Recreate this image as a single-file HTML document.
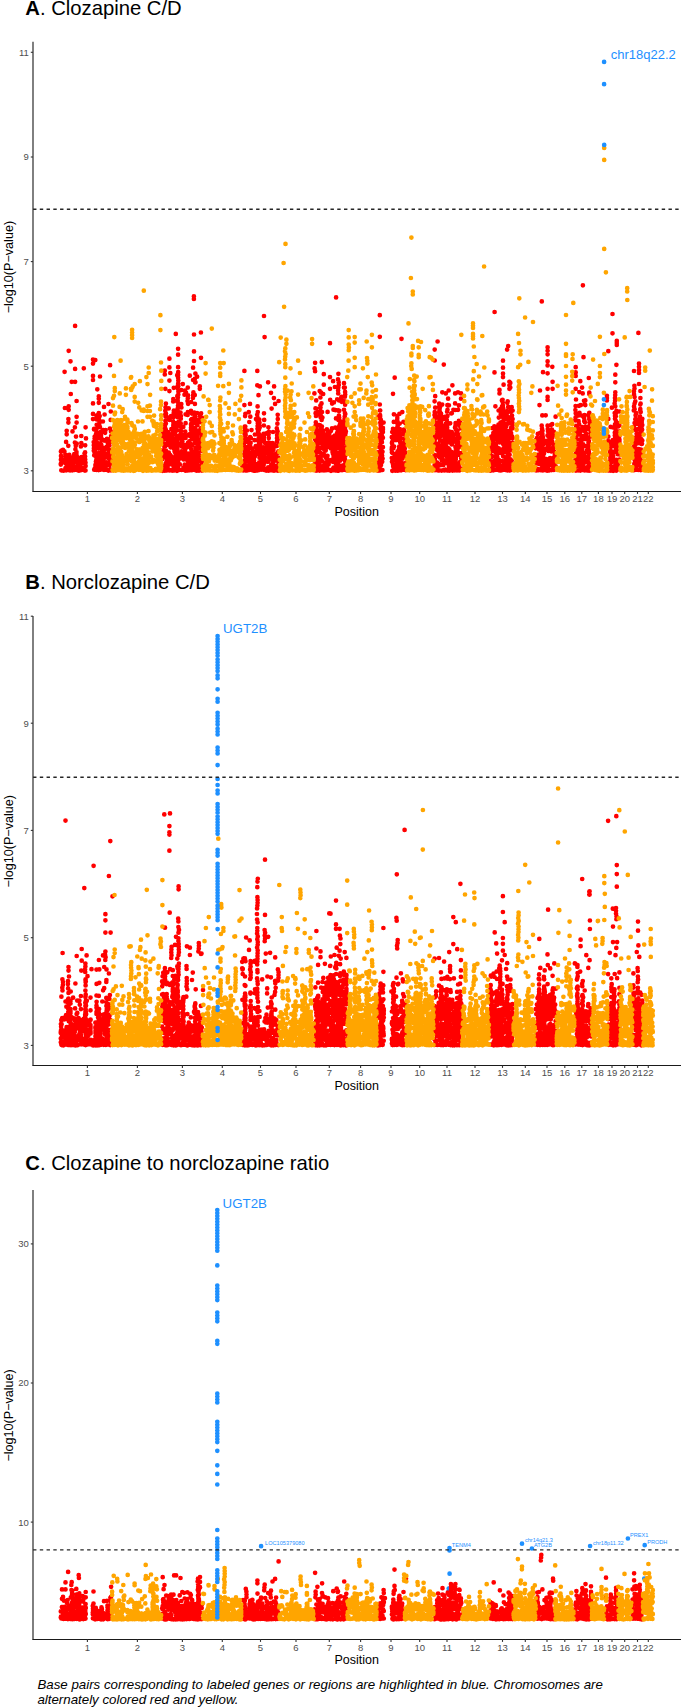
<!DOCTYPE html>
<html><head><meta charset="utf-8"><style>html,body{margin:0;padding:0;background:#fff;overflow:hidden}svg{display:block}text{font-family:"Liberation Sans", sans-serif}</style></head>
<body><svg width="685" height="1707" viewBox="0 0 685 1707">
<rect width="685" height="1707" fill="#fff"/>
<text x="25.3" y="14.6" font-size="20.25" fill="#000"><tspan font-weight="bold">A</tspan>. Clozapine C/D</text>
<path transform="scale(.1)" d="M630 4499h0m-14 8h0m-6 6h0m-1 3h0m1 43h0m3 32h0m-4 6h0m4 30h0m-5 11h0m0 8h0m5 57h0m22 4h0m11-989h0m3 362h0m18 228h0m0 35h0m-6 76h0m-17 95h0m10 31h0m0 20h0m17 7h0m8 5h0m-32 17h0m15 6h0m-21 17h0m37 6h0m-26 6h0m11 42h0m-8 9h0m1 6h0m23 12h0m-22 4h0m5 1h0m25-1195h0m18 105h0m12 205h0m-9 122h0m-21 123h0m0 35h0m-3 93h0m0 35h0m-1 232h0m10 91h0m24 33h0m-11 6h0m5 24h0m-26 2h0m-5 28h0m31 4h0m4 2h0m-26 12h0m-8 5h0m30 2h0m3 24h0m-22 3h0m9 10h0m50-1445h0m0 430h0m0 129h0m-2 455h0m-24 41h0m24 111h0m9 32h0m-4 36h0m-11 47h0m-1 7h0m-6 18h0m0 3h0m12 24h0m2 4h0m-7 28h0m-6 5h0m-11 1h0m7 13h0m-4 2h0m5 12h0m20 16h0m3 17h0m-6 2h0m-6 6h0m-22 5h0m43-693h0m0 158h0m0 58h0m-6 140h0m7 70h0m-1 4h0m-1 80h0m-1 13h0m3 24h0m-6 18h0m27 6h0m-22 8h0m31 9h0m-28 2h0m7 13h0m7 7h0m-7 8h0m1 31h0m11 6h0m2 8h0m-12 17h0m-11 8h0m22 9h0m49-1024h0m-25 677h0m0 70h0m-4 35h0m5 107h0m-5 19h0m5 1h0m-6 7h0m25 9h0m-18 1h0m-5 7h0m-9 2h0m27 6h0m-19 7h0m8 1h0m-2 41h0m18 26h0m-22 2h0m45-428h0m4 111h0m-8 69h0m-1 71h0m-6 11h0m2 28h0m4 1h0m1 30h0m3 33h0m-3 2h0m-6 1h0m10 29h0m-10 42h0m2 0h0m7 3h0m-5 2h0m80-1110h0m23 5h0m-23 35h0m0 123h0m0 41h0m0 234h0m0 105h0m0 52h0m11 97h0m15 3h0m-16 2h0m10 0h0m-9 1h0m17 5h0m-11 67h0m-1 19h0m5 13h0m-13 22h0m-1 0h0m17 4h0m-16 28h0m7 7h0m-6 24h0m15 10h0m-16 14h0m11 8h0m-4 5h0m-3 33h0m17 63h0m-1 23h0m0 4h0m-4 8h0m-6 33h0m-6 13h0m31-804h0m15 70h0m0 24h0m0 41h0m0 103h0m-23 25h0m23 0h0m8 4h0m1 1h0m-31 5h0m25 29h0m-23 0h0m26 34h0m-27 19h0m26 5h0m-2 8h0m4 0h0m4 9h0m-17 4h0m13 51h0m-34 13h0m18 17h0m-16 20h0m29 7h0m-17 3h0m-10 35h0m32 14h0m-29 12h0m20 0h0m-10 14h0m6 23h0m-11 50h0m16 2h0m7 6h0m0 1h0m3 11h0m-39 2h0m15 16h0m-12 2h0m26 22h0m-26 5h0m17 5h0m-13 20h0m13 1h0m-12 2h0m18 5h0m1 3h0m5 5h0m6 8h0m-3 11h0m-25 12h0m20 10h0m3 8h0m-29 9h0m22 2h0m14-936h0m29 450h0m-4 87h0m10 0h0m-30 20h0m5 10h0m-7 7h0m7 18h0m1 19h0m4 14h0m20 12h0m0 1h0m-17 0h0m-5 46h0m1 11h0m-5 3h0m-6 13h0m32 2h0m2 17h0m2 10h0m-17 1h0m13 10h0m1 0h0m-35 11h0m15 5h0m22 1h0m-15 6h0m15 2h0m-21 0h0m19 1h0m-1 15h0m4 29h0m-32 3h0m28 0h0m-34 10h0m5 3h0m29 8h0m0 7h0m-10 10h0m13 2h0m-3 6h0m-22 7h0m-12 6h0m35 10h0m-32 9h0m3 10h0m1 19h0m32-627h0m6 76h0m10 155h0m-5 28h0m19 60h0m8 4h0m-29 14h0m24 1h0m5 24h0m1 19h0m-12 19h0m5 66h0m-22 2h0m29 4h0m-19 17h0m13 18h0m-8 48h0m-17 4h0m-4 21h0m28 4h0m-9 3h0m-1 41h0m8 1h0m-30 1h0m61-1047h0m-16 388h0m23 75h0m-1 84h0m-8 86h0m11 29h0m1 46h0m0 30h0m-2 16h0m-16 15h0m7 2h0m-6 32h0m-9 4h0m-4 34h0m12 6h0m18 6h0m-4 13h0m-25 10h0m29 8h0m-7 8h0m-4 27h0m11 20h0m-12 4h0m2 2h0m-1 36h0m-2 8h0m2 2h0m-5 12h0m11 42h0m4 6h0m-26 3h0m553-386h0m-10 11h0m-1 24h0m-5 2h0m1 72h0m-1 7h0m6 6h0m-1 62h0m12 29h0m-2 21h0m-4 2h0m-4 11h0m2 8h0m-9 17h0m2 68h0m16 6h0m-13 42h0m22-1001h0m0 37h0m5 144h0m6 147h0m-4 38h0m-2 35h0m6 28h0m1 1h0m-8 10h0m3 18h0m-1 43h0m5 27h0m-14 14h0m6 2h0m1 29h0m-11 12h0m15 6h0m3 1h0m-1 18h0m3 35h0m11 19h0m-31 18h0m17 2h0m20 20h0m1 28h0m-29 1h0m-8 1h0m4 0h0m20 2h0m-14 1h0m27 2h0m-19 7h0m-8 9h0m-10 1h0m17 42h0m-11 35h0m-1 3h0m0 5h0m6 12h0m-11 13h0m36 6h0m-11 30h0m12 14h0m-17 4h0m-6 11h0m20 24h0m-19 1h0m19 16h0m-6 24h0m-22 4h0m46-1120h0m0 87h0m9 56h0m-9 76h0m0 105h0m-7 173h0m23 78h0m-19 12h0m-3 16h0m8 9h0m18 92h0m-30 32h0m33 20h0m-26 20h0m-7 20h0m6 11h0m8 8h0m-16 13h0m17 0h0m12 2h0m-10 9h0m11 8h0m-28 2h0m25 4h0m-1 22h0m-2 11h0m-18 52h0m14 25h0m-16 4h0m-6 1h0m24 2h0m5 4h0m-11 9h0m-2 23h0m16 10h0m-1 1h0m5 33h0m-10 4h0m-14 58h0m4 2h0m18 3h0m-18 1h0m62-1366h0m-20 539h0m-5 112h0m4 15h0m-5 9h0m7 91h0m-1 3h0m-1 23h0m2 12h0m-1 8h0m-7 23h0m1 41h0m2 27h0m-1 17h0m1 2h0m1 28h0m0 4h0m3 2h0m-4 7h0m1 10h0m-4 11h0m19 18h0m-28 21h0m33 26h0m-16 0h0m16 5h0m-4 24h0m-12 0h0m-16 0h0m30 8h0m-8 9h0m-13 2h0m16 2h0m-24 5h0m-2 5h0m23 18h0m-6 18h0m-1 2h0m8 30h0m5 10h0m4 3h0m-4 38h0m-15 18h0m1 3h0m-1 9h0m3 4h0m13 6h0m3 0h0m-20 19h0m10 0h0m-10 17h0m-3 10h0m5 18h0m2 7h0m5 25h0m-8 1h0m-9 2h0m54-1218h0m0 59h0m0 125h0m1 50h0m-1 28h0m-9 2h0m9 26h0m2 28h0m-1 28h0m1 28h0m-7 1h0m4 27h0m4 28h0m-1 28h0m-10 16h0m6 12h0m-2 28h0m-4 14h0m10 14h0m-3 28h0m-3 28h0m2 28h0m-1 28h0m7 28h0m-11 2h0m11 47h0m-18 12h0m0 3h0m12 9h0m-14 24h0m8 36h0m11 56h0m-9 5h0m-2 1h0m15 5h0m-12 3h0m-9 6h0m1 2h0m1 29h0m22 23h0m-12 12h0m-2 14h0m-8 12h0m5 18h0m-4 1h0m3 18h0m13 21h0m-6 17h0m-6 11h0m-9 2h0m0 18h0m8 7h0m9 20h0m-17 10h0m16 8h0m17 22h0m-33 20h0m0 1h0m16 10h0m-1 6h0m-6 7h0m18 11h0m-22 9h0m58-867h0m-15 59h0m0 141h0m1 34h0m-9 50h0m4 36h0m-4 12h0m0 2h0m3 12h0m-1 47h0m-7 18h0m5 14h0m28 3h0m-25 37h0m2 5h0m-1 24h0m-2 15h0m22 0h0m-20 2h0m-4 36h0m17 15h0m2 12h0m2 24h0m-21 3h0m9 13h0m-1 4h0m9 8h0m-6 47h0m21 8h0m-19 21h0m-14 23h0m9 10h0m-5 5h0m1 1h0m23 5h0m5 8h0m-2 79h0m1 22h0m-22 4h0m64-824h0m-29 29h0m11 20h0m-15 22h0m33 35h0m-3 28h0m3 112h0m-22 21h0m20 7h0m-20 82h0m-4 83h0m19 42h0m-22 5h0m-4 11h0m8 4h0m2 2h0m-1 71h0m7 2h0m9 21h0m-20 20h0m1 6h0m-6 22h0m-1 5h0m33 11h0m-2 8h0m-34 7h0m28 33h0m-1 10h0m0 3h0m-21 47h0m25 14h0m-18 4h0m11 9h0m4 5h0m-11 27h0m-1 3h0m41-950h0m-18 197h0m32 66h0m-31 18h0m29 71h0m8 24h0m1 3h0m-1 54h0m-7 8h0m-1 44h0m4 1h0m2 6h0m-4 9h0m5 15h0m-7 5h0m2 13h0m-2 10h0m9 8h0m-6 25h0m0 4h0m-21 6h0m26 5h0m-17 11h0m18 3h0m-7 3h0m5 23h0m-24 24h0m-12 12h0m29 17h0m-18 23h0m21 31h0m2 31h0m-24 8h0m27 0h0m-7 22h0m-17 7h0m-5 27h0m10 6h0m13 9h0m7 13h0m-31 3h0m-4 2h0m33 0h0m-15 10h0m-21 0h0m37 9h0m-28 11h0m6 7h0m18 11h0m-2 3h0m-1 11h0m-2 4h0m-7 11h0m15 1h0m-37 3h0m59-1741h0m0 26h0m1 355h0m0 169h0m0 96h0m-9 67h0m23 59h0m-6 53h0m-17 11h0m24 23h0m-4 0h0m-17 101h0m14 27h0m-17 1h0m-2 28h0m20 59h0m-6 88h0m11 20h0m0 19h0m-6 1h0m-26 23h0m30 7h0m5 8h0m-4 8h0m0 2h0m2 10h0m-1 2h0m-25 3h0m-1 46h0m10 0h0m13 9h0m0 1h0m-15 19h0m14 12h0m-1 5h0m7 4h0m-25 8h0m19 2h0m8 2h0m-6 1h0m2 8h0m2 0h0m-5 6h0m0 8h0m-18 2h0m13 13h0m0 14h0m2 2h0m-14 2h0m19 0h0m-3 38h0m-28 22h0m34 27h0m-30 35h0m22 2h0m-17 0h0m6 21h0m5 9h0m-4 9h0m19 11h0m-9 1h0m-13 6h0m14 6h0m-13 9h0m0 2h0m8 1h0m-3 13h0m-1 12h0m8 4h0m4 2h0m-13 3h0m16 39h0m-29 20h0m28 2h0m-30 9h0m22 2h0m11 0h0m14-932h0m27 97h0m0 24h0m-27 242h0m7 72h0m8 15h0m-12 35h0m-1 54h0m19 16h0m-22 26h0m4 7h0m10 39h0m-15 12h0m2 15h0m-8 2h0m-1 3h0m21 2h0m14 8h0m-12 4h0m13 10h0m-22 4h0m-3 26h0m-3 14h0m-2 35h0m13 1h0m3 3h0m-14 11h0m8 19h0m0 1h0m-13 6h0m25 11h0m-24 1h0m29 2h0m-15 30h0m-9 9h0m1 29h0m14 19h0m-2 5h0m-8 11h0m14 19h0m-22 1h0m41-1382h0m1 253h0m1 555h0m-10 29h0m8 13h0m10 0h0m-9 47h0m-2 62h0m9 35h0m-6 12h0m7 33h0m-10 32h0m0 4h0m-2 12h0m3 35h0m-2 0h0m5 7h0m1 20h0m0 27h0m6 2h0m0 5h0m-11 53h0m0 17h0m3 1h0m6 5h0m2 30h0m-11 1h0m5 37h0m2 5h0m-5 3h0m-8 30h0m10 7h0m7 9h0m409-385h0m-6 60h0m12 1h0m-8 17h0m13 14h0m-5 7h0m-3 65h0m1 64h0m-7 102h0m-3 4h0m9 16h0m-1 22h0m-3 4h0m6 7h0m11-995h0m0 342h0m10 87h0m-3 23h0m2 104h0m-5 0h0m0 9h0m1 8h0m2 15h0m18 8h0m-23 30h0m5 5h0m4 1h0m1 1h0m-6 2h0m4 4h0m2 5h0m-6 6h0m3 31h0m11 4h0m-11 2h0m13 15h0m7 7h0m-14 0h0m-16 42h0m5 8h0m3 3h0m15 2h0m-20 9h0m10 1h0m1 23h0m-10 10h0m7 22h0m1 10h0m-6 5h0m5 12h0m-3 1h0m15 1h0m5 0h0m0 9h0m0 24h0m-24 5h0m17 6h0m-8 5h0m-13 23h0m7 13h0m6 3h0m-3 12h0m-9 4h0m-2 11h0m28 8h0m-22 2h0m1 10h0m22 2h0m-17 1h0m46-666h0m-12 82h0m15 46h0m-10 53h0m22 81h0m-14 69h0m8 11h0m-19 7h0m16 41h0m-13 23h0m11 16h0m-14 17h0m-6 35h0m5 12h0m13 2h0m-12 13h0m9 21h0m3 14h0m11 1h0m-6 8h0m-26 25h0m33 14h0m1 11h0m-25 6h0m-7 11h0m2 3h0m12 10h0m18 26h0m0 0h0m-22 3h0m56-355h0m-3 57h0m12 59h0m-3 7h0m-30 18h0m23 34h0m-23 3h0m26 8h0m1 19h0m-27 3h0m13 5h0m2 2h0m11 1h0m-12 23h0m1 21h0m-8 41h0m13 13h0m8 3h0m-16 3h0m10 2h0m-18 23h0m22 6h0m-20 1h0m-1 7h0m7 2h0m15 1h0m21-998h0m0 144h0m26 11h0m-14 88h0m-9 112h0m2 56h0m-6 28h0m3 28h0m-15 14h0m33 6h0m-4 8h0m-16 0h0m22 24h0m-17 4h0m17 26h0m-19 2h0m21 15h0m-22 13h0m3 1h0m11 9h0m-9 18h0m10 25h0m0 2h0m-12 1h0m12 8h0m8 5h0m-1 8h0m-2 2h0m1 11h0m-2 0h0m-6 3h0m3 1h0m-1 11h0m-16 7h0m15 2h0m-1 7h0m9 0h0m0 6h0m-8 12h0m-5 29h0m-11 11h0m16 0h0m6 10h0m0 9h0m-26 6h0m28 4h0m-26 17h0m17 2h0m7 0h0m-14 15h0m1 7h0m13 41h0m-3 46h0m2 3h0m-31 13h0m29 8h0m-14 25h0m18 25h0m-22 6h0m65-449h0m-3 83h0m3 36h0m-36 16h0m36 6h0m0 5h0m-5 11h0m-31 34h0m33 28h0m-19 1h0m3 2h0m-9 25h0m24 9h0m-3 17h0m3 17h0m-17 1h0m12 4h0m-21 4h0m18 4h0m6 24h0m5 8h0m-7 14h0m-15 4h0m4 12h0m-7 1h0m-7 33h0m29 0h0m-34 13h0m17 30h0m22-1537h0m6 211h0m-6 762h0m2 66h0m20 134h0m-21 23h0m7 72h0m27 28h0m3 22h0m-12 8h0m5 4h0m0 16h0m6 1h0m-36 9h0m27 18h0m-24 7h0m23 41h0m1 2h0m-12 23h0m-13 15h0m1 5h0m-4 9h0m7 52h0m-7 10h0m25 2h0m-12 1h0m9 5h0m19-883h0m29 105h0m6 158h0m-32 187h0m6 46h0m-7 5h0m3 22h0m2 35h0m-4 46h0m22 3h0m6 10h0m2 0h0m-19 31h0m-12 11h0m8 10h0m6 4h0m-5 16h0m19 11h0m-5 2h0m0 4h0m-10 11h0m-10 1h0m9 5h0m-4 18h0m18 22h0m-26 31h0m-3 1h0m33 30h0m-31 26h0m33 0h0m2 4h0m-11 24h0m-22 5h0m57-843h0m-2 117h0m12 58h0m-21 281h0m-5 110h0m15 18h0m-6 8h0m13 6h0m4 2h0m-28 2h0m6 5h0m5 28h0m-14 25h0m0 11h0m35 5h0m-35 16h0m37 0h0m-8 6h0m5 9h0m-10 0h0m0 2h0m12 3h0m-14 5h0m15 12h0m2 11h0m-31 4h0m6 10h0m-7 23h0m-3 3h0m10 7h0m-4 5h0m7 24h0m-1 6h0m13 3h0m1 11h0m-29 2h0m7 3h0m11 0h0m5 0h0m-4 2h0m46-697h0m-9 138h0m1 43h0m-4 46h0m-6 46h0m4 24h0m4 7h0m-4 1h0m3 1h0m-4 33h0m1 23h0m2 6h0m-4 4h0m7 13h0m-5 17h0m-3 5h0m15 28h0m-15 14h0m15 55h0m-2 4h0m-1 5h0m-5 7h0m8 47h0m-11 24h0m10 15h0m-10 41h0m-2 3h0m-9 24h0m10 20h0m7 3h0m372-1079h0m-5 56h0m5 28h0m-7 222h0m11 150h0m1 48h0m2 91h0m-2 33h0m0 21h0m3 6h0m-5 3h0m2 0h0m-2 6h0m0 5h0m2 1h0m1 41h0m-10 5h0m3 47h0m9 21h0m-10 37h0m7 1h0m-1 23h0m-8 5h0m11 5h0m-4 3h0m5 17h0m-1 1h0m-1 19h0m-10 14h0m9 16h0m-9 85h0m0 24h0m9 9h0m3 19h0m-4 9h0m-3 2h0m2 2h0m43-792h0m-35 93h0m1 83h0m22 34h0m12 16h0m-37 23h0m0 71h0m34 19h0m-33 32h0m2 15h0m31 15h0m-3 1h0m-6 37h0m-8 10h0m2 4h0m7 4h0m-17 0h0m-4 10h0m21 4h0m7 19h0m-6 10h0m-3 5h0m3 15h0m-17 19h0m7 15h0m-13 1h0m29 29h0m-28 5h0m-2 14h0m34 6h0m-34 5h0m29 41h0m-17 2h0m6 5h0m0 3h0m13 21h0m-28 8h0m3 9h0m15 16h0m11 2h0m-35 18h0m30 4h0m-21 29h0m27 17h0m-22 3h0m22 3h0m-35 0h0m57-1084h0m20 120h0m0 105h0m-28 80h0m22 13h0m-28 35h0m11 59h0m-11 22h0m1 20h0m3 38h0m12 7h0m-8 3h0m-8 34h0m6 2h0m-5 11h0m19 5h0m-8 23h0m-15 54h0m2 10h0m12 0h0m4 2h0m-6 11h0m-9 19h0m16 7h0m11 5h0m-5 15h0m10 15h0m-32 11h0m5 3h0m26 12h0m-22 22h0m-4 11h0m16 2h0m5 19h0m-27 2h0m10 2h0m11 2h0m-6 11h0m-9 45h0m-4 1h0m34 11h0m-20 46h0m6 18h0m-16 40h0m11 16h0m-10 3h0m-7 2h0m33 40h0m-17 7h0m-5 15h0m-9 1h0m25 6h0m-12 17h0m58-583h0m-7 175h0m-11 63h0m8 38h0m-10 15h0m6 10h0m-12 9h0m15 7h0m-1 2h0m-9 9h0m-15 4h0m17 3h0m22 15h0m-16 9h0m-6 26h0m-4 3h0m-10 44h0m32 7h0m-19 14h0m5 7h0m11 1h0m-4 3h0m8 21h0m2 14h0m-19 6h0m7 0h0m13 11h0m-18 1h0m-13 8h0m23 27h0m-22 23h0m18 3h0m1 2h0m-6 3h0m-11 0h0m-11 3h0m60-1273h0m0 339h0m0 117h0m2 111h0m7 311h0m-21 8h0m-8 5h0m15 9h0m-9 24h0m2 7h0m19 10h0m-24 9h0m9 21h0m13 26h0m-19 13h0m23 42h0m1 117h0m-24 8h0m22 2h0m-22 33h0m-2 55h0m5 0h0m21 9h0m21-896h0m18 58h0m-10 154h0m-18 12h0m14 61h0m20 5h0m-1 175h0m-34 7h0m27 72h0m0 3h0m-14 10h0m20 4h0m-3 0h0m-12 18h0m-18 7h0m21 17h0m11 2h0m-30 33h0m30 1h0m-6 9h0m2 31h0m3 27h0m-26 1h0m9 2h0m-5 17h0m7 32h0m8 27h0m-10 7h0m4 7h0m13 2h0m-3 1h0m-11 4h0m-4 1h0m3 57h0m-9 16h0m15 0h0m-10 10h0m22 3h0m7-1731h0m23 764h0m-4 56h0m7 28h0m1 28h0m-5 28h0m-2 28h0m1 28h0m-10 59h0m19 11h0m-9 100h0m11 4h0m-3 3h0m-1 44h0m3 20h0m-32 9h0m31 6h0m-6 11h0m12 49h0m-7 19h0m3 6h0m-4 11h0m7 1h0m-19 10h0m20 19h0m-27 16h0m12 24h0m4 14h0m-7 5h0m-4 3h0m-13 39h0m28 5h0m-11 9h0m20 18h0m-9 13h0m-13 4h0m-8 6h0m19 9h0m2 2h0m-27 3h0m11 46h0m-12 24h0m12 6h0m-6 8h0m23 15h0m6 4h0m-33 3h0m24 15h0m-6 0h0m-16 1h0m-5 33h0m23 2h0m1 14h0m-14 2h0m-2 39h0m29 3h0m-12 5h0m-10 1h0m41-738h0m-5 7h0m6 29h0m-1 13h0m-6 198h0m2 13h0m-9 2h0m9 18h0m-1 12h0m4 9h0m5 0h0m8 11h0m-9 9h0m2 4h0m10 4h0m-28 1h0m-4 5h0m39 7h0m-10 7h0m-8 1h0m-16 13h0m26 25h0m-13 7h0m19 14h0m-29 14h0m11 7h0m-2 2h0m-11 2h0m2 1h0m9 21h0m3 13h0m7 13h0m-27 9h0m20 8h0m7 8h0m-4 21h0m-4 10h0m-5 6h0m-10 6h0m14 16h0m-10 2h0m8 6h0m0 6h0m-4 27h0m-2 14h0m23 2h0m-29 0h0m-4 15h0m25 50h0m-11 6h0m-2 8h0m18 11h0m-26 6h0m15 3h0m1 11h0m20-870h0m0 44h0m8 0h0m3 43h0m1 27h0m-3 21h0m-2 47h0m1 2h0m3 31h0m-11 51h0m9 33h0m2 6h0m2 3h0m-6 26h0m-1 21h0m4 19h0m1 3h0m-5 19h0m1 11h0m8 21h0m-7 2h0m3 32h0m-3 5h0m11 17h0m-8 1h0m4 17h0m-5 11h0m3 18h0m-2 56h0m13 7h0m-23 6h0m22 42h0m-11 4h0m0 1h0m2 19h0m-8 4h0m18 4h0m0 3h0m-13 21h0m-2 8h0m3 3h0m-5 9h0m-1 9h0m6 1h0m-2 35h0m1 17h0m11 13h0m2 14h0m-24 13h0m24 22h0m-4 4h0m-14 13h0m-4 5h0m22 6h0m334-1550h0m0 216h0m0 677h0m-13 117h0m9 18h0m-5 171h0m6 7h0m-18 29h0m16 5h0m-8 2h0m5 75h0m-11 54h0m19 52h0m-15 30h0m11 26h0m-5 15h0m10 5h0m-5 22h0m-19 8h0m16 4h0m-2 1h0m0 3h0m9 6h0m-1 7h0m-8 3h0m-3 0h0m-6 1h0m22-601h0m-2 1h0m1 46h0m0 13h0m7 32h0m28 29h0m-33 1h0m5 3h0m-2 19h0m3 18h0m20 12h0m-1 6h0m-24 3h0m10 5h0m15 4h0m-14 2h0m-1 14h0m15 8h0m-9 37h0m9 20h0m-22 4h0m1 6h0m8 18h0m-12 4h0m15 12h0m-19 25h0m29 25h0m-1 3h0m-17 6h0m-1 3h0m-1 14h0m-3 13h0m19 7h0m-25 25h0m21 13h0m-18 6h0m0 11h0m7 3h0m16 10h0m-25 7h0m1 5h0m20 20h0m-17 26h0m5 7h0m-2 1h0m-1 41h0m17 7h0m-22 3h0m116-331h0m1 101h0m-1 16h0m0 9h0m1 24h0m-1 58h0m29-803h0m-17 161h0m9 205h0m-1 76h0m-8 70h0m10 28h0m-18 3h0m14 32h0m3 2h0m20 8h0m-15 15h0m-2 10h0m-1 1h0m-9 2h0m8 1h0m-13 15h0m-1 5h0m-6 14h0m0 7h0m6 25h0m15 8h0m-7 18h0m-10 47h0m34 9h0m-11 16h0m3 42h0m-22 7h0m-8 13h0m17 27h0m-7 1h0m2 20h0m13 33h0m12 9h0m-34 1h0m71-569h0m-21 19h0m0 23h0m-1 19h0m3 14h0m-1 22h0m23 0h0m-18 20h0m-2 1h0m-2 19h0m-5 4h0m5 6h0m0 0h0m23 5h0m-23 5h0m24 4h0m-21 10h0m13 9h0m7 12h0m-24 0h0m-11 4h0m36 17h0m-31 44h0m11 2h0m-19 3h0m32 66h0m-1 20h0m7 19h0m-22 8h0m-4 11h0m-7 16h0m15 4h0m-16 5h0m6 5h0m6 3h0m1 8h0m16 17h0m-16 7h0m6 2h0m13 6h0m-20 20h0m-9 21h0m28 5h0m-32 21h0m4 11h0m27 2h0m-28 4h0m6 9h0m9 4h0m-14 8h0m22 0h0m-14 2h0m1 2h0m39-1319h0m8 733h0m12 97h0m4 77h0m-1 35h0m-31 0h0m13 12h0m-19 29h0m-1 28h0m2 26h0m28 28h0m5 15h0m-2 14h0m-15 38h0m-4 4h0m17 19h0m-16 3h0m-14 17h0m30 5h0m-16 12h0m8 7h0m-6 42h0m-12 7h0m25 10h0m-30 32h0m12 2h0m-1 9h0m13 3h0m9 4h0m-22 7h0m43-472h0m-3 96h0m4 12h0m1 40h0m-14 8h0m10 0h0m3 2h0m1 35h0m-8 2h0m-7 1h0m13 26h0m-6 32h0m-3 9h0m-1 3h0m0 21h0m8 9h0m-1 5h0m-7 1h0m1 36h0m11 63h0m-16 12h0m4 8h0m4 3h0m2 1h0m6 8h0m0 31h0m-1 6h0m292-1205h0m0 109h0m5 357h0m-6 51h0m6 64h0m-5 44h0m6 9h0m-1 4h0m-3 12h0m-4 5h0m14 12h0m-1 14h0m-10 6h0m-3 19h0m10 59h0m0 42h0m-4 51h0m-5 9h0m0 42h0m1 42h0m-2 5h0m2 5h0m2 11h0m1 17h0m-5 66h0m2 9h0m-2 16h0m3 11h0m4 23h0m4 8h0m-10 34h0m1 14h0m12 28h0m-10 5h0m1 3h0m26-1287h0m16 622h0m6 17h0m-3 2h0m-2 9h0m2 28h0m-1 16h0m1 12h0m3 23h0m-34 26h0m35 4h0m-2 23h0m-3 9h0m2 8h0m-1 12h0m-28 7h0m30 15h0m-18 32h0m-8 9h0m18 28h0m-15 21h0m23 3h0m2 29h0m-1 4h0m-31 2h0m-3 59h0m16 1h0m1 10h0m18 10h0m0 3h0m-36 5h0m1 4h0m30 1h0m-29 4h0m16 12h0m-7 19h0m19 7h0m0 26h0m-8 4h0m11 8h0m-6 16h0m8 10h0m-26 50h0m17 17h0m4 13h0m-25 8h0m5 14h0m-8 9h0m-5 9h0m12 5h0m22 3h0m-13 2h0m57-1059h0m-15 277h0m-1 123h0m-22 27h0m0 49h0m10 14h0m-7 9h0m22 28h0m6 2h0m-10 3h0m3 13h0m-11 21h0m-2 20h0m-1 24h0m9 2h0m-7 15h0m10 6h0m-20 10h0m4 1h0m25 2h0m3 20h0m-3 10h0m-28 6h0m-3 10h0m0 5h0m26 12h0m-25 50h0m27 5h0m-4 11h0m14 15h0m-6 3h0m-3 12h0m-2 2h0m-19 11h0m10 19h0m-3 2h0m-8 28h0m-7 12h0m0 3h0m32 1h0m-17 6h0m1 36h0m9 20h0m-8 11h0m5 6h0m17 27h0m-24 15h0m19 1h0m4 51h0m-22 4h0m42-772h0m16 118h0m1 46h0m-4 19h0m3 44h0m-29 7h0m0 20h0m22 8h0m0 10h0m4 12h0m-2 13h0m-2 2h0m0 0h0m4 2h0m-12 3h0m-4 15h0m17 4h0m0 21h0m-30 15h0m27 5h0m-24 21h0m24 2h0m-24 4h0m30 11h0m-30 15h0m29 7h0m-29 31h0m19 8h0m-22 5h0m2 6h0m27 14h0m0 4h0m-27 9h0m-4 20h0m19 4h0m-4 2h0m23 17h0m-33 5h0m0 9h0m30 2h0m-30 13h0m27 9h0m-3 9h0m-14 13h0m18 10h0m-18 3h0m24 8h0m-14 3h0m6 35h0m0 1h0m1 4h0m-14 0h0m10 14h0m10 12h0m-10 2h0m-13 67h0m5 2h0m12 6h0m0 0h0m-29 0h0m44-800h0m-6 82h0m0 64h0m8 2h0m30 78h0m-6 4h0m-11 98h0m-9 84h0m25 3h0m-18 17h0m-10 5h0m23 2h0m-14 15h0m-12 6h0m22 9h0m-14 16h0m13 19h0m-1 7h0m-15 8h0m27 6h0m-1 15h0m-24 49h0m18 25h0m-25 1h0m14 24h0m13 1h0m-16 19h0m15 6h0m-3 7h0m-7 8h0m12 3h0m1 2h0m-19 6h0m-3 37h0m-6 23h0m24 1h0m-1 0h0m-22 4h0m15 40h0m-22 3h0m14 2h0m28-853h0m27 81h0m0 100h0m-17 64h0m18 2h0m4 130h0m0 21h0m-6 23h0m4 8h0m1 58h0m-23 6h0m-10 5h0m11 18h0m19 16h0m-25 28h0m28 59h0m3 29h0m-1 5h0m-23 22h0m4 9h0m-7 12h0m16 7h0m-22 11h0m8 1h0m19 1h0m6 6h0m-14 7h0m14 8h0m-26 7h0m25 1h0m-23 19h0m23 21h0m-15 2h0m15 4h0m-22 7h0m-9 3h0m16 0h0m14 25h0m3 12h0m-7 0h0m-18 6h0m14 6h0m-22 3h0m54-783h0m9 131h0m-9 44h0m9 110h0m3 28h0m3 22h0m-35 40h0m16 5h0m-7 18h0m3 17h0m18 22h0m-8 1h0m7 1h0m-15 29h0m3 6h0m-9 28h0m26 2h0m-31 3h0m22 34h0m8 1h0m1 4h0m-18 11h0m-1 17h0m-3 5h0m6 17h0m0 11h0m4 10h0m5 6h0m9 5h0m-6 79h0m5 2h0m-30 2h0m9 18h0m10 6h0m8 1h0m-16 7h0m-9 26h0m25 12h0m-22 0h0m40-770h0m0 53h0m-6 240h0m9 58h0m-1 55h0m-3 39h0m-7 72h0m7 5h0m4 74h0m-1 52h0m1 29h0m-13 10h0m13 68h0m0 8h0m300-332h0m-4 25h0m-10 6h0m0 42h0m15 28h0m5 1h0m-10 23h0m-9 49h0m1 32h0m13 2h0m-14 41h0m14 25h0m-15 5h0m18 24h0m-13 39h0m42-1587h0m-1 604h0m9 339h0m-11 201h0m3 15h0m-22 3h0m27 16h0m-2 3h0m-16 29h0m25 4h0m-12 31h0m-24 27h0m14 6h0m-12 19h0m8 5h0m-7 13h0m12 5h0m12 1h0m-12 16h0m20 3h0m-14 34h0m11 6h0m-5 1h0m8 3h0m-25 8h0m26 13h0m-34 38h0m3 1h0m32 26h0m-16 20h0m-3 5h0m-4 5h0m16 1h0m-20 2h0m4 3h0m-3 7h0m19 5h0m-28 6h0m5 1h0m4 8h0m-5 21h0m0 20h0m-2 3h0m22 2h0m-16 4h0m63-804h0m0 35h0m-9 171h0m2 71h0m-3 69h0m9 9h0m-10 7h0m7 13h0m-6 15h0m7 10h0m-31 0h0m25 1h0m0 5h0m0 6h0m8 3h0m-30 18h0m-1 2h0m23 1h0m-8 15h0m0 16h0m13 12h0m-18 4h0m1 15h0m4 8h0m-1 13h0m9 4h0m7 0h0m2 3h0m-34 34h0m26 25h0m3 28h0m-15 14h0m-1 9h0m-4 17h0m-9 6h0m12 13h0m15 27h0m-21 6h0m20 9h0m8 3h0m-3 1h0m-24 16h0m4 2h0m13 14h0m-18 0h0m6 16h0m15 7h0m-18 24h0m22 7h0m38-1096h0m0 70h0m0 59h0m0 35h0m6 76h0m-10 151h0m-7 6h0m9 22h0m1 28h0m-9 10h0m-1 16h0m13 2h0m-27 8h0m13 16h0m16 4h0m-12 5h0m-5 6h0m-10 21h0m14 4h0m1 22h0m8 45h0m-4 3h0m2 4h0m-23 5h0m16 2h0m12 7h0m-25 9h0m0 1h0m13 39h0m-9 2h0m20 11h0m-18 15h0m6 10h0m9 3h0m-19 2h0m25 9h0m-18 10h0m0 36h0m10 4h0m-8 7h0m8 19h0m1 21h0m5 14h0m-14 49h0m6 16h0m-16 19h0m10 4h0m12 29h0m-9 47h0m-13 45h0m8 10h0m20 18h0m-5 14h0m-5 2h0m-22 4h0m5 1h0m61-1208h0m6 517h0m-4 15h0m1 77h0m5 10h0m-5 5h0m-24 12h0m8 25h0m18 8h0m-7 10h0m-17 0h0m1 12h0m18 1h0m-31 43h0m38 0h0m-23 9h0m-6 1h0m-4 2h0m-5 13h0m22 7h0m-3 8h0m10 41h0m-3 21h0m11 5h0m-27 9h0m6 9h0m21 2h0m-21 16h0m4 4h0m-10 36h0m27 2h0m-1 5h0m-3 8h0m-23 16h0m18 3h0m-13 1h0m22 2h0m-27 5h0m-8 20h0m34 15h0m-7 11h0m-23 18h0m31 32h0m-2 2h0m-1 8h0m-19 12h0m15 17h0m2 4h0m3 11h0m-29 4h0m27 1h0m-10 14h0m9 5h0m-11 4h0m18 1h0m-38 6h0m37 26h0m-24 2h0m20 8h0m0 3h0m-34 4h0m0 10h0m35 5h0m-20 1h0m-1 0h0m22 5h0m6-1244h0m12 357h0m9 11h0m-9 24h0m9 23h0m-9 12h0m-12 181h0m35 3h0m-7 37h0m0 7h0m-30 2h0m0 3h0m26 58h0m5 0h0m-21 0h0m-6 16h0m32 29h0m-8 2h0m-21 8h0m24 44h0m-9 26h0m-17 10h0m8 10h0m18 7h0m-28 10h0m17 8h0m-5 6h0m17 17h0m-19 10h0m-6 37h0m12 17h0m-17 8h0m30 8h0m-32 1h0m0 0h0m30 28h0m5 6h0m-5 1h0m0 4h0m2 3h0m5 6h0m-1 0h0m-33 24h0m1 16h0m5 3h0m7 4h0m-9 30h0m12 14h0m7 2h0m11 12h0m-9 3h0m1 15h0m1 1h0m-7 23h0m-12 11h0m-9 13h0m16 33h0m28-599h0m-6 49h0m6 35h0m-2 38h0m2 21h0m0 34h0m-5 81h0m5 15h0m-6 0h0m6 47h0m-5 265h0m-1 6h0m237-297h0m0 53h0m0 30h0m0 90h0m0 5h0m0 26h0m0 22h0m0 57h0m38-632h0m-17 288h0m-8 41h0m29 1h0m-20 17h0m15 12h0m2 0h0m-8 5h0m-1 4h0m-11 12h0m-3 26h0m25 4h0m-31 3h0m-3 6h0m4 6h0m21 19h0m-3 51h0m-21 5h0m15 23h0m6 3h0m-14 9h0m3 18h0m-13 11h0m33 7h0m-26 13h0m29 2h0m-6 2h0m-12 52h0m4 11h0m-22 3h0m56-1691h0m12 708h0m-30 183h0m23 249h0m-6 103h0m3 29h0m0 19h0m5 2h0m-10 15h0m-15 9h0m24 8h0m-6 5h0m2 1h0m5 9h0m-6 10h0m8 4h0m1 7h0m-6 4h0m-7 9h0m6 6h0m-2 3h0m-17 10h0m17 3h0m2 15h0m-1 10h0m-12 0h0m29 5h0m-14 2h0m12 42h0m-29 1h0m27 1h0m-14 3h0m-12 25h0m30 5h0m-17 9h0m5 1h0m-14 35h0m21 1h0m-8 1h0m-22 23h0m19 4h0m-16 1h0m20 15h0m-16 5h0m12 12h0m-9 2h0m6 15h0m10 6h0m-3 17h0m0 13h0m10 3h0m-18 1h0m0 14h0m8 2h0m-19 2h0m22 3h0m48-1231h0m0 35h0m0 35h0m0 70h0m0 41h0m0 79h0m0 155h0m0 81h0m0 30h0m-19 154h0m19 104h0m2 33h0m-3 65h0m-34 52h0m26 1h0m6 14h0m3 16h0m1 3h0m0 29h0m-2 10h0m-26 13h0m25 7h0m-34 36h0m24 55h0m10 29h0m-25 4h0m-5 9h0m34 16h0m-33 2h0m25 9h0m3 6h0m0 7h0m-23 27h0m22 7h0m38-456h0m9 44h0m-39 14h0m1 5h0m35 0h0m2 17h0m-35 13h0m0 17h0m26 26h0m-12 9h0m-7 4h0m23 10h0m-10 1h0m-9 14h0m15 12h0m-28 13h0m4 13h0m33 24h0m-25 4h0m9 16h0m-19 3h0m29 3h0m2 2h0m-13 66h0m-9 26h0m-8 8h0m31 3h0m2 21h0m-35 32h0m34 30h0m-22 2h0m29-1035h0m3 150h0m0 70h0m30 279h0m-34 75h0m17 76h0m19 31h0m-38 13h0m3 13h0m1 1h0m-2 40h0m-1 6h0m3 14h0m17 11h0m16 4h0m-10 19h0m-22 10h0m9 3h0m-14 8h0m22 26h0m8 9h0m8 9h0m-9 7h0m-1 11h0m1 0h0m-1 14h0m3 10h0m3 3h0m-22 2h0m14 15h0m0 29h0m-23 20h0m0 8h0m18 1h0m-15 6h0m32 2h0m-15 3h0m12 8h0m-17 25h0m219-1027h0m0 52h0m0 35h0m0 129h0m-1 172h0m-2 40h0m3 33h0m-1 41h0m-2 24h0m0 6h0m4 80h0m-4 32h0m2 10h0m-2 74h0m0 6h0m0 13h0m1 18h0m-1 5h0m0 44h0m4 52h0m-4 5h0m0 17h0m1 35h0m-1 7h0m0 33h0m3 13h0m-1 15h0m-2 12h0m5 31h0m34-785h0m-33 74h0m30 63h0m5 71h0m-8 26h0m-1 57h0m6 32h0m-31 14h0m5 18h0m14 7h0m-16 25h0m24 18h0m-1 1h0m2 3h0m1 12h0m4 1h0m-24 6h0m-10 24h0m5 18h0m31 7h0m-9 43h0m9 1h0m-19 1h0m8 43h0m-3 16h0m-16 18h0m28 18h0m3 6h0m2 3h0m0 4h0m-12 0h0m-6 19h0m10 2h0m-6 3h0m-13 3h0m-7 17h0m34 0h0m-1 1h0m-11 12h0m-27 1h0m6 31h0m31 2h0m-11 20h0m-5 43h0m48-1852h0m6 719h0m-32 240h0m18 64h0m6 58h0m-18 117h0m7 104h0m14 7h0m6 9h0m-12 101h0m7 7h0m-8 10h0m3 12h0m-23 16h0m28 45h0m-12 0h0m-1 6h0m2 2h0m19 21h0m-25 2h0m-2 27h0m0 6h0m20 18h0m-18 13h0m13 12h0m-20 1h0m16 34h0m-19 2h0m5 20h0m10 14h0m4 1h0m7 8h0m-17 22h0m-7 8h0m12 8h0m-17 14h0m18 18h0m5 2h0m7 5h0m2 18h0m-32 19h0m22 14h0m2 5h0m-20 18h0m20 0h0m-22 6h0m50-702h0m-13 4h0m9 37h0m4 6h0m-7 100h0m-5 27h0m3 24h0m-2 11h0m7 10h0m10 46h0m-13 6h0m33 4h0m-7 8h0m-15 11h0m-13 11h0m16 28h0m-16 36h0m15 17h0m3 70h0m9 39h0m7 1h0m-33 30h0m33 36h0m-27 3h0m-4 22h0m11 20h0m-3 8h0m-15 54h0m24 3h0m5 27h0m-22 2h0m41-925h0m5 145h0m0 16h0m0 187h0m1 19h0m-9 5h0m8 27h0m1 4h0m-1 10h0m9 11h0m0 6h0m0 9h0m-7 4h0m1 1h0m6 7h0m-3 3h0m0 1h0m1 16h0m-6 9h0m-5 13h0m-9 12h0m18 10h0m6 39h0m7 0h0m0 30h0m-25 10h0m-4 1h0m7 35h0m-2 5h0m1 7h0m-3 4h0m10 25h0m6 17h0m10 5h0m0 2h0m-22 3h0m6 3h0m2 3h0m-2 2h0m-15 24h0m9 11h0m-3 10h0m10 14h0m15 8h0m-17 9h0m-5 16h0m5 10h0m2 4h0m-2 21h0m-3 11h0m-10 1h0m8 3h0m12 32h0m6 3h0m-24 1h0m1 5h0m-4 0h0m19 1h0m3 15h0m-21 10h0m22 9h0m-12 3h0m178-749h0m0 22h0m0 24h0m14-492h0m36 565h0m-36 112h0m23 80h0m-23 98h0m-1 43h0m17 5h0m20 12h0m-11 22h0m-2 13h0m-3 22h0m-4 21h0m6 22h0m-5 5h0m2 3h0m-19 13h0m28 6h0m-7 2h0m0 10h0m0 14h0m8 0h0m-12 33h0m-5 1h0m10 3h0m4 12h0m-27 22h0m37 21h0m-23 10h0m-9 22h0m-3 1h0m25 2h0m16-1567h0m0 193h0m28 414h0m0 76h0m0 100h0m-1 28h0m-2 28h0m1 28h0m-5 28h0m7 28h0m-6 68h0m3 28h0m8 4h0m-8 24h0m0 56h0m2 28h0m-22 3h0m28 29h0m-10 24h0m0 28h0m5 18h0m4 4h0m1 12h0m0 7h0m-30 6h0m15 9h0m16 2h0m-29 5h0m26 27h0m2 5h0m-23 8h0m24 23h0m-14 38h0m-21 0h0m3 33h0m4 8h0m12 38h0m14 4h0m-26 0h0m1 2h0m5 2h0m9 2h0m-10 8h0m18 28h0m5 34h0m-6 19h0m1 8h0m-23 3h0m37-1299h0m0 21h0m0 20h0m-4 198h0m0 461h0m30 6h0m-31 12h0m-3 84h0m34 21h0m-32 18h0m32 3h0m-9 10h0m-23 6h0m32 45h0m-33 1h0m33 0h0m-28 21h0m-3 12h0m-3 7h0m5 3h0m29 1h0m-32 18h0m0 15h0m32 2h0m-33 1h0m33 10h0m-19 4h0m19 9h0m-10 8h0m-23 2h0m33 5h0m-16 2h0m-9 0h0m-8 2h0m0 7h0m22 3h0m11 19h0m0 0h0m0 10h0m-19 10h0m-10 2h0m-5 2h0m7 13h0m10 39h0m17 3h0m0 50h0m-30 3h0m20 5h0m-24 1h0m34 5h0m-31 6h0m1 5h0m15 23h0m-4 17h0m0 36h0m-11 10h0m176-996h0m4 148h0m1 28h0m-6 28h0m1 28h0m6 28h0m7 43h0m-7 23h0m-6 28h0m6 28h0m-8 12h0m18 48h0m1 35h0m-4 6h0m5 28h0m-4 0h0m1 1h0m-9 8h0m11 1h0m-18 38h0m-3 6h0m13 22h0m7 3h0m-5 79h0m-17 10h0m6 24h0m7 10h0m-9 16h0m12 11h0m-4 6h0m-11 15h0m6 37h0m7 73h0m-1 18h0m10 6h0m-9 26h0m-5 8h0m14 27h0m-18 36h0m45-1373h0m6 307h0m0 32h0m0 32h0m0 30h0m0 110h0m-28 292h0m13 63h0m0 2h0m3 4h0m8 2h0m-16 37h0m21 48h0m-13 4h0m-12 45h0m33 1h0m-16 2h0m-13 15h0m2 4h0m18 1h0m-24 15h0m16 5h0m-21 13h0m18 0h0m6 22h0m-4 12h0m-10 7h0m-4 55h0m21 2h0m-22 18h0m10 1h0m-8 29h0m9 7h0m-16 2h0m4 20h0m22 7h0m-10 5h0m-17 5h0m14 12h0m25 18h0m0 22h0m-37 2h0m35 11h0m-29 2h0m-5 37h0m24 6h0m-26 2h0m22 3h0m21-790h0m0 70h0m2 57h0m-3 9h0m0 45h0m-1 12h0m5 16h0m-7 45h0m23 24h0m-22 4h0m6 2h0m11 11h0m0 15h0m-14 16h0m19 15h0m-21 1h0m-2 19h0m17 15h0m-17 7h0m7 0h0m14 4h0m-14 19h0m7 11h0m-6 6h0m-1 6h0m-1 42h0m3 11h0m6 3h0m8 10h0m-17 13h0m14 20h0m-9 0h0m-2 57h0m-4 17h0m1 3h0m-6 15h0m5 10h0m9 4h0m0 2h0m9 4h0m-16 1h0m9 11h0m-12 11h0m6 33h0m9 35h0m-15 1h0m8 8h0m-5 35h0m-5 11h0m14 3h0m-11 2h0" stroke="#FF0000" stroke-width="47" stroke-linecap="round" fill="none"/>
<path transform="scale(.1)" d="M1143 3371h0m-3 388h0m8 123h0m0 29h0m-8 47h0m-10 23h0m0 76h0m21 70h0m-4 16h0m-19 59h0m18 7h0m3 25h0m-2 14h0m-6 19h0m7 34h0m-3 25h0m3 2h0m-3 3h0m-19 4h0m14 8h0m8 8h0m9 0h0m-11 5h0m-25 23h0m30 11h0m-1 14h0m-19 16h0m25 1h0m0 15h0m-14 13h0m-11 37h0m9 24h0m-17 6h0m23 3h0m-23 5h0m23 4h0m-14 41h0m8 43h0m-15 1h0m13 0h0m5 26h0m0 0h0m1 11h0m-7 9h0m18 39h0m-7 1h0m-22 2h0m8 6h0m22 0h0m42-773h0m-2 135h0m-21 131h0m9 39h0m-15 2h0m4 41h0m1 5h0m16 18h0m-19 13h0m9 20h0m-2 15h0m-4 7h0m-12 11h0m3 10h0m19 20h0m11 2h0m-35 36h0m12 13h0m-2 8h0m4 4h0m0 1h0m6 12h0m-9 16h0m8 0h0m18 7h0m-28 11h0m2 1h0m25 19h0m-11 11h0m-1 22h0m-14 5h0m8 1h0m-8 16h0m17 15h0m-18 13h0m13 28h0m5 21h0m-4 5h0m-10 6h0m-7 7h0m22 12h0m4 6h0m-22 3h0m36-1095h0m21 485h0m-5 29h0m-12 79h0m4 12h0m-4 6h0m3 42h0m1 16h0m24 5h0m-26 4h0m19 7h0m-17 3h0m-9 12h0m7 9h0m2 5h0m-3 22h0m-10 15h0m14 26h0m0 2h0m-4 5h0m17 21h0m-23 6h0m8 5h0m6 9h0m17 16h0m-27 25h0m3 3h0m0 42h0m0 7h0m6 23h0m-18 24h0m30 6h0m-20 10h0m11 8h0m-4 26h0m19 24h0m-26 17h0m17 2h0m-14 5h0m13 10h0m-2 5h0m9 4h0m-23 6h0m2 9h0m2 1h0m22 2h0m23-823h0m0 64h0m-9 220h0m-2 22h0m26 7h0m1 14h0m0 17h0m-32 22h0m32 18h0m-24 5h0m24 10h0m-24 25h0m-4 15h0m7 3h0m1 2h0m-5 1h0m-2 5h0m-8 24h0m25 7h0m-16 3h0m0 5h0m-2 2h0m18 6h0m-5 1h0m-9 60h0m14 18h0m13 12h0m-27 8h0m14 62h0m10 27h0m1 4h0m-31 1h0m-3 3h0m6 16h0m-7 16h0m34 6h0m2 28h0m-25 40h0m-12 3h0m3 5h0m1 1h0m21 3h0m0 2h0m-7 2h0m-6 6h0m60-934h0m-3 6h0m0 111h0m3 11h0m3 333h0m-30 86h0m2 20h0m19 16h0m-9 10h0m12 4h0m-16 3h0m19 4h0m-13 20h0m19 7h0m-6 5h0m-25 28h0m32 18h0m-26 10h0m-7 3h0m2 1h0m-6 9h0m25 4h0m-14 2h0m11 3h0m3 30h0m-20 0h0m23 38h0m8 2h0m-5 6h0m-27 1h0m16 2h0m10 8h0m-26 3h0m0 14h0m-4 14h0m36 72h0m-27 5h0m5 7h0m6 9h0m1 5h0m-23 2h0m23 3h0m18-1408h0m0 27h0m0 27h0m0 28h0m26 461h0m-20 23h0m-4 12h0m24 93h0m0 47h0m-24 237h0m18 10h0m7 26h0m-1 8h0m-6 18h0m5 5h0m0 1h0m0 10h0m-5 0h0m-19 5h0m27 0h0m-15 7h0m19 2h0m-15 19h0m18 8h0m-12 54h0m-23 1h0m12 8h0m16 13h0m-26 16h0m19 1h0m-21 24h0m8 33h0m24 16h0m-30 1h0m27 5h0m-8 40h0m-1 11h0m-21 20h0m28 8h0m8 3h0m-12 13h0m-10 15h0m-12 1h0m26 2h0m-11 11h0m22 16h0m-37 9h0m2 5h0m16 2h0m-10 6h0m17 0h0m-1 1h0m-11 1h0m64-896h0m-17 216h0m11 46h0m-13 141h0m-4 123h0m18 10h0m-33 34h0m36 8h0m-14 9h0m4 19h0m10 2h0m-27 74h0m22 1h0m-1 0h0m8 7h0m-22 6h0m-14 4h0m33 5h0m-35 1h0m-1 8h0m4 8h0m16 7h0m-7 26h0m13 4h0m5 40h0m-29 23h0m6 11h0m25 3h0m2 17h0m-23 2h0m6 8h0m20 5h0m-30 16h0m22 2h0m48-1791h0m-1 1190h0m-20 7h0m20 6h0m-12 104h0m-12 125h0m-6 3h0m31 4h0m-2 10h0m-28 3h0m17 14h0m11 4h0m-9 1h0m2 8h0m-20 3h0m6 2h0m-12 3h0m12 4h0m17 1h0m-31 4h0m26 6h0m12 41h0m-14 31h0m12 15h0m1 7h0m-2 1h0m0 1h0m-26 30h0m-8 9h0m13 43h0m-3 9h0m21 3h0m6 33h0m-10 4h0m10 5h0m-5 4h0m-4 21h0m-24 1h0m32 6h0m-26 27h0m18 8h0m34-937h0m11 70h0m0 222h0m0 47h0m0 58h0m-27 150h0m-4 7h0m0 7h0m0 11h0m-2 1h0m0 11h0m-1 28h0m34 2h0m4 1h0m-36 13h0m0 31h0m8 4h0m9 25h0m0 5h0m14 17h0m4 37h0m-4 11h0m-21 1h0m19 0h0m-7 2h0m-25 3h0m3 6h0m32 27h0m-32 7h0m17 25h0m-20 5h0m38 11h0m-5 18h0m-8 4h0m-24 20h0m23 5h0m11 1h0m-30 10h0m26 5h0m-5 5h0m-26 14h0m12 4h0m22 0h0m-7 5h0m20-1032h0m0 55h0m14 218h0m-2 109h0m0 53h0m0 58h0m-14 144h0m0 51h0m5 15h0m29 7h0m-5 20h0m-4 2h0m-16 0h0m4 20h0m-13 23h0m19 9h0m4 0h0m-25 1h0m32 6h0m-24 5h0m-5 3h0m27 2h0m-21 73h0m-12 0h0m31 18h0m-24 35h0m0 29h0m17 49h0m-11 3h0m-12 17h0m15 0h0m-8 4h0m-4 0h0m34 3h0m23-551h0m-18 52h0m13 8h0m0 21h0m3 21h0m18 87h0m-17 10h0m-6 2h0m21 30h0m0 14h0m-34 1h0m2 15h0m16 20h0m16 14h0m-27 28h0m11 0h0m-2 16h0m18 18h0m-32 1h0m7 85h0m11 8h0m-13 4h0m13 0h0m-9 6h0m1 0h0m-9 5h0m35 66h0m-19 13h0m-10 4h0m39-465h0m-2 4h0m-2 24h0m0 4h0m30 31h0m-6 3h0m-17 5h0m-11 77h0m26 0h0m-4 7h0m-8 8h0m14 4h0m-21 24h0m-7 3h0m-1 1h0m0 3h0m3 1h0m36 2h0m-7 12h0m-7 1h0m4 10h0m-23 1h0m17 10h0m-12 15h0m26 5h0m-37 28h0m38 3h0m-21 16h0m-16 15h0m5 7h0m12 15h0m18 6h0m-26 22h0m-5 11h0m26 7h0m-11 16h0m15 32h0m-9 3h0m-12 12h0m-9 13h0m17 1h0m-22 3h0m44-1553h0m0 149h0m6 324h0m3 82h0m0 102h0m0 79h0m-3 128h0m0 35h0m-9 41h0m10 62h0m0 40h0m0 47h0m-1 22h0m-2 32h0m2 5h0m-10 50h0m11 50h0m0 15h0m0 29h0m0 93h0m-7 15h0m6 42h0m1 34h0m0 21h0m0 24h0m-1 14h0m-6 20h0m432-743h0m-7 240h0m1 46h0m-1 28h0m0 2h0m1 30h0m3 2h0m-2 74h0m-2 10h0m2 4h0m-2 6h0m4 4h0m5 21h0m-9 17h0m0 3h0m2 41h0m2 13h0m-1 1h0m-3 50h0m9 9h0m-9 10h0m4 7h0m-1 7h0m-3 76h0m0 4h0m3 7h0m4 6h0m-7 14h0m5 7h0m22-1072h0m0 105h0m6 432h0m-16 45h0m9 113h0m-8 31h0m-7 74h0m32 2h0m5 17h0m-19 4h0m2 6h0m14 1h0m-22 4h0m27 15h0m-29 15h0m4 24h0m-7 16h0m2 6h0m28 10h0m-12 22h0m-21 6h0m4 4h0m13 3h0m7 3h0m-11 10h0m6 19h0m1 1h0m-14 28h0m-5 11h0m-2 2h0m34 12h0m-26 7h0m12 12h0m15 10h0m-22 4h0m62-1419h0m-33 713h0m-3 0h0m15 52h0m0 70h0m0 105h0m21 33h0m-16 66h0m16 89h0m-14 11h0m-9 3h0m8 26h0m14 6h0m-31 5h0m-3 9h0m-3 8h0m14 68h0m-3 9h0m22 20h0m-25 2h0m5 15h0m-5 3h0m1 15h0m22 45h0m-28 3h0m18 2h0m-1 41h0m22-385h0m23 34h0m-10 64h0m10 20h0m-22 28h0m12 12h0m-4 28h0m14 44h0m-11 3h0m-10 25h0m11 5h0m14 3h0m3 9h0m-7 1h0m1 10h0m10 49h0m-11 12h0m3 2h0m-1 10h0m-2 2h0m5 1h0m-28 21h0m28 4h0m31-849h0m17 202h0m0 56h0m1 56h0m-5 260h0m1 66h0m0 4h0m0 38h0m-2 2h0m-5 23h0m-25 4h0m3 2h0m29 19h0m-15 2h0m-7 17h0m22 43h0m-5 12h0m4 37h0m-22 7h0m61-1203h0m-31 126h0m35 0h0m-35 46h0m0 59h0m0 23h0m31 103h0m-29 114h0m-2 28h0m0 84h0m1 56h0m2 56h0m-1 28h0m8 10h0m-11 18h0m0 28h0m33 6h0m-23 12h0m-8 10h0m34 2h0m-32 26h0m8 33h0m22 14h0m-20 12h0m1 1h0m22 6h0m-22 1h0m1 12h0m21 1h0m-19 1h0m17 2h0m-17 3h0m19 9h0m-27 7h0m27 10h0m-20 31h0m21 6h0m-19 14h0m0 24h0m-3 9h0m22 4h0m-11 16h0m9 5h0m-21 46h0m-11 17h0m23 5h0m-15 0h0m19 10h0m-3 3h0m-15 13h0m2 1h0m-11 4h0m5 10h0m7 3h0m-2 8h0m17 16h0m-4 1h0m-3 2h0m-15 2h0m44-668h0m24 198h0m-3 43h0m-1 93h0m-19 101h0m6 3h0m-14 19h0m14 13h0m-5 16h0m3 5h0m12 20h0m-14 15h0m-17 14h0m0 3h0m24 17h0m5 2h0m-20 21h0m19 27h0m-9 0h0m-18 9h0m31 10h0m4 34h0m-22 2h0m35-860h0m0 89h0m0 152h0m0 59h0m27 261h0m2 21h0m-21 17h0m3 23h0m-8 28h0m-11 7h0m12 8h0m20 9h0m-25 1h0m-8 1h0m38 17h0m-37 4h0m14 6h0m23 16h0m-14 17h0m13 4h0m-7 12h0m-1 12h0m-20 1h0m2 5h0m4 5h0m-6 3h0m-6 8h0m11 17h0m-3 20h0m8 27h0m-17 8h0m16 0h0m2 1h0m54-659h0m-6 105h0m-18 111h0m-7 68h0m6 20h0m-8 83h0m0 2h0m22 22h0m7 8h0m0 2h0m-4 21h0m-2 16h0m-5 9h0m-19 5h0m34 1h0m-23 4h0m27 12h0m-22 16h0m15 14h0m1 0h0m-18 7h0m-11 11h0m-1 92h0m16 4h0m-1 11h0m-14 5h0m-3 4h0m22 8h0m-22 1h0m75-603h0m-6 93h0m1 254h0m-5 10h0m-4 1h0m6 18h0m-17 32h0m-5 10h0m23 10h0m11 10h0m-13 37h0m12 10h0m1 55h0m-30 45h0m4 8h0m1 0h0m10 8h0m-20 5h0m22 3h0m28-903h0m0 70h0m-2 84h0m-12 46h0m7 271h0m-2 11h0m5 35h0m-4 49h0m6 5h0m-4 6h0m1 25h0m3 1h0m-5 4h0m-6 6h0m9 5h0m-3 1h0m-1 10h0m4 20h0m2 28h0m-11 4h0m8 2h0m3 6h0m-1 3h0m-9 12h0m2 31h0m-1 8h0m4 12h0m-1 38h0m2 22h0m-3 1h0m7 2h0m-10 73h0m10 0h0m-4 8h0m384-1081h0m3 892h0m-1 8h0m3 76h0m2 103h0m37-2071h0m-29 746h0m4 968h0m-2 14h0m4 19h0m23 7h0m-20 0h0m7 40h0m-10 20h0m1 3h0m-10 4h0m27 4h0m-4 14h0m10 1h0m-24 19h0m-1 23h0m17 20h0m-14 1h0m3 3h0m4 3h0m3 39h0m13 2h0m-7 32h0m-20 21h0m4 15h0m-15 1h0m7 2h0m2 4h0m23 15h0m-23 9h0m4 1h0m2 16h0m6 2h0m-17 10h0m51-2269h0m-14 629h0m23 329h0m0 41h0m-11 46h0m-3 28h0m6 28h0m-4 28h0m-2 28h0m3 46h0m0 30h0m0 105h0m1 85h0m-3 28h0m25 17h0m-26 11h0m6 28h0m0 28h0m-5 28h0m3 28h0m-4 28h0m2 28h0m0 28h0m22 18h0m-17 10h0m20 6h0m0 15h0m-1 2h0m-23 5h0m19 20h0m2 23h0m-3 20h0m7 7h0m-11 36h0m2 6h0m-8 37h0m2 75h0m-8 48h0m22 2h0m-16 7h0m-6 19h0m23 2h0m-19 1h0m11 12h0m-14 16h0m-1 9h0m8 1h0m-23 4h0m5 36h0m22 12h0m-22 0h0m16 2h0m16 7h0m-19 1h0m-13 12h0m10 4h0m19 47h0m-12 4h0m11 28h0m-1 7h0m-29 1h0m18 5h0m-1 16h0m8 4h0m-25 2h0m62-1020h0m12 152h0m-2 78h0m-9 33h0m-4 28h0m7 28h0m-2 56h0m-2 28h0m1 28h0m-2 28h0m0 13h0m-2 15h0m11 67h0m-1 31h0m-7 19h0m2 8h0m-25 11h0m18 26h0m-4 8h0m22 4h0m-38 17h0m27 14h0m-18 40h0m-5 2h0m0 5h0m15 9h0m7 16h0m-10 11h0m10 5h0m-18 7h0m8 9h0m-12 19h0m5 2h0m-4 6h0m11 48h0m-7 10h0m2 9h0m14 5h0m-12 6h0m1 5h0m-12 12h0m8 9h0m19 19h0m0 10h0m-25 13h0m23 4h0m-8 12h0m-13 7h0m25 11h0m2 14h0m-9 3h0m-22 3h0m12 2h0m51-661h0m-2 73h0m-5 9h0m0 2h0m-16 12h0m1 7h0m22 33h0m-3 2h0m3 17h0m-8 5h0m-12 25h0m18 2h0m-3 2h0m-10 11h0m3 10h0m-9 6h0m15 10h0m-11 4h0m-7 59h0m20 11h0m4 8h0m-21 0h0m-1 7h0m0 9h0m11 9h0m-7 37h0m-6 16h0m24 0h0m-6 9h0m4 29h0m-7 8h0m-4 6h0m13 34h0m-5 9h0m16 13h0m-16 24h0m15 37h0m0 1h0m-10 28h0m0 5h0m-13 1h0m-5 1h0m11 11h0m0 2h0m-12 53h0m33 3h0m22-1100h0m18 123h0m-18 216h0m-12 228h0m27 175h0m-1 18h0m1 17h0m3 27h0m-1 3h0m-4 11h0m3 25h0m-22 5h0m17 29h0m-21 25h0m20 7h0m-27 22h0m33 13h0m-33 5h0m30 9h0m-34 1h0m1 8h0m9 12h0m15 1h0m10 3h0m3 1h0m-21 18h0m-7 13h0m11 7h0m18 17h0m-5 10h0m-23 2h0m26 2h0m-31 12h0m28 14h0m-34 16h0m22 1h0m14 4h0m8-418h0m10 114h0m-12 15h0m1 20h0m-3 6h0m35 28h0m2 58h0m-35 3h0m0 6h0m13 2h0m17 2h0m-17 71h0m-15 1h0m1 38h0m12 25h0m-9 20h0m22 1h0m19-473h0m24 94h0m-17 74h0m-3 61h0m-6 47h0m24 7h0m-27 12h0m4 6h0m32 12h0m-16 2h0m-6 4h0m1 18h0m-14 7h0m18 32h0m-6 12h0m3 3h0m-13 32h0m32 6h0m-24 43h0m-3 1h0m22 6h0m-18 2h0m34-779h0m29 53h0m-35 152h0m12 35h0m13 118h0m-2 60h0m1 10h0m0 10h0m5 0h0m-7 0h0m1 13h0m-2 34h0m5 0h0m-2 32h0m-2 0h0m3 14h0m-2 7h0m-21 7h0m-1 5h0m22 0h0m-13 5h0m29 20h0m-10 4h0m-11 11h0m-13 1h0m34 1h0m-22 18h0m8 2h0m-8 13h0m-16 0h0m23 15h0m14 11h0m-31 17h0m16 3h0m-5 3h0m-14 49h0m20 12h0m-19 3h0m13 9h0m11 20h0m-26 1h0m16 1h0m15 1h0m-22 1h0m8 1h0m4 2h0m17-1311h0m0 47h0m12 426h0m2 414h0m-7 14h0m-8 43h0m17 32h0m-5 73h0m4 13h0m-3 9h0m-1 19h0m-1 5h0m-1 58h0m6 39h0m1 12h0m0 6h0m-13 52h0m13 5h0m-5 27h0m3 0h0m1 3h0m-1 2h0m2 10h0m-1 2h0m336-931h0m2 248h0m0 178h0m0 35h0m0 10h0m0 7h0m1 133h0m0 4h0m1 13h0m-2 19h0m0 6h0m0 10h0m0 52h0m0 1h0m2 52h0m-2 103h0m0 45h0m0 4h0m5 16h0m8-1406h0m0 73h0m0 72h0m2 28h0m-2 28h0m-1 105h0m-3 100h0m29 262h0m-5 308h0m-11 105h0m14 39h0m-28 13h0m6 9h0m17 2h0m-3 3h0m-16 9h0m15 4h0m-6 9h0m7 9h0m-18 14h0m18 2h0m-16 21h0m-5 0h0m-1 6h0m33 12h0m-9 1h0m7 25h0m6 48h0m-13 5h0m-19 2h0m33 2h0m-35 1h0m34 3h0m-3 18h0m-29 20h0m-3 9h0m14 2h0m-5 6h0m2 19h0m8 10h0m46-1334h0m0 55h0m0 152h0m0 94h0m0 262h0m-23 94h0m23 35h0m0 58h0m10 41h0m-21 4h0m2 89h0m2 57h0m-4 3h0m-4 23h0m6 1h0m2 9h0m-3 6h0m-7 34h0m4 8h0m3 2h0m2 16h0m-3 14h0m0 6h0m-1 8h0m10 13h0m-15 18h0m28 15h0m-2 5h0m-19 4h0m-3 48h0m-3 0h0m0 11h0m-7 7h0m4 11h0m13 5h0m-12 14h0m9 33h0m-2 13h0m10 7h0m-21 3h0m1 1h0m10 10h0m-4 8h0m23 26h0m-5 2h0m-27 5h0m22 6h0m49-814h0m-3 111h0m0 36h0m-29 161h0m29 140h0m-25 45h0m2 16h0m10 30h0m-1 40h0m8 48h0m0 5h0m-13 2h0m22 0h0m-31 9h0m11 25h0m14 2h0m-7 0h0m8 41h0m-3 35h0m-20 16h0m-2 5h0m31 21h0m-2 5h0m-33 15h0m29 0h0m-22 3h0m62-1021h0m-24 153h0m3 57h0m29 86h0m-28 207h0m26 1h0m-30 39h0m29 1h0m-29 12h0m30 17h0m-30 2h0m25 7h0m4 12h0m0 32h0m5 6h0m-8 14h0m2 11h0m4 6h0m-22 22h0m-5 11h0m26 3h0m-28 8h0m29 3h0m-20 10h0m-8 1h0m-4 8h0m5 8h0m4 5h0m7 1h0m-3 20h0m19 0h0m-16 9h0m11 0h0m-25 18h0m-2 11h0m16 20h0m1 5h0m15 6h0m-25 13h0m-1 5h0m21 22h0m-9 12h0m-6 3h0m-10 23h0m15 16h0m-17 1h0m28 4h0m-1 6h0m0 3h0m-4 20h0m-20 43h0m-1 2h0m24 2h0m1 6h0m-22 3h0m57-1284h0m3 165h0m3 28h0m1 28h0m4 135h0m-13 135h0m-2 28h0m16 280h0m-3 29h0m-36 47h0m31 108h0m1 2h0m-9 6h0m14 29h0m-28 28h0m-8 3h0m6 10h0m32 7h0m-31 58h0m-8 0h0m33 9h0m-14 2h0m0 1h0m2 19h0m-14 31h0m23 16h0m-10 1h0m6 31h0m-19 9h0m0 2h0m4 2h0m15 9h0m-12 27h0m22 5h0m43-1357h0m0 125h0m-2 352h0m0 147h0m-34 20h0m30 8h0m2 28h0m-33 19h0m1 116h0m32 6h0m-10 59h0m-18 56h0m-1 30h0m-4 23h0m-2 12h0m0 4h0m6 3h0m14 30h0m-8 0h0m8 3h0m-17 4h0m3 18h0m-3 0h0m8 7h0m9 8h0m19 24h0m-33 14h0m4 2h0m12 33h0m-18 6h0m12 28h0m-8 11h0m-5 23h0m33 22h0m-36 3h0m7 26h0m8 11h0m-11 24h0m9 2h0m17 4h0m-12 47h0m24-853h0m4 63h0m31 48h0m-31 30h0m4 28h0m27 8h0m-1 12h0m-35 36h0m25 38h0m10 2h0m-23 4h0m-3 10h0m28 3h0m1 51h0m-29 23h0m4 4h0m21 19h0m-24 14h0m19 27h0m2 9h0m1 8h0m-13 23h0m18 19h0m-1 0h0m-22 4h0m-8 23h0m30 4h0m-27 40h0m29 27h0m-5 47h0m-30 25h0m4 2h0m7 1h0m18 22h0m3 1h0m-27 1h0m-1 3h0m-7 7h0m34 2h0m-6 3h0m7 2h0m-3 15h0m-27 29h0m31 4h0m-24 6h0m4 1h0m-6 5h0m18 26h0m-27 17h0m33 8h0m-29 4h0m30 6h0m-22 2h0m18 19h0m2 6h0m-33 0h0m20 1h0m1 2h0m15 0h0m-37 1h0m18 6h0m22-959h0m0 155h0m0 0h0m0 384h0m0 66h0m3 47h0m2 10h0m0 6h0m-4 32h0m4 105h0m-1 153h0m312-622h0m0 83h0m-3 21h0m-6 10h0m11 29h0m-10 2h0m6 30h0m-8 10h0m5 77h0m-5 24h0m6 1h0m7 23h0m-3 11h0m-7 9h0m10 36h0m-1 5h0m-2 111h0m-10 30h0m0 54h0m0 7h0m5 48h0m43-2326h0m-5 404h0m-24 454h0m29 303h0m0 18h0m0 78h0m-2 28h0m5 28h0m-19 102h0m-2 86h0m-2 176h0m1 25h0m16 4h0m-29 0h0m13 3h0m16 2h0m-14 6h0m-15 21h0m15 14h0m8 4h0m-13 20h0m14 29h0m-9 3h0m3 3h0m12 32h0m2 6h0m-12 22h0m-7 3h0m4 4h0m-8 16h0m14 10h0m-20 1h0m22 1h0m-1 17h0m1 5h0m-25 12h0m2 27h0m12 68h0m8 42h0m-8 14h0m-3 51h0m18 13h0m-16 9h0m13 3h0m-9 4h0m-3 26h0m20 25h0m-1 15h0m-31 2h0m8 11h0m18 4h0m-3 5h0m4 12h0m6 9h0m-16 8h0m-6 2h0m-8 11h0m-1 15h0m29 7h0m-22 4h0m35-1788h0m0 29h0m0 516h0m0 20h0m14 277h0m-1 44h0m3 11h0m-4 44h0m8 2h0m-8 22h0m0 0h0m2 24h0m-21 14h0m21 23h0m5 0h0m0 9h0m-6 8h0m-20 3h0m21 34h0m-19 7h0m2 28h0m21 23h0m-3 7h0m4 0h0m-25 1h0m19 4h0m4 7h0m-15 3h0m24 10h0m-23 14h0m-7 13h0m20 5h0m-10 7h0m10 3h0m-3 1h0m10 1h0m4 3h0m-17 10h0m-2 12h0m10 8h0m4 4h0m-25 13h0m13 22h0m16 16h0m-7 10h0m1 4h0m-10 22h0m-13 6h0m30 35h0m-28 10h0m25 11h0m-13 16h0m0 7h0m-14 1h0m19 2h0m6 7h0m-29 17h0m29 4h0m-13 20h0m6 14h0m-23 12h0m19 21h0m3 6h0m-3 3h0m-1 14h0m19 19h0m-16 19h0m-15 5h0m23 6h0m-24 5h0m1 21h0m18 23h0m-24 5h0m26 14h0m-19 3h0m19 30h0m-1 2h0m-5 6h0m-19 0h0m25 2h0m-16 19h0m-1 31h0m14 24h0m11 1h0m5 2h0m-22 7h0m9 2h0m35-1296h0m6 64h0m0 76h0m0 23h0m-20 194h0m3 225h0m3 77h0m24 8h0m-33 1h0m35 30h0m-1 49h0m-1 25h0m-26 48h0m27 4h0m-13 2h0m-12 0h0m-2 2h0m4 1h0m0 1h0m-2 10h0m24 7h0m-23 3h0m16 12h0m8 20h0m-12 12h0m-26 6h0m15 26h0m13 0h0m4 13h0m7 29h0m-11 7h0m-3 38h0m7 22h0m-4 2h0m1 17h0m3 10h0m-7 4h0m-10 29h0m0 19h0m17 39h0m-27 1h0m6 3h0m3 13h0m1 4h0m-4 8h0m1 1h0m-4 8h0m-7 1h0m0 17h0m28 3h0m1 4h0m-15 6h0m-7 17h0m19 3h0m-2 26h0m11 5h0m-26 0h0m-5 12h0m25 1h0m-25 4h0m45-1281h0m17 468h0m-23 175h0m18 6h0m-21 35h0m1 18h0m2 67h0m1 23h0m-5 3h0m6 4h0m-1 18h0m27 25h0m-15 1h0m-14 50h0m36 5h0m-7 6h0m-13 2h0m16 1h0m-5 5h0m-13 1h0m5 4h0m-5 14h0m-16 13h0m15 3h0m-3 13h0m-5 12h0m-3 13h0m27 21h0m-29 3h0m22 7h0m12 2h0m1 44h0m-34 0h0m1 6h0m29 6h0m-34 6h0m3 29h0m9 11h0m21 15h0m-8 1h0m-25 7h0m29 25h0m-2 10h0m-27 6h0m0 12h0m25 35h0m12 9h0m-9 9h0m-15 2h0m0 1h0m12 5h0m10 12h0m-23 11h0m22 1h0m18-600h0m7 113h0m-2 6h0m-6 6h0m1 19h0m8 2h0m-9 17h0m8 12h0m6 10h0m-10 5h0m0 20h0m14 15h0m-1 11h0m-17 10h0m18 18h0m-10 1h0m-17 9h0m14 11h0m2 16h0m-15 3h0m25 11h0m-4 8h0m-1 12h0m12 1h0m2 4h0m-28 4h0m23 14h0m-18 3h0m-3 0h0m-4 4h0m11 1h0m-7 15h0m24 66h0m-1 3h0m-14 31h0m-8 37h0m8 22h0m-5 29h0m18 9h0m-17 20h0m22 8h0m19-1135h0m15 6h0m-6 193h0m-11 3h0m-6 288h0m-2 74h0m-5 10h0m4 4h0m2 4h0m-4 4h0m4 76h0m26 6h0m-24 46h0m21 4h0m2 22h0m-33 4h0m24 15h0m-16 19h0m-6 1h0m22 7h0m-18 10h0m16 3h0m6 13h0m10 7h0m-22 5h0m16 32h0m-24 19h0m-8 8h0m8 1h0m-1 7h0m30 10h0m-6 13h0m-12 28h0m-11 32h0m4 7h0m-8 21h0m-3 1h0m35 0h0m-11 10h0m-22 9h0m31 18h0m-22 3h0m-7 25h0m8 23h0m23 16h0m-10 18h0m-6 1h0m-2 6h0m29-1108h0m0 245h0m2 0h0m0 58h0m0 307h0m0 17h0m2 55h0m-8 15h0m9 12h0m-3 6h0m0 18h0m-2 75h0m8 62h0m-6 27h0m-9 14h0m2 15h0m-1 70h0m6 5h0m7 17h0m0 82h0m-12 10h0m291-1358h0m10 839h0m3 2h0m5 52h0m8 26h0m-16 1h0m8 7h0m2 34h0m-8 25h0m-2 11h0m15 22h0m-3 25h0m-2 17h0m5 2h0m-8 2h0m-7 0h0m0 19h0m5 55h0m-5 80h0m14 11h0m-1 27h0m-13 15h0m0 6h0m1 8h0m4 65h0m46-852h0m0 46h0m-33 66h0m2 53h0m-3 70h0m5 0h0m4 2h0m25 26h0m-28 16h0m30 2h0m1 7h0m-31 1h0m0 4h0m3 6h0m-7 4h0m37 9h0m0 8h0m-5 5h0m-30 4h0m4 1h0m25 5h0m-17 35h0m11 11h0m-22 7h0m-2 27h0m23 5h0m-14 15h0m-10 6h0m32 7h0m-34 30h0m1 0h0m11 13h0m-4 0h0m17 9h0m-3 4h0m14 1h0m0 7h0m-9 12h0m5 19h0m-24 39h0m16 12h0m-21 8h0m5 18h0m13 7h0m-21 18h0m6 11h0m1 3h0m-3 1h0m-3 7h0m17 21h0m-5 5h0m2 27h0m-11 12h0m8 11h0m13 9h0m-16 4h0m22 37h0m-28 19h0m2 2h0m4 3h0m3 0h0m23 3h0m-23 6h0m23 3h0m-32 7h0m5 8h0m2 6h0m4 2h0m18 9h0m42-648h0m1 29h0m-22 111h0m-7 34h0m10 5h0m-14 8h0m6 11h0m29 5h0m-10 3h0m10 14h0m-1 9h0m-4 4h0m-12 3h0m-19 10h0m30 0h0m-26 8h0m13 24h0m16 12h0m3 29h0m-32 1h0m0 2h0m33 13h0m-3 14h0m3 12h0m1 22h0m-35 33h0m15 7h0m-7 9h0m1 9h0m4 10h0m-11 29h0m5 32h0m5 9h0m-7 13h0m-8 1h0m12 7h0m8 10h0m18 2h0m-18 11h0m-11 31h0m21 5h0m-6 4h0m11 32h0m-22 5h0m5 3h0m31-1471h0m0 23h0m0 23h0m0 59h0m0 23h0m0 23h0m8 80h0m6 105h0m-6 142h0m-6 82h0m0 117h0m-11 184h0m3 46h0m18 25h0m-18 16h0m30 74h0m-26 19h0m7 34h0m-5 4h0m18 1h0m-10 5h0m-4 25h0m-13 30h0m38 14h0m-34 19h0m0 27h0m-2 1h0m18 2h0m3 0h0m-11 21h0m26 11h0m-9 9h0m-19 8h0m-9 7h0m19 7h0m-2 24h0m-8 10h0m11 37h0m9 0h0m-28 7h0m4 1h0m-5 6h0m11 5h0m4 20h0m8 9h0m9 2h0m-24 27h0m28 3h0m-20 50h0m29-1061h0m23 125h0m-17 76h0m-2 153h0m4 4h0m-6 101h0m-2 35h0m-2 74h0m8 7h0m-3 9h0m5 12h0m0 103h0m-3 6h0m3 38h0m0 7h0m0 11h0m-3 20h0m-10 7h0m13 7h0m-6 7h0m0 1h0m3 26h0m3 3h0m14 6h0m-14 5h0m17 1h0m-4 2h0m-13 3h0m13 11h0m-21 29h0m-2 11h0m-3 17h0m1 24h0m32 29h0m-35 16h0m29 4h0m-14 14h0m-1 31h0m1 14h0m15 16h0m-30 0h0m25 1h0m38-1346h0m0 592h0m-6 2h0m14 120h0m-26 41h0m6 16h0m-3 2h0m-1 11h0m29 1h0m-24 57h0m4 27h0m0 2h0m-7 40h0m2 13h0m27 9h0m-26 7h0m4 10h0m-8 13h0m2 19h0m5 24h0m-1 1h0m-4 3h0m26 15h0m-20 9h0m-2 2h0m-12 26h0m15 0h0m14 5h0m-12 7h0m4 25h0m-16 6h0m26 9h0m-7 8h0m-1 1h0m-2 21h0m11 12h0m-17 2h0m-2 36h0m24 17h0m-35 10h0m26 7h0m4 8h0m-11 19h0m-9 9h0m4 4h0m-6 2h0m1 6h0m-2 43h0m-3 7h0m12 7h0m-15 1h0m7 7h0m22 3h0m-19 3h0m26-2042h0m2 1010h0m0 389h0m29 51h0m4 39h0m-4 131h0m-31 16h0m0 8h0m37 78h0m-18 20h0m-10 11h0m23 10h0m2 47h0m-28 4h0m-2 3h0m10 40h0m16 2h0m-27 0h0m-2 30h0m24 15h0m6 8h0m-28 15h0m18 14h0m8 7h0m-3 13h0m-11 17h0m-5 10h0m-5 14h0m3 6h0m30 22h0m-1 4h0m-22 4h0m15 3h0m18-512h0m0 13h0m0 7h0m0 69h0m-7 123h0m2 7h0m4 5h0m1 5h0m0 5h0m-2 15h0m-5 54h0m7 27h0m0 45h0m-4 65h0m4 19h0m0 46h0m0 4h0m254-263h0m-7 1h0m12 7h0m-12 12h0m16 10h0m-16 2h0m11 11h0m-7 31h0m4 9h0m2 37h0m8 22h0m-4 60h0m-14 1h0m0 0h0m0 18h0m21 0h0m-21 12h0m0 7h0m0 5h0m6 5h0m-1 14h0m52-1721h0m-12 356h0m9 91h0m-9 242h0m7 141h0m6 28h0m-7 28h0m3 28h0m0 28h0m-3 28h0m2 28h0m3 28h0m-3 28h0m2 28h0m2 28h0m-4 28h0m1 105h0m-26 20h0m4 10h0m-3 40h0m1 2h0m5 69h0m-5 3h0m5 7h0m0 2h0m0 2h0m-6 10h0m4 15h0m27 13h0m-28 2h0m-2 2h0m4 20h0m-6 6h0m3 1h0m15 29h0m-11 45h0m15 3h0m1 4h0m-21 0h0m30 1h0m-28 12h0m3 9h0m27 14h0m-37 14h0m5 22h0m20 5h0m-16 0h0m-8 10h0m6 10h0m19 1h0m-15 4h0m-1 14h0m2 7h0m23 4h0m-33 26h0m11 2h0m-2 2h0m-2 3h0m15 6h0m-22 3h0m7 2h0m7 3h0m28-1197h0m0 35h0m-3 105h0m29 596h0m7 186h0m-19 14h0m20 7h0m-8 3h0m6 32h0m-6 9h0m-3 8h0m-24 21h0m8 21h0m13 6h0m-20 6h0m27 33h0m-18 3h0m0 0h0m-11 2h0m24 12h0m5 15h0m-28 1h0m28 2h0m6 9h0m-23 18h0m20 6h0m1 1h0m-22 24h0m23 5h0m-13 4h0m-17 8h0m22 6h0m22-1531h0m-11 1065h0m33 18h0m0 39h0m6 1h0m-26 132h0m24 2h0m-7 7h0m-9 18h0m-3 1h0m11 17h0m-26 1h0m9 18h0m13 2h0m-6 0h0m-9 7h0m15 3h0m5 27h0m-24 43h0m23 3h0m7 10h0m-13 9h0m-14 66h0m-2 10h0m17 18h0m9 5h0m-5 2h0m-5 4h0m-12 1h0m33-1085h0m29 309h0m-12 378h0m-7 79h0m2 6h0m5 13h0m-1 11h0m-1 13h0m16 3h0m-8 60h0m1 4h0m-13 3h0m7 1h0m-3 3h0m-2 8h0m1 5h0m15 34h0m-11 33h0m-17 55h0m28 2h0m-18 24h0m11 8h0m0 5h0m11 21h0m2 5h0m-24 0h0m-9 1h0m44-1483h0m-6 644h0m5 453h0m-8 46h0m-1 45h0m23 4h0m-19 0h0m5 48h0m4 13h0m14 68h0m-23 41h0m23 8h0m-24 28h0m11 1h0m0 47h0m13 3h0m-24 1h0m16 29h0m237-841h0m5 199h0m12 88h0m-21 103h0m-4 88h0m11 20h0m-11 6h0m3 15h0m10 14h0m4 16h0m-4 11h0m15 0h0m-28 2h0m16 10h0m7 25h0m-23 2h0m6 1h0m-2 21h0m13 9h0m-11 38h0m-6 3h0m22 28h0m-14 28h0m3 11h0m-10 1h0m22 7h0m-21 13h0m13 3h0m-7 59h0m-6 5h0m8 3h0m-5 12h0m22 4h0m19-597h0m3 75h0m-3 51h0m2 3h0m-1 10h0m-6 11h0m5 5h0m-2 2h0m3 1h0m-1 4h0m0 4h0m-3 4h0m-1 3h0m9 6h0m-3 10h0m-1 2h0m-6 10h0m5 8h0m-5 4h0m6 14h0m-6 1h0m8 14h0m2 45h0m20 5h0m-29 13h0m22 13h0m-21 13h0m-2 6h0m7 4h0m2 41h0m-8 13h0m4 4h0m16 9h0m-16 7h0m-1 13h0m-2 8h0m8 1h0m2 2h0m-8 4h0m-1 7h0m21 13h0m5 11h0m-9 15h0m-17 10h0m3 1h0m-3 5h0m16 32h0m-9 9h0m7 0h0m-4 18h0m-10 9h0m4 17h0m10 1h0m0 6h0m-9 3h0m22 1h0m21-1557h0m0 288h0m0 105h0m0 17h0m0 100h0m0 108h0m0 79h0m0 58h0m0 41h0m11 199h0m-5 14h0m-22 65h0m-1 3h0m-1 31h0m3 32h0m20 31h0m-10 6h0m18 68h0m-26 29h0m24 22h0m-24 0h0m-5 0h0m-1 6h0m34 49h0m-24 1h0m-5 23h0m30 4h0m-20 10h0m-15 1h0m8 6h0m22 23h0m-31 1h0m37 2h0m-35 3h0m35 4h0m-27 11h0m-4 11h0m15 14h0m-8 14h0m4 35h0m-2 3h0m-2 11h0m19 18h0m-11 8h0m15 3h0m31-512h0m9 23h0m-27 16h0m-1 50h0m3 22h0m0 31h0m13 74h0m7 2h0m-8 2h0m2 19h0m3 40h0m-6 5h0m-13 27h0m15 11h0m-15 2h0m22 12h0m-7 5h0m-12 0h0m13 53h0m-3 2h0m-15 4h0m12 10h0m18 9h0m-29 1h0m23 18h0m-4 5h0m7 18h0m-25 16h0m-8 12h0m2 17h0m22 2h0m-11 3h0m39-1677h0m-6 514h0m-2 47h0m-3 128h0m0 42h0m0 46h0m5 117h0m-4 319h0m-2 49h0m23 3h0m-17 6h0m5 41h0m9 5h0m-7 27h0m-12 5h0m11 30h0m5 3h0m6 1h0m0 21h0m-17 3h0m12 2h0m5 8h0m-18 2h0m18 22h0m-9 28h0m-8 56h0m17 7h0m-24 0h0m16 1h0m-5 58h0m13 44h0m-21 4h0m11 11h0m-11 2h0m8 1h0m13 8h0m-7 6h0m-4 5h0m-7 2h0m1 3h0m180-830h0m-2 87h0m6 82h0m20-449h0m19 414h0m-29 46h0m7 97h0m-1 1h0m-4 4h0m13 18h0m-8 3h0m9 30h0m15 15h0m-17 17h0m22 4h0m-11 7h0m-24 2h0m37 7h0m-3 2h0m-24 5h0m10 17h0m17 11h0m-36 2h0m3 9h0m18 21h0m5 7h0m-28 11h0m8 8h0m-6 1h0m24 3h0m4 2h0m0 24h0m2 3h0m-5 1h0m-12 4h0m12 14h0m-3 1h0m-22 37h0m23 18h0m-17 0h0m-4 0h0m5 9h0m-7 10h0m15 12h0m-2 47h0m16 5h0m-25 7h0m-3 12h0m14 13h0m5 10h0m-2 1h0m-20 16h0m29 0h0m-7 1h0m4 7h0m6 13h0m-10 7h0m-14 13h0m23 2h0m6 1h0m-24 17h0m-7 19h0m21 1h0m-8 1h0m-14 11h0m-5 0h0m27 1h0m51-1330h0m0 292h0m0 70h0m0 41h0m-21 68h0m-10 367h0m-8 7h0m25 13h0m12 11h0m-3 15h0m-17 14h0m-13 13h0m25 9h0m-26 19h0m21 26h0m-16 10h0m20 2h0m10 6h0m-9 27h0m-10 25h0m-11 9h0m-3 4h0m-2 0h0m24 23h0m-4 10h0m-11 45h0m-12 12h0m18 16h0m-11 14h0m-4 58h0m5 2h0m5 12h0m25 5h0m-25 33h0m16 5h0m-1 29h0m-6 1h0m6 5h0m10 15h0m-28 2h0m22 5h0m47-780h0m-11 169h0m0 40h0m1 4h0m0 27h0m-25 11h0m23 12h0m-24 73h0m-2 12h0m32 7h0m-33 6h0m34 2h0m-3 34h0m0 6h0m-31 6h0m39 0h0m-34 10h0m7 12h0m22 2h0m-3 2h0m-12 10h0m-17 18h0m22 36h0m-22 2h0m29 15h0m-18 5h0m1 21h0m22 2h0m-6 0h0m7 12h0m-1 9h0m-8 1h0m3 7h0m-10 27h0m6 2h0m9 14h0m-31 33h0m5 4h0m-5 24h0m-1 15h0m7 12h0m-2 1h0m21 4h0m6 17h0m-34 6h0m21 2h0m-12 23h0m-8 5h0m18 6h0m-7 9h0m22 2h0m6-3228h0m0 120h0m0 890h0m17 234h0m-16 817h0m27 562h0m-1 19h0m-3 14h0m4 20h0m-6 30h0m4 39h0m-1 9h0m-1 62h0m-16 5h0m13 9h0m9 4h0m0 10h0m-10 8h0m-16 8h0m14 23h0m-18 5h0m4 50h0m-3 25h0m10 2h0m14 0h0m3 3h0m-6 5h0m7 2h0m1 12h0m-17 15h0m17 4h0m-28 18h0m9 7h0m2 8h0m14 33h0m-13 4h0m-2 35h0m17 35h0m1 5h0m-17 8h0m9 3h0m8 0h0m0 30h0m-10 22h0m10 5h0m-14 9h0m133-714h0m24 70h0m11 57h0m-17 44h0m5 28h0m21 1h0m-25 27h0m22 54h0m1 37h0m-16 4h0m-11 1h0m2 4h0m1 7h0m26 1h0m-9 1h0m-22 9h0m2 8h0m-2 100h0m3 11h0m29 14h0m1 7h0m-24 2h0m-9 5h0m29 8h0m6 2h0m-26 15h0m-9 10h0m12 29h0m22 33h0m-34 30h0m35 12h0m-26 2h0m-2 49h0m-2 2h0m-4 5h0m10 9h0m-11 3h0m27 7h0m-14 5h0m-8 0h0m63-1824h0m0 33h0m1 85h0m-26 374h0m20 595h0m-2 5h0m4 45h0m-2 38h0m0 9h0m6 28h0m-5 31h0m0 3h0m5 32h0m-2 7h0m3 1h0m-11 0h0m-22 0h0m28 15h0m0 2h0m-1 4h0m-17 1h0m14 6h0m6 8h0m-6 20h0m8 3h0m-32 1h0m25 13h0m6 7h0m-1 4h0m-7 3h0m6 12h0m4 2h0m-5 9h0m-3 2h0m3 1h0m-3 9h0m5 1h0m1 28h0m-1 8h0m8 4h0m-29 12h0m19 16h0m-15 28h0m13 9h0m7 6h0m-19 17h0m11 14h0m7 10h0m-7 2h0m-8 11h0m-10 17h0m17 11h0m-8 5h0m-10 21h0m27 1h0m-8 22h0m-24 1h0m22 3h0m7 6h0m-1 8h0m-24 12h0m27 1h0m-20 22h0m-1 6h0m18 1h0m2 12h0m-18 1h0m-4 7h0m28 3h0m-15 3h0m10 20h0m-18 7h0m-3 1h0m21 25h0m-7 1h0m-16 11h0m25 18h0m-22 1h0m-7 2h0m22 1h0m28-795h0m6 58h0m17 304h0m-2 40h0m-31 1h0m17 40h0m14 13h0m-27 0h0m-4 5h0m30 7h0m-7 8h0m-5 10h0m10 35h0m-30 17h0m7 18h0m17 18h0m-1 19h0m-14 23h0m-9 10h0m6 5h0m-6 4h0m22 19h0m-6 16h0m-7 14h0m0 29h0m-3 45h0m11 14h0m17 1h0m-20 2h0m8 5h0m-9 6h0m22 7h0m4-327h0m-3 3h0m1 21h0m3 104h0m-3 39h0m3 33h0m-1 93h0m-2 8h0m116-332h0m0 170h0m-4 47h0m4 55h0m-4 13h0m1 3h0m5 52h0m-1 16h0m14-1027h0m0 32h0m-6 163h0m25 594h0m5 15h0m-21 9h0m-5 67h0m18 5h0m-28 2h0m35 11h0m-31 36h0m11 44h0m-7 6h0m15 35h0m-3 9h0m-12 2h0m50-1199h0m-9 583h0m5 26h0m5 11h0m-6 27h0m-1 56h0m0 6h0m2 24h0m-9 34h0m9 20h0m-10 4h0m4 13h0m-1 1h0m0 11h0m4 10h0m0 1h0m3 6h0m-5 7h0m30 8h0m-25 9h0m-3 2h0m0 10h0m1 8h0m-5 6h0m4 7h0m3 1h0m-12 7h0m4 13h0m20 11h0m-18 9h0m-1 0h0m6 9h0m-3 4h0m-4 5h0m6 35h0m8 21h0m-13 3h0m2 17h0m20 6h0m-18 24h0m16 13h0m-27 8h0m5 5h0m22 1h0m-4 4h0m-13 2h0m10 3h0m6 16h0m-15 2h0m14 0h0m-17 2h0m20 17h0m-26 16h0m8 5h0m13 4h0m-13 24h0m-2 1h0m5 7h0m11 15h0m-20 1h0m-2 0h0m39-814h0m-1 114h0m8 155h0m0 58h0m0 84h0m-3 81h0m3 71h0m0 3h0m-1 87h0m-6 20h0m3 4h0m4 38h0m0 16h0m0 12h0m0 36h0m0 25h0m-2 9h0" stroke="#FFA500" stroke-width="47" stroke-linecap="round" fill="none"/>
<path transform="scale(.1)" d="M6039 3993h0m0 58h0m0 234h0m0 25h0m0 27h0m2-3718h0m0 223h0m1 607h0" stroke="#1E90FF" stroke-width="47" stroke-linecap="round" fill="none"/>
<text x="610.8" y="59.1" font-size="13" fill="#1E90FF">chr18q22.2</text>
<line x1="33.04" x2="681.0" y1="209.2" y2="209.2" stroke="#262626" stroke-width="1.4" stroke-dasharray="3.4 3.36"/>
<path d="M33.0 41.8V491.5" fill="none" stroke="#2a2a2a" stroke-width="1.2"/>
<path d="M32.4 491.5H681.0" fill="none" stroke="#1a1a1a" stroke-width="1.05"/>
<path d="M30.8 470.8H33.0" stroke="#333" stroke-width="1.1"/>
<text x="28.8" y="474.2" font-size="9.5" fill="#4d4d4d" text-anchor="end">3</text>
<path d="M30.8 366.2H33.0" stroke="#333" stroke-width="1.1"/>
<text x="28.8" y="369.6" font-size="9.5" fill="#4d4d4d" text-anchor="end">5</text>
<path d="M30.8 261.6H33.0" stroke="#333" stroke-width="1.1"/>
<text x="28.8" y="265.0" font-size="9.5" fill="#4d4d4d" text-anchor="end">7</text>
<path d="M30.8 157.0H33.0" stroke="#333" stroke-width="1.1"/>
<text x="28.8" y="160.4" font-size="9.5" fill="#4d4d4d" text-anchor="end">9</text>
<path d="M30.8 52.3H33.0" stroke="#333" stroke-width="1.1"/>
<text x="28.8" y="55.7" font-size="9.5" fill="#4d4d4d" text-anchor="end">11</text>
<path d="M87.4 491.5v2.4" stroke="#333" stroke-width="1.1"/>
<text x="87.4" y="502.2" font-size="9.5" fill="#4d4d4d" text-anchor="middle">1</text>
<path d="M137.4 491.5v2.4" stroke="#333" stroke-width="1.1"/>
<text x="137.4" y="502.2" font-size="9.5" fill="#4d4d4d" text-anchor="middle">2</text>
<path d="M182.4 491.5v2.4" stroke="#333" stroke-width="1.1"/>
<text x="182.4" y="502.2" font-size="9.5" fill="#4d4d4d" text-anchor="middle">3</text>
<path d="M222.3 491.5v2.4" stroke="#333" stroke-width="1.1"/>
<text x="222.3" y="502.2" font-size="9.5" fill="#4d4d4d" text-anchor="middle">4</text>
<path d="M260.5 491.5v2.4" stroke="#333" stroke-width="1.1"/>
<text x="260.5" y="502.2" font-size="9.5" fill="#4d4d4d" text-anchor="middle">5</text>
<path d="M296 491.5v2.4" stroke="#333" stroke-width="1.1"/>
<text x="296" y="502.2" font-size="9.5" fill="#4d4d4d" text-anchor="middle">6</text>
<path d="M329.3 491.5v2.4" stroke="#333" stroke-width="1.1"/>
<text x="329.3" y="502.2" font-size="9.5" fill="#4d4d4d" text-anchor="middle">7</text>
<path d="M360.6 491.5v2.4" stroke="#333" stroke-width="1.1"/>
<text x="360.6" y="502.2" font-size="9.5" fill="#4d4d4d" text-anchor="middle">8</text>
<path d="M391 491.5v2.4" stroke="#333" stroke-width="1.1"/>
<text x="391" y="502.2" font-size="9.5" fill="#4d4d4d" text-anchor="middle">9</text>
<path d="M419.7 491.5v2.4" stroke="#333" stroke-width="1.1"/>
<text x="419.7" y="502.2" font-size="9.5" fill="#4d4d4d" text-anchor="middle">10</text>
<path d="M447 491.5v2.4" stroke="#333" stroke-width="1.1"/>
<text x="447" y="502.2" font-size="9.5" fill="#4d4d4d" text-anchor="middle">11</text>
<path d="M475 491.5v2.4" stroke="#333" stroke-width="1.1"/>
<text x="475" y="502.2" font-size="9.5" fill="#4d4d4d" text-anchor="middle">12</text>
<path d="M502.5 491.5v2.4" stroke="#333" stroke-width="1.1"/>
<text x="502.5" y="502.2" font-size="9.5" fill="#4d4d4d" text-anchor="middle">13</text>
<path d="M525.3 491.5v2.4" stroke="#333" stroke-width="1.1"/>
<text x="525.3" y="502.2" font-size="9.5" fill="#4d4d4d" text-anchor="middle">14</text>
<path d="M547 491.5v2.4" stroke="#333" stroke-width="1.1"/>
<text x="547" y="502.2" font-size="9.5" fill="#4d4d4d" text-anchor="middle">15</text>
<path d="M564.8 491.5v2.4" stroke="#333" stroke-width="1.1"/>
<text x="564.8" y="502.2" font-size="9.5" fill="#4d4d4d" text-anchor="middle">16</text>
<path d="M581.8 491.5v2.4" stroke="#333" stroke-width="1.1"/>
<text x="581.8" y="502.2" font-size="9.5" fill="#4d4d4d" text-anchor="middle">17</text>
<path d="M598.4 491.5v2.4" stroke="#333" stroke-width="1.1"/>
<text x="598.4" y="502.2" font-size="9.5" fill="#4d4d4d" text-anchor="middle">18</text>
<path d="M612 491.5v2.4" stroke="#333" stroke-width="1.1"/>
<text x="612" y="502.2" font-size="9.5" fill="#4d4d4d" text-anchor="middle">19</text>
<path d="M624.7 491.5v2.4" stroke="#333" stroke-width="1.1"/>
<text x="624.7" y="502.2" font-size="9.5" fill="#4d4d4d" text-anchor="middle">20</text>
<path d="M637.5 491.5v2.4" stroke="#333" stroke-width="1.1"/>
<text x="637.5" y="502.2" font-size="9.5" fill="#4d4d4d" text-anchor="middle">21</text>
<path d="M648.3 491.5v2.4" stroke="#333" stroke-width="1.1"/>
<text x="648.3" y="502.2" font-size="9.5" fill="#4d4d4d" text-anchor="middle">22</text>
<text x="356.7" y="516.0" font-size="12.5" fill="#000" text-anchor="middle">Position</text>
<text transform="translate(13.2 267.1) rotate(-90)" font-size="12.6" fill="#000" text-anchor="middle">−log10(P−value)</text>
<text x="25.3" y="588.7" font-size="20.25" fill="#000"><tspan font-weight="bold">B</tspan>. Norclozapine C/D</text>
<path transform="scale(.1)" d="M626 9530h0m-2 263h0m6 28h0m-1 28h0m-6 28h0m2 28h0m-11 62h0m8 215h0m-4 19h0m-5 1h0m-4 39h0m7 1h0m-5 25h0m-1 36h0m19 0h0m-21 16h0m29 4h0m-29 5h0m0 1h0m27 6h0m-16 12h0m16 24h0m-27 13h0m0 39h0m20 2h0m-6 8h0m3 5h0m-12 8h0m5 5h0m17 2h0m20-2247h0m24 1635h0m0 156h0m-24 18h0m24 9h0m-15 43h0m-3 83h0m-6 15h0m4 23h0m-13 5h0m20 79h0m0 16h0m0 14h0m-1 1h0m1 3h0m8 10h0m-16 8h0m4 12h0m9 16h0m7 0h0m-14 5h0m2 17h0m-13 14h0m15 15h0m-10 8h0m-15 3h0m31 1h0m-24 1h0m-4 18h0m26 2h0m-19 5h0m22 0h0m-18 3h0m22 1h0m0 5h0m6-780h0m0 36h0m5 59h0m-10 47h0m1 72h0m26 31h0m-21 13h0m-1 1h0m0 56h0m-2 7h0m22 18h0m0 25h0m-20 13h0m1 9h0m-6 5h0m1 5h0m0 17h0m24 7h0m-10 18h0m10 2h0m-22 7h0m4 2h0m2 4h0m-2 5h0m18 1h0m-18 8h0m-3 10h0m-2 8h0m23 6h0m-24 0h0m2 3h0m24 1h0m-2 5h0m0 7h0m-20 9h0m20 9h0m-16 2h0m-1 14h0m17 10h0m0 8h0m0 0h0m0 31h0m-24 10h0m14 8h0m-7 5h0m17 4h0m-10 3h0m-9 8h0m19 2h0m-11 4h0m-11 9h0m25 15h0m-28 13h0m15 8h0m-7 2h0m25 2h0m3 0h0m-26 5h0m0 0h0m29 2h0m-30 9h0m16 18h0m11 19h0m-11 4h0m-10 3h0m-11 3h0m32 26h0m-28 6h0m-4 1h0m26 2h0m44-617h0m-23 142h0m20 107h0m-23 95h0m2 6h0m23 1h0m-3 20h0m-12 42h0m-8 2h0m17 27h0m-5 3h0m5 26h0m-4 12h0m5 2h0m-21 4h0m-2 12h0m0 13h0m23 10h0m-15 4h0m-1 1h0m15 8h0m6 6h0m-10 3h0m3 10h0m-24 29h0m33 5h0m-17 1h0m5 1h0m-16 1h0m24 17h0m-19 4h0m22 5h0m13-894h0m5 446h0m22 1h0m4 40h0m-25 82h0m-7 11h0m20 42h0m8 13h0m-9 11h0m-10 21h0m-1 33h0m-1 21h0m-12 3h0m38 27h0m-6 31h0m-30 22h0m0 7h0m22 14h0m-12 7h0m2 9h0m15 44h0m-16 7h0m43-962h0m0 117h0m-4 99h0m-4 254h0m0 131h0m30 96h0m-34 12h0m4 14h0m28 7h0m-21 6h0m-6 11h0m-1 6h0m1 11h0m-2 4h0m14 1h0m10 8h0m-16 0h0m-16 2h0m4 14h0m20 4h0m-12 16h0m10 7h0m-20 3h0m8 29h0m-2 19h0m-5 5h0m6 9h0m3 10h0m27 12h0m-12 5h0m-23 3h0m14 2h0m4 15h0m-12 0h0m2 21h0m22 2h0m9-1564h0m23 673h0m-12 82h0m0 28h0m-3 28h0m1 28h0m23 42h0m-19 31h0m-1 8h0m3 13h0m-2 7h0m0 33h0m-2 51h0m3 40h0m-1 15h0m-2 10h0m5 37h0m9 1h0m-8 14h0m-7 6h0m7 28h0m0 1h0m-6 2h0m-1 34h0m4 1h0m-2 22h0m4 1h0m-1 8h0m-4 5h0m6 4h0m-4 0h0m5 8h0m-5 4h0m-4 0h0m0 4h0m1 9h0m0 1h0m-1 11h0m0 1h0m2 10h0m0 2h0m4 7h0m-3 7h0m-3 10h0m1 12h0m0 16h0m14 6h0m-6 0h0m-7 0h0m8 10h0m2 1h0m-16 8h0m9 9h0m-1 3h0m0 14h0m20 13h0m-28 3h0m20 0h0m-12 7h0m-2 2h0m3 20h0m3 12h0m6 8h0m-7 0h0m11 14h0m6 2h0m-4 0h0m-27 18h0m20 7h0m-9 9h0m-5 3h0m9 5h0m12 14h0m-14 3h0m20 17h0m-22 7h0m59-759h0m-10 284h0m0 127h0m1 94h0m-13 7h0m-12 7h0m14 4h0m0 24h0m10 11h0m-10 4h0m10 14h0m0 5h0m0 15h0m-12 15h0m2 0h0m10 9h0m-19 5h0m19 8h0m0 6h0m-22 2h0m9 1h0m13 1h0m-19 15h0m22 49h0m3 10h0m-6 8h0m-21 5h0m21 10h0m-24 0h0m37 1h0m-8 11h0m8 1h0m18-1787h0m18 1569h0m0 45h0m1 14h0m0 24h0m0 19h0m0 32h0m0 6h0m-11 34h0m7 9h0m4 26h0m0 7h0m0 7h0m-21 1h0m20 2h0m-22 1h0m57-854h0m4 94h0m-28 2h0m28 132h0m-27 11h0m-1 116h0m23 4h0m-22 59h0m-1 39h0m0 20h0m0 1h0m26 13h0m-2 0h0m-20 17h0m-4 12h0m0 1h0m23 4h0m-23 14h0m19 13h0m-3 22h0m14 8h0m-9 9h0m11 12h0m-4 11h0m-28 11h0m11 6h0m-11 26h0m28 1h0m-20 3h0m-8 0h0m8 3h0m-6 1h0m-2 7h0m7 18h0m3 7h0m-7 1h0m9 9h0m-8 6h0m18 7h0m-16 7h0m17 12h0m8 14h0m-31 2h0m33 8h0m-2 20h0m-31 2h0m29 10h0m-2 7h0m-27 0h0m0 30h0m27 11h0m-27 0h0m29 1h0m-2 8h0m-22 2h0m60-900h0m1 349h0m-8 112h0m15 130h0m-4 2h0m-33 2h0m38 32h0m-12 25h0m-21 27h0m23 4h0m-11 0h0m11 0h0m-17 10h0m20 4h0m5 16h0m1 13h0m-11 10h0m-16 0h0m-7 16h0m-2 35h0m0 14h0m23 30h0m-15 6h0m28 4h0m-10 2h0m-5 5h0m15 18h0m-27 1h0m7 4h0m-4 22h0m22 1h0m18-1306h0m0 61h0m0 123h0m0 190h0m-4 28h0m6 28h0m-3 28h0m-11 70h0m23 24h0m-1 107h0m-1 18h0m-21 63h0m21 97h0m0 41h0m1 39h0m14 11h0m-10 21h0m4 2h0m5 6h0m-11 12h0m2 2h0m-4 13h0m3 5h0m-4 9h0m6 1h0m3 17h0m-4 6h0m3 20h0m-18 17h0m22 9h0m-32 1h0m-2 1h0m30 9h0m2 23h0m-13 6h0m4 5h0m5 0h0m-12 2h0m-8 7h0m-2 5h0m-5 19h0m26 1h0m8 8h0m-3 4h0m-15 8h0m8 14h0m-21 1h0m20 2h0m-8 2h0m-4 3h0m17 8h0m-22 0h0m17 4h0m-3 10h0m9 25h0m-18 17h0m20 29h0m-14 7h0m-9 1h0m20 12h0m-12 5h0m45-2038h0m-14 349h0m17 566h0m-17 409h0m10 216h0m-5 38h0m-6 55h0m2 29h0m-3 15h0m-1 58h0m9 12h0m5 40h0m-6 25h0m4 14h0m-14 9h0m27 52h0m-11 37h0m10 8h0m-28 11h0m16 18h0m-15 3h0m20 9h0m-22 5h0m18 2h0m-9 23h0m3 17h0m4 6h0m-10 3h0m-7 3h0m22 8h0m23-1488h0m507 765h0m-6 35h0m-5 51h0m8 21h0m-7 28h0m9 79h0m-10 4h0m18 34h0m-4 58h0m-10 6h0m-2 19h0m10 19h0m-9 1h0m7 24h0m-7 40h0m14 2h0m-17 2h0m4 22h0m13 39h0m-17 54h0m9 35h0m1 13h0m5 15h0m-10 58h0m3 16h0m-8 6h0m6 10h0m-6 5h0m0 19h0m5 5h0m17-2304h0m7 1133h0m-1 405h0m-1 28h0m25 13h0m-20 15h0m-2 28h0m0 28h0m18 33h0m-22 6h0m26 2h0m-5 7h0m-1 98h0m0 28h0m6 29h0m-26 13h0m7 3h0m6 37h0m-16 4h0m28 5h0m-11 13h0m11 1h0m-13 7h0m-1 32h0m11 9h0m0 2h0m-1 2h0m-17 12h0m-8 7h0m14 5h0m11 12h0m9 2h0m-29 15h0m21 4h0m-15 7h0m2 0h0m-13 0h0m28 19h0m5 3h0m-14 13h0m0 2h0m-7 5h0m12 3h0m8 32h0m-35 22h0m8 7h0m-6 22h0m34 23h0m-13 27h0m6 6h0m-15 6h0m23 5h0m-8 10h0m4 4h0m6 7h0m-33 8h0m2 18h0m11 3h0m18 1h0m-7 14h0m-20 0h0m-2 1h0m24 1h0m-5 0h0m5 1h0m-17 0h0m45-2318h0m-6 127h0m0 63h0m0 22h0m0 161h0m3 620h0m19 341h0m-2 28h0m-1 28h0m2 28h0m-3 28h0m-11 112h0m11 141h0m-15 10h0m2 6h0m-4 171h0m19 5h0m-12 16h0m10 1h0m-20 15h0m-2 26h0m-8 23h0m35 10h0m-31 8h0m18 5h0m0 4h0m-11 0h0m13 2h0m-24 4h0m20 9h0m3 3h0m8 16h0m-1 8h0m-23 19h0m25 4h0m-14 0h0m16 4h0m-2 8h0m-34 6h0m2 6h0m6 0h0m16 3h0m1 8h0m-8 1h0m-8 10h0m2 40h0m1 11h0m24 4h0m-32 21h0m5 5h0m-6 0h0m26 2h0m-8 7h0m-1 6h0m8 2h0m6 75h0m-12 24h0m-10 4h0m22 5h0m36-1001h0m-22 253h0m25 57h0m-25 1h0m15 32h0m-16 31h0m16 5h0m-22 9h0m9 11h0m-1 35h0m-1 9h0m24 6h0m-24 9h0m15 5h0m-16 1h0m3 2h0m13 17h0m-12 5h0m-3 11h0m17 4h0m-16 3h0m-5 7h0m25 2h0m-26 6h0m20 4h0m3 8h0m-9 17h0m20 6h0m-23 8h0m-6 33h0m18 37h0m0 14h0m-26 4h0m4 3h0m0 3h0m25 0h0m2 1h0m-3 10h0m4 0h0m-16 4h0m13 6h0m-20 0h0m5 5h0m-2 11h0m-10 19h0m1 9h0m10 1h0m15 38h0m-2 5h0m9 14h0m-12 4h0m-14 12h0m1 1h0m11 33h0m-2 7h0m-11 5h0m-2 12h0m3 51h0m2 14h0m18 1h0m-15 5h0m-14 6h0m21 9h0m-14 13h0m-2 11h0m25 3h0m-10 1h0m-2 1h0m6 2h0m-21 0h0m17 18h0m-12 3h0m8 11h0m22 1h0m28-1590h0m0 29h0m-4 294h0m2 28h0m0 56h0m6 28h0m-5 28h0m-25 41h0m24 15h0m0 28h0m3 28h0m0 28h0m1 28h0m1 28h0m-4 28h0m-12 35h0m16 49h0m-3 28h0m-13 1h0m4 20h0m8 7h0m-1 28h0m2 28h0m-7 29h0m-5 1h0m7 23h0m-12 37h0m7 9h0m0 8h0m-3 26h0m4 24h0m-9 7h0m10 9h0m-4 15h0m-1 14h0m4 1h0m3 16h0m1 3h0m-4 3h0m0 6h0m-4 16h0m1 7h0m18 14h0m-10 11h0m-8 3h0m7 4h0m-8 2h0m22 1h0m-15 22h0m-15 13h0m30 10h0m-21 17h0m0 1h0m-1 0h0m12 32h0m-15 8h0m-5 20h0m6 0h0m8 12h0m-10 2h0m-6 4h0m-2 1h0m33 23h0m-11 16h0m-2 13h0m-21 11h0m20 12h0m13 21h0m2 7h0m-35 4h0m22 5h0m-13 0h0m4 2h0m22 13h0m-17 14h0m17 1h0m-23 8h0m6 4h0m13 1h0m-30 16h0m13 6h0m13 3h0m-6 0h0m-19 14h0m17 4h0m-6 3h0m22 6h0m-23 6h0m8 20h0m3 7h0m-2 15h0m-2 5h0m1 8h0m55-475h0m0 4h0m-5 12h0m5 11h0m-8 15h0m0 3h0m5 1h0m-1 8h0m-13 15h0m-10 17h0m25 3h0m-5 14h0m5 18h0m-4 29h0m3 8h0m1 3h0m1 11h0m-5 1h0m7 17h0m-9 1h0m8 8h0m-8 15h0m2 6h0m-1 1h0m0 2h0m5 12h0m-2 8h0m5 2h0m-5 2h0m2 7h0m-6 6h0m-11 12h0m18 2h0m-1 3h0m-4 1h0m5 2h0m-3 3h0m2 1h0m-1 10h0m-2 10h0m1 13h0m6 12h0m-10 9h0m10 5h0m-31 8h0m24 0h0m-11 2h0m9 1h0m4 4h0m1 0h0m-7 3h0m-14 13h0m16 9h0m6 7h0m1 3h0m-21 6h0m25 9h0m-30 1h0m-2 5h0m21 40h0m6 8h0m-12 10h0m-17 1h0m27 3h0m-22 4h0m0 1h0m59-989h0m-4 198h0m1 28h0m1 92h0m1 28h0m0 28h0m-3 28h0m7 28h0m-9 74h0m11 174h0m5 120h0m-8 18h0m5 7h0m-6 7h0m-21 9h0m13 10h0m10 13h0m-20 2h0m0 8h0m15 3h0m-4 4h0m12 17h0m-15 23h0m11 6h0m-31 2h0m16 11h0m-1 1h0m-2 37h0m1 6h0m-7 2h0m23 1h0m6 5h0m-3 1h0m26-977h0m0 73h0m9 624h0m-20 53h0m23 27h0m-22 2h0m-7 6h0m32 21h0m-8 21h0m-10 4h0m17 9h0m-16 12h0m-4 22h0m-5 8h0m26 20h0m-10 8h0m-14 9h0m6 22h0m23 19h0m-35 4h0m14 5h0m30-720h0m-8 74h0m37 93h0m-4 140h0m-1 9h0m-5 19h0m0 8h0m4 17h0m2 2h0m-4 13h0m-9 18h0m8 14h0m2 45h0m3 10h0m-2 28h0m2 25h0m-2 8h0m1 22h0m7 10h0m0 6h0m-28 18h0m22 1h0m2 2h0m-4 5h0m4 2h0m-5 35h0m-3 6h0m3 3h0m9 5h0m-36 2h0m5 8h0m23 6h0m5 0h0m-29 11h0m23 2h0m-7 13h0m0 0h0m-5 26h0m-18 20h0m22 2h0m46-1024h0m1 28h0m-1 28h0m-4 28h0m-4 606h0m-5 30h0m13 42h0m11 39h0m-15 17h0m13 15h0m-20 31h0m-8 10h0m1 0h0m11 27h0m-4 30h0m-6 23h0m0 18h0m22 12h0m-8 1h0m-15 7h0m13 5h0m-6 5h0m-13 11h0m22 2h0m-15 6h0m6 3h0m38-918h0m-5 4h0m20 360h0m-21 159h0m0 97h0m4 25h0m1 49h0m-7 20h0m11 26h0m-7 9h0m-7 4h0m0 6h0m10 19h0m-6 34h0m7 8h0m2 20h0m-8 8h0m10 29h0m-12 13h0m10 17h0m-9 9h0m426-865h0m1 0h0m-13 31h0m0 65h0m6 6h0m-3 5h0m2 46h0m-3 258h0m3 234h0m-5 64h0m1 7h0m4 4h0m-5 6h0m9 40h0m7 16h0m-15 1h0m14 16h0m-1 7h0m-8 13h0m-6 4h0m5 39h0m34-1074h0m-12 209h0m6 28h0m-5 153h0m-3 86h0m7 7h0m-3 77h0m2 18h0m-6 12h0m7 8h0m-5 17h0m1 9h0m4 5h0m-1 2h0m-3 3h0m-3 28h0m1 10h0m0 1h0m8 6h0m-8 7h0m6 30h0m-7 25h0m5 4h0m-3 1h0m1 3h0m4 2h0m-5 5h0m4 2h0m2 7h0m-10 2h0m9 2h0m-7 1h0m7 1h0m-3 5h0m-5 2h0m1 3h0m3 13h0m-1 1h0m1 6h0m1 4h0m4 2h0m-8 1h0m2 0h0m5 8h0m-3 2h0m0 3h0m-5 2h0m4 5h0m4 3h0m-6 7h0m1 4h0m-4 2h0m5 1h0m2 1h0m-3 23h0m26 0h0m-22 1h0m-2 5h0m-2 1h0m-1 0h0m6 8h0m-3 7h0m-1 1h0m2 4h0m2 3h0m-1 7h0m1 5h0m-2 2h0m-1 17h0m-2 8h0m-1 17h0m-1 0h0m-7 1h0m30 17h0m-11 9h0m-6 7h0m-6 4h0m22 5h0m-28 10h0m18 1h0m5 4h0m0 1h0m-12 12h0m-5 7h0m10 2h0m-13 10h0m9 5h0m-4 6h0m24 1h0m-24 12h0m22 9h0m-21 0h0m-1 0h0m48-1049h0m-7 95h0m16 111h0m-1 28h0m1 28h0m-5 28h0m7 28h0m-2 28h0m1 28h0m-6 12h0m3 135h0m0 11h0m3 74h0m0 43h0m-5 15h0m-2 6h0m8 36h0m3 30h0m-5 32h0m-1 27h0m5 68h0m1 5h0m-9 3h0m7 4h0m-2 4h0m-3 19h0m12 5h0m-9 5h0m12 9h0m-19 7h0m-20 13h0m14 8h0m10 7h0m-16 6h0m7 26h0m14 1h0m-5 2h0m9 3h0m-12 14h0m8 20h0m-7 15h0m13 1h0m-25 2h0m3 3h0m-7 3h0m62-843h0m-6 8h0m8 276h0m-4 38h0m-2 151h0m15 9h0m-17 84h0m7 2h0m-1 7h0m-3 8h0m3 7h0m1 6h0m-7 24h0m8 4h0m-7 1h0m3 16h0m0 2h0m5 6h0m-1 0h0m-4 1h0m-4 17h0m12 27h0m-33 7h0m33 8h0m-15 10h0m-19 9h0m28 6h0m-4 15h0m-19 22h0m20 4h0m-23 9h0m32 20h0m-4 17h0m-13 14h0m-14 6h0m31 1h0m5 3h0m19-1666h0m-3 28h0m-2 56h0m1 100h0m2 28h0m0 28h0m-2 28h0m-3 28h0m-1 56h0m1 56h0m5 28h0m-3 56h0m0 28h0m-2 28h0m7 28h0m-5 28h0m5 28h0m-1 28h0m-6 28h0m6 28h0m-1 28h0m-1 28h0m0 28h0m-1 28h0m-2 28h0m2 56h0m1 23h0m-4 61h0m4 28h0m2 28h0m-5 46h0m-1 10h0m3 28h0m-1 28h0m1 28h0m6 37h0m0 53h0m-5 20h0m1 10h0m3 3h0m15 7h0m-18 10h0m20 49h0m-16 2h0m-3 11h0m-2 24h0m1 13h0m-5 32h0m8 4h0m17 40h0m-20 17h0m-3 17h0m6 6h0m15 8h0m-20 1h0m6 4h0m-2 2h0m-16 5h0m34 31h0m-34 10h0m5 3h0m-7 4h0m0 2h0m15 12h0m23 13h0m-38 6h0m36 4h0m-18 5h0m3 3h0m-21 3h0m37 0h0m25-657h0m-2 501h0m18 15h0m-24 24h0m-10 13h0m28 9h0m0 10h0m2 2h0m-20 22h0m7 0h0m-16 23h0m4 10h0m-7 5h0m11 13h0m-10 8h0m21 4h0m1 1h0m25-1857h0m0 552h0m-4 151h0m5 28h0m-4 28h0m4 28h0m-4 28h0m11 124h0m-8 80h0m24 149h0m-2 119h0m-1 50h0m7 142h0m-13 71h0m-11 34h0m14 8h0m4 19h0m0 1h0m-26 5h0m20 6h0m-7 4h0m18 2h0m-36 67h0m8 30h0m7 3h0m-11 6h0m19 15h0m5 2h0m-14 2h0m9 5h0m-20 1h0m30 17h0m-20 18h0m14 6h0m-6 1h0m8 31h0m-1 20h0m-22 2h0m35-1084h0m19 160h0m8 245h0m8 202h0m-7 47h0m6 19h0m-2 4h0m-5 20h0m5 12h0m2 44h0m-1 15h0m-2 3h0m2 9h0m-5 13h0m4 20h0m-19 7h0m15 11h0m2 22h0m5 12h0m-7 6h0m5 3h0m-2 4h0m5 20h0m-10 0h0m8 36h0m-28 6h0m17 13h0m10 1h0m-2 8h0m-15 7h0m-9 0h0m9 8h0m-6 20h0m-3 2h0m30 13h0m-32 29h0m4 6h0m0 30h0m22 6h0m-1 2h0m40-879h0m2 234h0m-3 3h0m2 22h0m4 45h0m-6 41h0m-6 31h0m8 147h0m-30 76h0m24 13h0m-1 35h0m7 19h0m-2 7h0m-22 56h0m0 4h0m-9 17h0m32 2h0m-3 17h0m2 7h0m-16 42h0m-3 5h0m3 8h0m-2 4h0m12 4h0m9 2h0m-24 13h0m11 0h0m12 14h0m-18 4h0m22 4h0m-25 3h0m47-759h0m7 28h0m-1 28h0m0 28h0m-3 28h0m-19 396h0m19 61h0m-2 20h0m-6 9h0m-1 1h0m-5 52h0m-5 5h0m14 5h0m-14 45h0m-2 4h0m2 17h0m16 28h0m3 2h0m372-577h0m-7 130h0m7 43h0m-3 1h0m8 1h0m-7 18h0m3 22h0m3 141h0m-10 1h0m3 8h0m-4 6h0m9 31h0m-5 31h0m-2 80h0m0 43h0m10 7h0m-7 14h0m12-1141h0m0 175h0m17 164h0m-1 178h0m2 131h0m-3 6h0m3 6h0m-11 12h0m6 26h0m11 13h0m-14 25h0m24 4h0m-20 21h0m-11 22h0m29 15h0m-17 13h0m-16 6h0m8 5h0m-2 4h0m7 14h0m-12 6h0m23 11h0m-17 34h0m-9 11h0m17 9h0m-9 2h0m-5 1h0m13 19h0m-8 18h0m22 22h0m-15 21h0m-11 10h0m23 9h0m-8 15h0m-4 2h0m-13 3h0m28 0h0m-31 1h0m1 4h0m25 17h0m-20 10h0m11 15h0m8 2h0m-23 18h0m29 6h0m5 2h0m-11 19h0m11 16h0m-22 1h0m31-940h0m0 58h0m28 207h0m-8 41h0m-14 57h0m17 42h0m-3 75h0m7 4h0m-3 2h0m-3 5h0m-6 21h0m11 10h0m-17 14h0m14 4h0m-28 8h0m13 9h0m16 8h0m2 2h0m-2 5h0m-18 2h0m-2 9h0m25 1h0m-10 12h0m2 3h0m10 14h0m-22 19h0m9 1h0m-9 18h0m-10 5h0m30 1h0m-19 4h0m-8 20h0m8 1h0m-9 7h0m26 4h0m-6 0h0m2 13h0m-11 34h0m-9 18h0m0 4h0m19 9h0m-16 18h0m6 2h0m5 8h0m8 0h0m-23 14h0m20 6h0m-3 20h0m-18 2h0m21 17h0m0 2h0m-21 2h0m9 5h0m22 6h0m-10 11h0m-25 8h0m18 27h0m-20 6h0m14 5h0m4 4h0m31-810h0m17 187h0m-3 8h0m13 13h0m-7 8h0m-24 25h0m0 12h0m27 2h0m-3 23h0m-24 4h0m0 6h0m16 1h0m-16 8h0m12 1h0m-2 10h0m0 1h0m-10 6h0m19 14h0m-19 0h0m18 5h0m-19 9h0m34 7h0m-23 1h0m-10 5h0m0 14h0m0 10h0m0 10h0m10 18h0m17 11h0m-27 10h0m27 9h0m-8 6h0m-19 13h0m29 12h0m-6 8h0m9 2h0m-13 6h0m-19 4h0m11 1h0m4 7h0m3 4h0m7 15h0m-2 5h0m-23 5h0m0 26h0m29 21h0m-29 4h0m0 6h0m14 10h0m5 14h0m-9 6h0m0 8h0m-10 18h0m0 16h0m0 1h0m0 12h0m34 2h0m-9 4h0m-25 8h0m25 29h0m-4 5h0m-21 4h0m23 5h0m-23 0h0m10 6h0m11 15h0m-5 9h0m-16 3h0m10 1h0m14 2h0m-6 3h0m2 7h0m3 24h0m5 7h0m-13 13h0m-20 0h0m53-1319h0m12 3h0m3 428h0m-5 93h0m-2 2h0m5 92h0m4 22h0m-29 5h0m22 21h0m6 9h0m-24 9h0m26 12h0m-24 10h0m20 14h0m11 3h0m-27 8h0m11 8h0m-21 0h0m29 9h0m1 10h0m-16 8h0m13 4h0m9 0h0m-14 11h0m-16 11h0m3 7h0m2 2h0m6 7h0m3 6h0m-19 2h0m5 1h0m18 60h0m6 12h0m-15 14h0m15 7h0m-24 2h0m10 4h0m-14 30h0m-3 4h0m6 5h0m28 9h0m1 10h0m-19 0h0m13 7h0m-15 16h0m-13 14h0m25 35h0m-23 1h0m19 29h0m13 4h0m-9 5h0m12 2h0m-30 1h0m30 21h0m-6 7h0m-11 1h0m10 30h0m4 21h0m3 12h0m-20 38h0m3 9h0m-10 12h0m5 35h0m-11 0h0m33 6h0m-17 16h0m0 11h0m-19 5h0m22 3h0m41-899h0m7 124h0m-15 79h0m1 37h0m-1 14h0m-15 20h0m13 3h0m2 56h0m20 9h0m-27 5h0m22 13h0m-26 14h0m-2 8h0m6 3h0m24 1h0m-21 6h0m17 2h0m-11 13h0m15 16h0m-20 2h0m21 3h0m-14 24h0m-3 6h0m-8 3h0m10 3h0m17 11h0m-35 25h0m31 1h0m-10 12h0m16 9h0m-29 2h0m21 1h0m5 35h0m-11 22h0m-6 12h0m-11 1h0m9 2h0m5 0h0m-6 7h0m16 2h0m-25 9h0m26 14h0m-4 18h0m5 2h0m4 1h0m-25 12h0m-9 21h0m7 16h0m2 15h0m23 5h0m-25 5h0m22 18h0m-28 14h0m18 1h0m15 21h0m-30 2h0m4 8h0m6 1h0m19 5h0m-12 2h0m-7 8h0m13 22h0m-11 7h0m3 11h0m-23 4h0m9 7h0m6 9h0m-13 15h0m26 17h0m-22 0h0m19 5h0m15-1445h0m0 238h0m0 44h0m36 0h0m3 69h0m-32 120h0m29 30h0m-7 51h0m-26 70h0m-3 28h0m3 28h0m-2 56h0m3 80h0m-4 27h0m20 2h0m-6 1h0m8 5h0m5 22h0m-25 8h0m16 11h0m21 12h0m0 6h0m-26 5h0m-10 4h0m33 4h0m-8 2h0m2 1h0m-28 19h0m31 52h0m-18 2h0m8 9h0m-17 0h0m24 1h0m4 20h0m-30 1h0m0 3h0m13 21h0m2 32h0m13 4h0m-10 1h0m4 1h0m-7 12h0m10 14h0m-2 14h0m-24 21h0m15 9h0m21 22h0m-38 3h0m18 28h0m0 22h0m17 4h0m-3 3h0m5 8h0m-5 19h0m-3 33h0m9 8h0m-37 4h0m13 1h0m14 11h0m2 27h0m-15 12h0m-11 8h0m29 2h0m-21 6h0m24 1h0m-24 24h0m0 9h0m-3 28h0m22 0h0m13-1064h0m-2 56h0m4 145h0m-6 56h0m37 75h0m0 3h0m-35 14h0m30 13h0m-33 12h0m36 37h0m-27 10h0m-1 3h0m30 1h0m-37 1h0m34 29h0m-11 22h0m-24 12h0m20 5h0m-13 1h0m3 21h0m-1 3h0m-1 2h0m-1 1h0m11 11h0m15 2h0m-27 14h0m23 8h0m-19 1h0m6 2h0m-7 5h0m-8 3h0m29 0h0m-22 44h0m29 2h0m-13 2h0m-8 11h0m-8 1h0m30 13h0m-2 6h0m-29 6h0m-5 5h0m18 13h0m7 13h0m0 2h0m-13 1h0m8 2h0m-3 3h0m10 6h0m-28 6h0m3 1h0m32 23h0m-17 6h0m-12 1h0m6 39h0m-11 2h0m4 5h0m2 5h0m-3 6h0m-3 14h0m26 2h0m-21 5h0m-4 7h0m-2 4h0m5 4h0m20 9h0m-25 5h0m6 1h0m25 7h0m2 4h0m-31 2h0m7 38h0m-6 1h0m19 37h0m6 0h0m10 14h0m-7 23h0m-26 4h0m22 11h0m-17 5h0m21 4h0m2 12h0m-30 1h0m5 13h0m-2 2h0m-4 5h0m17 16h0m-16 3h0m35 13h0m-3 8h0m-22 0h0m-5 2h0m-2 1h0m40-933h0m17 58h0m-24 168h0m24 1h0m0 6h0m0 3h0m2 34h0m-2 10h0m0 12h0m-24 21h0m14 11h0m10 2h0m0 41h0m0 5h0m0 18h0m0 10h0m-2 10h0m2 4h0m0 5h0m-13 3h0m-11 5h0m24 15h0m0 18h0m-6 6h0m6 4h0m0 17h0m-23 4h0m13 3h0m1 10h0m9 3h0m0 13h0m-16 44h0m0 22h0m10 4h0m-16 7h0m10 32h0m-4 0h0m16 12h0m-7 4h0m7 6h0m-13 31h0m11 9h0m2 13h0m-11 5h0m11 10h0m0 64h0m-20 25h0m20 17h0m0 45h0m-15 4h0m-5 16h0m5 12h0m-3 5h0m15 2h0m-17 4h0m20 19h0m-6 0h0m337-517h0m-20 26h0m14 10h0m4 4h0m-4 5h0m5 10h0m-1 3h0m-4 1h0m3 5h0m-11 9h0m9 5h0m7 19h0m-13 29h0m7 5h0m0 15h0m-14 0h0m13 21h0m-2 4h0m-11 14h0m4 32h0m8 6h0m-14 3h0m15 8h0m5 5h0m-6 5h0m7 71h0m-21 11h0m12 13h0m-8 0h0m19 14h0m-3 2h0m-8 9h0m6 16h0m-16 5h0m15 32h0m6 4h0m-19 23h0m7 12h0m-7 16h0m-4 9h0m5 8h0m16 4h0m-1 6h0m-15 19h0m54-1174h0m0 438h0m-27 118h0m26 18h0m-29 10h0m23 27h0m-22 6h0m25 28h0m4 68h0m-31 11h0m22 0h0m-5 11h0m-6 3h0m-6 2h0m21 40h0m-22 4h0m-5 8h0m18 11h0m10 5h0m8 3h0m-18 3h0m-7 0h0m25 11h0m-34 12h0m33 2h0m-23 9h0m-11 9h0m35 3h0m-8 5h0m-29 2h0m37 29h0m-8 0h0m-10 23h0m12 4h0m-9 17h0m-13 2h0m13 36h0m8 9h0m-6 3h0m7 6h0m1 12h0m-21 4h0m22 28h0m-20 18h0m22 1h0m-25 16h0m26 0h0m-35 8h0m4 23h0m31 22h0m-20 7h0m-16 6h0m13 7h0m-1 10h0m13 1h0m-2 9h0m3 0h0m-25 1h0m2 1h0m110-535h0m5 200h0m0 117h0m0 157h0m0 11h0m0 34h0m17-604h0m-4 9h0m-3 18h0m10 32h0m0 26h0m-7 23h0m4 14h0m0 5h0m-2 11h0m4 1h0m1 3h0m0 9h0m-7 9h0m7 12h0m-4 20h0m-4 5h0m22 28h0m-1 0h0m-10 2h0m0 4h0m-14 16h0m3 0h0m7 8h0m-4 10h0m9 3h0m-6 4h0m0 4h0m10 1h0m1 6h0m11 8h0m-16 6h0m14 8h0m-8 15h0m6 5h0m-1 8h0m0 4h0m-23 14h0m25 6h0m1 1h0m-36 31h0m31 8h0m-22 5h0m-9 10h0m13 2h0m5 0h0m-10 10h0m14 2h0m-2 14h0m-4 2h0m16 17h0m-14 4h0m-7 3h0m-7 2h0m5 12h0m0 22h0m8 8h0m20 9h0m-23 9h0m2 4h0m18 5h0m-9 3h0m-9 11h0m-4 10h0m18 1h0m-31 7h0m12 7h0m20 3h0m-8 1h0m-13 2h0m-8 15h0m9 0h0m7 2h0m-15 4h0m16 14h0m6 1h0m-22 2h0m3 1h0m41-1708h0m-4 436h0m3 28h0m10 194h0m-1 28h0m-6 28h0m2 28h0m-7 292h0m18 61h0m-4 5h0m-18 124h0m2 97h0m8 41h0m16 2h0m12 7h0m-26 12h0m0 13h0m-12 43h0m-1 15h0m18 4h0m1 5h0m-6 11h0m22 5h0m-4 1h0m-15 23h0m-9 12h0m20 7h0m-17 3h0m6 5h0m14 3h0m-11 13h0m-19 50h0m13 6h0m9 8h0m0 5h0m-10 12h0m9 10h0m7 12h0m-11 14h0m8 10h0m2 4h0m-13 0h0m-9 5h0m-2 16h0m27 1h0m-30 2h0m8 6h0m41-717h0m18 60h0m4 22h0m0 125h0m-10 68h0m2 20h0m8 4h0m-22 29h0m-4 3h0m4 26h0m-7 14h0m1 2h0m19 17h0m16 29h0m-15 19h0m7 3h0m-9 15h0m-21 1h0m23 13h0m11 17h0m4 2h0m-15 7h0m-18 13h0m5 18h0m13 6h0m15 36h0m-14 20h0m-2 10h0m-5 19h0m3 5h0m8 0h0m-7 9h0m-11 4h0m4 8h0m-11 14h0m27 10h0m2 15h0m1 6h0m-11 0h0m12 22h0m-22 4h0m26 1h0m-20 1h0m8 2h0m20-2153h0m-6 1666h0m16 80h0m-9 9h0m9 5h0m-9 54h0m9 77h0m-4 9h0m-6 4h0m7 7h0m3 1h0m-5 74h0m5 28h0m0 4h0m-3 31h0m-6 56h0m4 27h0m5 13h0m0 2h0m-15 1h0m5 3h0m300-863h0m11 379h0m-10 9h0m-2 86h0m11 65h0m-11 2h0m5 1h0m8 80h0m0 3h0m-2 34h0m0 22h0m-11 8h0m7 5h0m6 6h0m-13 33h0m0 72h0m9 14h0m0 5h0m-4 33h0m-5 5h0m45-869h0m0 277h0m-29 57h0m-1 40h0m27 75h0m-3 32h0m7 1h0m-25 24h0m28 23h0m-21 16h0m0 10h0m13 20h0m-19 6h0m11 16h0m-10 6h0m1 37h0m3 6h0m16 28h0m4 5h0m7 19h0m-16 0h0m-18 2h0m-4 2h0m10 4h0m-6 34h0m11 3h0m4 7h0m-10 27h0m26 9h0m2 10h0m-8 24h0m-27 39h0m31 8h0m-22 2h0m37-726h0m6 66h0m0 1h0m-4 81h0m4 3h0m-7 31h0m8 1h0m-9 9h0m5 29h0m1 1h0m1 12h0m1 4h0m1 8h0m-2 1h0m-3 6h0m25 1h0m-33 4h0m11 3h0m-5 5h0m0 0h0m22 8h0m-18 4h0m-6 4h0m9 6h0m1 4h0m-2 1h0m-7 3h0m19 9h0m-11 0h0m-4 7h0m-1 6h0m19 22h0m-20 24h0m28 3h0m0 4h0m-23 5h0m-7 22h0m7 7h0m1 6h0m3 0h0m-1 5h0m-4 0h0m19 6h0m-29 18h0m5 1h0m3 3h0m10 7h0m14 5h0m-18 3h0m4 5h0m-20 6h0m14 43h0m-7 10h0m0 5h0m10 9h0m11 3h0m-20 2h0m25 12h0m-22 2h0m3 6h0m-13 8h0m5 13h0m0 2h0m3 2h0m22 3h0m4 1h0m-29 9h0m2 8h0m-1 6h0m30 1h0m-18 3h0m-1 18h0m13 7h0m-17 3h0m2 9h0m-11 14h0m2 2h0m17 7h0m-14 3h0m8 8h0m-8 11h0m-2 13h0m5 7h0m23 2h0m-22 3h0m-11 0h0m27 3h0m9-835h0m32 153h0m-27 15h0m26 2h0m-4 107h0m5 6h0m-27 5h0m21 9h0m-1 33h0m0 10h0m0 1h0m6 45h0m-1 18h0m-15 25h0m5 4h0m8 13h0m1 10h0m-15 9h0m-9 7h0m5 9h0m-9 11h0m15 4h0m20 22h0m-9 2h0m-11 5h0m8 10h0m-9 8h0m12 10h0m6 8h0m-9 12h0m-5 19h0m7 12h0m2 2h0m5 5h0m-29 15h0m33 0h0m-8 9h0m-1 5h0m4 22h0m0 3h0m-24 6h0m-1 19h0m26 5h0m-17 2h0m14 5h0m0 5h0m-29 30h0m24 6h0m6 35h0m-30 29h0m29 6h0m-16 1h0m3 5h0m15 2h0m-13 11h0m32-927h0m9 141h0m-1 28h0m2 28h0m-3 73h0m5 109h0m3 19h0m-10 78h0m2 0h0m16 32h0m-19 1h0m-14 11h0m0 27h0m7 3h0m27 3h0m-23 1h0m5 6h0m-12 1h0m22 8h0m-28 12h0m4 17h0m14 9h0m2 8h0m14 2h0m-4 8h0m-8 24h0m-22 23h0m30 3h0m5 4h0m-22 8h0m-7 18h0m16 18h0m-10 26h0m-6 5h0m18 1h0m9 9h0m-19 2h0m25 16h0m-13 2h0m-12 4h0m18 34h0m5 0h0m-3 13h0m-20 4h0m7 7h0m12 1h0m-18 9h0m1 48h0m3 4h0m15 2h0m4 6h0m-36 9h0m18 3h0m4 2h0m29-1280h0m25 51h0m-25 219h0m6 343h0m-16 214h0m18 39h0m13 2h0m-33 2h0m15 31h0m20 7h0m-14 40h0m13 9h0m-17 36h0m5 4h0m11 27h0m3 11h0m-4 4h0m-20 2h0m15 1h0m-1 7h0m1 10h0m-6 3h0m4 25h0m3 1h0m1 2h0m-29 12h0m3 19h0m26 24h0m0 7h0m-25 1h0m10 0h0m-7 17h0m30 2h0m-28 0h0m-10 27h0m39 26h0m-7 8h0m-6 1h0m12 5h0m-24 3h0m-13 3h0m30 1h0m-15 6h0m-3 15h0m22 10h0m-7 2h0m-22 3h0m17 0h0m29-961h0m9 353h0m-10 74h0m3 60h0m-3 2h0m28 29h0m-23 20h0m-12 18h0m0 5h0m22 4h0m-3 5h0m-10 6h0m6 41h0m-5 4h0m-14 3h0m35 9h0m4 7h0m-39 9h0m15 7h0m-13 12h0m6 6h0m31 2h0m-34 16h0m24 15h0m-3 1h0m6 9h0m7 4h0m-33 4h0m33 17h0m-34 7h0m29 0h0m-27 3h0m8 35h0m-9 8h0m3 14h0m1 2h0m14 6h0m-10 27h0m-1 30h0m18 5h0m-9 0h0m-20 1h0m21 2h0m4 11h0m-12 1h0m6 15h0m-15 3h0m26 45h0m1 3h0m-23 0h0m34-1614h0m5 763h0m0 103h0m0 65h0m-8 68h0m0 79h0m3 42h0m0 38h0m-1 18h0m10 23h0m0 9h0m-7 12h0m-2 24h0m-3 3h0m-1 5h0m7 8h0m4 9h0m-5 2h0m3 3h0m-8 41h0m12 3h0m-6 18h0m6 8h0m0 22h0m0 3h0m-4 3h0m-1 6h0m3 1h0m-10 11h0m8 26h0m-6 28h0m10 5h0m0 28h0m0 26h0m-6 79h0m301-663h0m4 9h0m-5 86h0m-3 40h0m3 7h0m1 5h0m-1 33h0m0 6h0m-8 7h0m10 6h0m-5 13h0m1 0h0m-1 14h0m7 1h0m0 1h0m-6 5h0m3 3h0m-1 4h0m-2 2h0m1 17h0m2 1h0m2 28h0m2 38h0m-2 6h0m-7 17h0m1 4h0m5 2h0m-10 14h0m3 12h0m4 3h0m4 3h0m-9 19h0m2 12h0m10 11h0m5 23h0m-19 1h0m10 64h0m3 14h0m-7 13h0m13 1h0m-14 6h0m13 8h0m-14 22h0m0 3h0m2 8h0m3 2h0m-9 20h0m5 74h0m43-1121h0m-11 411h0m9 35h0m3 157h0m-24 17h0m9 72h0m2 44h0m12 9h0m0 20h0m-19 11h0m20 10h0m1 4h0m-14 8h0m16 12h0m7 9h0m-19 6h0m7 32h0m4 10h0m-4 18h0m-22 34h0m26 0h0m-6 9h0m3 5h0m-26 3h0m9 1h0m14 12h0m-18 18h0m29 9h0m2 22h0m-12 4h0m7 10h0m-28 5h0m8 10h0m3 1h0m18 17h0m-12 2h0m5 32h0m-9 19h0m11 21h0m-22 7h0m12 3h0m24-1019h0m9 102h0m26 120h0m-5 27h0m-26 33h0m4 74h0m27 90h0m-28 34h0m2 32h0m-2 2h0m17 2h0m3 10h0m-18 9h0m23 1h0m-29 17h0m28 3h0m-5 27h0m-15 4h0m-8 11h0m1 4h0m21 1h0m-15 6h0m-1 6h0m-6 1h0m0 1h0m23 51h0m-23 1h0m16 3h0m-20 9h0m10 9h0m-1 18h0m9 18h0m11 4h0m2 1h0m-12 18h0m-16 2h0m-3 5h0m28 0h0m-26 11h0m3 3h0m2 5h0m15 6h0m-2 3h0m4 7h0m-9 9h0m21 4h0m-23 10h0m-6 0h0m30 6h0m-10 15h0m-12 29h0m-2 0h0m21 23h0m-28 11h0m-2 8h0m28 3h0m-32 5h0m16 1h0m12 9h0m-12 9h0m10 11h0m-16 10h0m13 1h0m-15 7h0m-9 5h0m16 9h0m16 1h0m3 1h0m-27 1h0m20 16h0m4 6h0m-18 10h0m18 5h0m-22 2h0m59-1490h0m0 158h0m0 260h0m0 58h0m0 69h0m-9 96h0m-19 81h0m2 28h0m0 28h0m0 28h0m-2 28h0m1 28h0m24 15h0m-22 13h0m15 45h0m-2 13h0m-12 23h0m14 7h0m5 6h0m0 38h0m-3 20h0m-20 4h0m24 4h0m-6 6h0m-2 1h0m2 11h0m5 3h0m-16 4h0m27 2h0m-3 46h0m-1 8h0m-26 6h0m3 6h0m11 6h0m-1 5h0m17 18h0m-35 1h0m2 0h0m24 1h0m4 10h0m-12 2h0m13 3h0m-26 2h0m10 8h0m13 4h0m-16 21h0m18 17h0m-5 2h0m-15 23h0m-1 13h0m9 19h0m8 6h0m-26 8h0m3 8h0m24 5h0m-8 1h0m5 5h0m-18 19h0m32 6h0m-32 4h0m12 32h0m-4 5h0m6 11h0m-7 8h0m2 6h0m6 3h0m4 3h0m-10 12h0m10 10h0m-5 10h0m12 1h0m-3 1h0m-10 9h0m17 12h0m-22 5h0m33-1228h0m0 328h0m25 82h0m-11 58h0m10 75h0m6 28h0m-8 70h0m3 1h0m2 33h0m4 22h0m-2 29h0m-5 29h0m4 15h0m-6 13h0m0 19h0m-29 18h0m23 2h0m-14 15h0m16 33h0m11 12h0m-3 0h0m1 9h0m-4 4h0m-3 12h0m0 2h0m-10 23h0m16 6h0m4 15h0m-36 23h0m28 32h0m-4 1h0m-9 1h0m4 8h0m-1 2h0m13 2h0m-18 9h0m15 16h0m-26 8h0m11 13h0m-3 0h0m23 0h0m-34 3h0m33 12h0m-29 19h0m29 44h0m-14 7h0m-17 14h0m29 3h0m-21 2h0m-6 7h0m27 0h0m-10 2h0m3 8h0m-18 8h0m31 7h0m-9 17h0m-10 5h0m8 4h0m39-657h0m-3 57h0m3 28h0m2 28h0m-19 137h0m3 10h0m-6 12h0m13 4h0m12 11h0m-30 28h0m38 13h0m-20 23h0m15 19h0m-22 5h0m-5 12h0m17 30h0m-6 2h0m-10 1h0m28 0h0m-19 8h0m18 11h0m1 5h0m-18 9h0m-12 7h0m2 31h0m26 12h0m-14 33h0m1 3h0m-8 3h0m-11 2h0m-1 31h0m19 5h0m13 1h0m-15 20h0m0 2h0m-15 10h0m2 13h0m1 0h0m-5 27h0m29 2h0m-7 2h0m-22 1h0m44-411h0m2 44h0m-1 43h0m-2 4h0m1 35h0m2 6h0m-5 68h0m5 36h0m0 15h0m0 23h0m-5 60h0m-1 31h0m4 42h0m233-357h0m0 352h0m36-1055h0m-2 355h0m-4 44h0m7 6h0m-3 50h0m0 50h0m0 24h0m3 14h0m-1 9h0m-5 10h0m8 16h0m-14 2h0m-7 12h0m19 1h0m1 17h0m-8 21h0m-2 13h0m6 0h0m-22 12h0m19 1h0m-14 14h0m24 8h0m-21 14h0m11 13h0m5 23h0m-16 1h0m19 5h0m-7 1h0m-7 4h0m5 5h0m-24 7h0m22 17h0m5 1h0m-12 21h0m16 1h0m1 9h0m-20 31h0m21 7h0m-5 11h0m8 0h0m-17 5h0m-11 5h0m-10 0h0m9 1h0m-1 12h0m-1 15h0m27 0h0m-32 1h0m35 22h0m1 20h0m-22 19h0m17 7h0m-24 6h0m10 13h0m-18 1h0m27 14h0m5 13h0m-16 3h0m10 7h0m-10 6h0m11 0h0m-18 10h0m-9 13h0m7 3h0m0 1h0m15 8h0m-22 0h0m7 3h0m7 1h0m19 1h0m8-770h0m36 89h0m0 169h0m0 10h0m-27 31h0m6 9h0m19 2h0m-27 1h0m2 1h0m-5 24h0m30 0h0m1 0h0m-2 20h0m-15 20h0m-16 8h0m15 15h0m19 1h0m-24 22h0m2 20h0m12 2h0m-25 5h0m30 2h0m-33 1h0m27 18h0m-8 16h0m-8 9h0m-12 27h0m15 5h0m2 30h0m5 4h0m-12 33h0m23 12h0m-33 39h0m28 15h0m-13 3h0m-8 2h0m6 8h0m8 24h0m-4 12h0m10 33h0m1 12h0m-3 12h0m-19 4h0m22 1h0m47-906h0m3 107h0m-31 53h0m-5 89h0m34 48h0m-35 26h0m-1 24h0m5 2h0m-5 10h0m8 9h0m-7 3h0m2 3h0m-2 5h0m7 3h0m-5 6h0m-3 9h0m6 1h0m-1 2h0m0 3h0m-3 1h0m4 6h0m2 0h0m0 4h0m15 2h0m7 11h0m-29 0h0m-1 3h0m31 15h0m3 5h0m-17 11h0m-17 5h0m25 28h0m-24 4h0m29 0h0m-28 14h0m23 6h0m6 28h0m-30 11h0m5 5h0m-4 7h0m1 10h0m0 8h0m15 3h0m9 16h0m-22 21h0m-1 3h0m-2 15h0m22 1h0m11 1h0m-27 16h0m-7 23h0m0 6h0m4 13h0m-3 10h0m6 5h0m27 10h0m-24 4h0m-10 4h0m4 4h0m0 25h0m16 12h0m-20 2h0m3 9h0m25 2h0m-8 1h0m-13 3h0m13 6h0m-19 1h0m6 0h0m17 20h0m-10 1h0m5 3h0m-13 7h0m30 0h0m-37 1h0m22 1h0m-16 3h0m19 4h0m-5 9h0m18 3h0m-38 30h0m18 2h0m19 4h0m-29 1h0m-5 8h0m29 5h0m-22 1h0m31-1353h0m21 587h0m-1 265h0m3 7h0m2 7h0m-13 28h0m12 1h0m13 10h0m-17 11h0m-6 4h0m8 10h0m9 12h0m-5 1h0m-4 15h0m0 8h0m7 3h0m-17 18h0m10 1h0m12 1h0m-17 11h0m20 5h0m-10 5h0m-19 2h0m8 14h0m-6 3h0m18 20h0m-11 8h0m16 6h0m-26 28h0m19 6h0m-4 48h0m-9 6h0m6 4h0m10 12h0m1 2h0m-31 13h0m5 11h0m24 13h0m-16 12h0m2 4h0m5 1h0m-1 2h0m19 4h0m-33 19h0m1 9h0m26 5h0m0 14h0m-8 5h0m-23 2h0m23 2h0m-5 8h0m7 2h0m5 6h0m-12 13h0m-10 20h0m4 7h0m1 5h0m22 0h0m27-809h0m-17 124h0m4 126h0m28 3h0m-32 15h0m1 24h0m-1 9h0m-2 20h0m17 22h0m-13 7h0m9 16h0m-5 7h0m3 11h0m-3 0h0m-5 1h0m-3 9h0m10 6h0m-9 4h0m27 9h0m-3 3h0m-22 10h0m16 10h0m1 14h0m5 22h0m-22 3h0m27 5h0m4 4h0m-11 9h0m4 7h0m-22 2h0m29 3h0m-10 1h0m-17 3h0m23 11h0m-23 8h0m25 48h0m-16 42h0m13 8h0m-33 6h0m15 35h0m23 10h0m-16 15h0m-2 2h0m-16 1h0m-1 14h0m35 9h0m-5 15h0m-23 17h0m7 11h0m20 5h0m-6 2h0m4 9h0m-29 27h0m-6 3h0m18 10h0m-12 0h0m222-817h0m6 443h0m0 146h0m1 159h0m0 9h0m-1 12h0m2 20h0m3 20h0m-4 2h0m14-797h0m6 3h0m-1 19h0m2 61h0m1 33h0m-4 19h0m-4 13h0m8 71h0m-6 7h0m-2 8h0m8 13h0m-3 42h0m-3 17h0m1 13h0m4 10h0m0 13h0m-1 26h0m-1 20h0m0 6h0m0 3h0m3 4h0m-2 12h0m-2 1h0m5 10h0m-2 11h0m-4 4h0m2 7h0m-5 7h0m1 4h0m1 3h0m-2 14h0m18 0h0m-19 3h0m-7 0h0m22 3h0m-17 5h0m-3 6h0m28 1h0m-15 12h0m23 6h0m-15 3h0m4 3h0m-17 0h0m0 10h0m4 12h0m-7 6h0m4 8h0m-11 9h0m3 12h0m28 23h0m-32 4h0m34 6h0m-18 3h0m-7 10h0m12 27h0m-8 10h0m6 15h0m16 5h0m-26 17h0m18 12h0m-9 8h0m5 4h0m-7 2h0m5 19h0m-4 16h0m-6 20h0m5 5h0m13 5h0m2 2h0m-23 0h0m8 7h0m5 5h0m41-1656h0m-16 607h0m0 65h0m-4 254h0m26 95h0m-7 27h0m2 24h0m2 88h0m-3 9h0m10 14h0m-7 30h0m2 9h0m-7 23h0m2 2h0m6 14h0m0 7h0m-9 33h0m6 11h0m-11 7h0m8 6h0m-12 29h0m14 2h0m12 15h0m2 8h0m-29 12h0m-5 25h0m19 7h0m0 19h0m1 19h0m7 7h0m-10 1h0m9 9h0m-25 4h0m1 7h0m16 8h0m7 4h0m-4 2h0m14 5h0m-26 35h0m12 0h0m-7 15h0m-9 24h0m18 26h0m-13 8h0m1 3h0m3 8h0m10 14h0m-28 11h0m3 3h0m-2 2h0m24 4h0m38-899h0m-16 353h0m12 209h0m-13 6h0m24 3h0m8 6h0m-2 0h0m-34 30h0m26 13h0m-24 2h0m11 10h0m22 1h0m-2 12h0m-23 8h0m11 7h0m-8 47h0m7 0h0m-15 5h0m12 19h0m9 4h0m5 20h0m-23 1h0m4 0h0m25 2h0m-17 4h0m15 3h0m-14 12h0m10 2h0m-15 10h0m12 16h0m-20 6h0m22 3h0m-10 1h0m7 6h0m-16 14h0m-9 22h0m14 9h0m8 3h0m-21 3h0m-1 10h0m25 10h0m-22 1h0m24 7h0m25-1539h0m-3 5h0m0 28h0m3 0h0m3 259h0m0 85h0m-3 312h0m-13 77h0m0 361h0m0 0h0m-2 21h0m26 22h0m-16 32h0m8 1h0m10 6h0m-29 3h0m4 24h0m11 1h0m-7 15h0m10 9h0m-3 25h0m-12 11h0m28 18h0m-7 7h0m-2 43h0m-19 10h0m28 21h0m0 2h0m-30 6h0m30 5h0m-16 13h0m8 19h0m-1 4h0m9 7h0m-10 63h0m10 4h0m-11 0h0m11 17h0m-20 5h0m190-2246h0m17 1320h0m-17 213h0m32 42h0m4 58h0m0 5h0m-3 25h0m0 22h0m4 19h0m-6 59h0m7 57h0m-7 5h0m-7 10h0m14 4h0m-7 2h0m0 8h0m1 23h0m2 13h0m-20 2h0m24 23h0m-33 14h0m-4 1h0m14 1h0m16 0h0m-23 24h0m25 3h0m-5 3h0m-27 27h0m37 2h0m-32 52h0m13 3h0m-18 0h0m15 6h0m-9 5h0m9 3h0m-13 2h0m29 22h0m-7 3h0m-1 3h0m12 15h0m-30 6h0m30 19h0m-21 4h0m23 36h0m-27 5h0m20 4h0m-25 18h0m2 27h0m18 7h0m-20 11h0m22 3h0m-21 1h0m40-1361h0m2 179h0m0 155h0m25 131h0m-8 188h0m-2 154h0m-8 12h0m5 10h0m-2 18h0m-1 28h0m7 1h0m-6 27h0m-3 28h0m8 6h0m-8 22h0m-1 28h0m-3 12h0m-13 3h0m23 10h0m-4 3h0m1 28h0m-4 23h0m5 5h0m-2 28h0m-11 11h0m-4 1h0m4 3h0m14 2h0m-16 6h0m-5 3h0m11 10h0m4 20h0m20 13h0m-21 15h0m-3 24h0m3 4h0m15 12h0m5 10h0m-17 6h0m-10 1h0m16 2h0m-15 1h0m21 1h0m5 10h0m-22 2h0m6 11h0m11 12h0m-12 16h0m6 18h0m3 9h0m-4 1h0m-20 15h0m16 7h0m-11 2h0m-8 0h0m20 2h0m0 2h0m9 6h0m-4 6h0m10 0h0m-2 2h0m-22 1h0m32-2291h0m5 489h0m0 90h0m0 126h0m-8 213h0m0 28h0m0 28h0m5 28h0m-1 28h0m7 229h0m-8 58h0m31 245h0m-23 58h0m23 97h0m0 63h0m-3 72h0m-2 5h0m5 7h0m0 19h0m0 36h0m0 11h0m-2 11h0m2 5h0m-10 3h0m-12 10h0m5 2h0m17 3h0m-25 7h0m1 12h0m17 1h0m-21 0h0m28 29h0m-14 0h0m0 7h0m14 27h0m0 1h0m-4 13h0m-24 8h0m28 18h0m-8 15h0m8 0h0m-28 1h0m19 2h0m-19 9h0m28 5h0m-21 15h0m21 4h0m-9 1h0m-21 0h0m25 1h0m4 14h0m1 7h0m-9 2h0m-19 3h0m27 5h0m-28 30h0m2 0h0m24 6h0m-8 3h0m7 6h0m-5 3h0m9 7h0m0 3h0m-2 5h0m-23 8h0m18 7h0m-1 15h0m-18 16h0m7 3h0m159-711h0m0 120h0m0 2h0m0 20h0m1 53h0m12 2h0m-9 15h0m-4 7h0m5 1h0m-1 3h0m-2 20h0m-2 1h0m4 8h0m-3 0h0m0 9h0m-1 1h0m0 7h0m10 3h0m15 15h0m-24 2h0m14 32h0m-14 1h0m-1 5h0m16 9h0m-16 0h0m7 4h0m5 4h0m-4 11h0m-8 11h0m0 10h0m2 13h0m9 5h0m2 15h0m-13 12h0m0 20h0m3 5h0m0 8h0m18 23h0m-15 7h0m9 8h0m8 9h0m-21 1h0m2 16h0m18 0h0m-17 19h0m11 9h0m8 23h0m-22 48h0m8 6h0m10 0h0m5 11h0m-6 30h0m4 12h0m-21 4h0m0 6h0m3 7h0m-4 0h0m1 8h0m3 7h0m-4 5h0m45-1231h0m0 91h0m4 147h0m-16 66h0m25 49h0m-17 113h0m2 28h0m1 56h0m2 28h0m-4 28h0m2 56h0m-2 28h0m4 28h0m2 49h0m-1 7h0m-9 5h0m-12 16h0m16 7h0m13 19h0m-10 9h0m15 6h0m-5 1h0m-13 21h0m-4 10h0m10 18h0m-2 28h0m11 5h0m-29 9h0m8 2h0m-6 1h0m34 7h0m-34 4h0m14 2h0m0 0h0m11 5h0m-25 2h0m15 19h0m-1 28h0m9 0h0m-9 28h0m-3 28h0m11 20h0m-5 8h0m-4 2h0m-4 2h0m14 11h0m-12 13h0m15 13h0m-14 2h0m19 4h0m-13 9h0m-2 41h0m-10 7h0m15 1h0m-10 7h0m17 8h0m4 7h0m-37 4h0m6 3h0m15 6h0m2 5h0m-22 4h0m0 5h0m41-526h0m15 22h0m6 59h0m0 21h0m-4 34h0m-13 1h0m7 3h0m5 4h0m-13 17h0m12 8h0m-6 27h0m12 24h0m-6 7h0m6 1h0m-13 1h0m10 9h0m3 17h0m-11 6h0m-12 1h0m9 41h0m5 15h0m9 10h0m-16 18h0m8 16h0m5 2h0m-14 8h0m4 15h0m13 19h0m-13 46h0m-5 1h0m18 3h0m0 8h0m0 8h0m-12 18h0m12 6h0m-14 7h0m10 5h0m-8 6h0m-6 3h0m9 10h0" stroke="#FF0000" stroke-width="47" stroke-linecap="round" fill="none"/>
<path transform="scale(.1)" d="M1145 8950h0m2 545h0m0 35h0m-12 41h0m0 94h0m24 199h0m-24 30h0m-8 16h0m20 89h0m-19 14h0m-5 19h0m1 1h0m0 19h0m5 15h0m-4 10h0m0 28h0m3 8h0m-1 12h0m-5 1h0m1 1h0m1 4h0m0 78h0m0 1h0m1 20h0m-3 0h0m0 4h0m3 5h0m21 9h0m-17 12h0m8 9h0m-10 17h0m3 12h0m-9 4h0m5 1h0m1 5h0m3 2h0m-9 14h0m29 7h0m-29 7h0m4 1h0m10 5h0m-9 13h0m5 3h0m18 5h0m-23 6h0m-5 11h0m32 16h0m-32 2h0m38 17h0m-13 6h0m10 1h0m-7 11h0m6 3h0m-25 1h0m18 9h0m-22 3h0m49-500h0m19 95h0m-27 48h0m0 46h0m2 22h0m11 4h0m-11 21h0m-1 17h0m7 20h0m-1 5h0m-1 10h0m-7 8h0m32 13h0m-14 3h0m7 2h0m1 3h0m-6 3h0m7 9h0m-24 7h0m23 1h0m3 10h0m-4 8h0m-25 20h0m4 0h0m28 3h0m-38 3h0m26 31h0m-13 2h0m14 29h0m-21 1h0m33 10h0m-10 9h0m-11 20h0m4 9h0m10 0h0m-22 7h0m10 3h0m38-595h0m17 106h0m-12 35h0m0 48h0m-20 78h0m5 104h0m-1 20h0m-1 4h0m14 12h0m16 17h0m-8 25h0m-10 31h0m20 6h0m-34 21h0m35 1h0m-29 16h0m-10 0h0m21 1h0m-1 2h0m6 7h0m-11 9h0m-7 20h0m28 22h0m-22 8h0m30-319h0m23 115h0m11 2h0m-8 3h0m-6 41h0m-21 12h0m36 4h0m-9 4h0m-16 54h0m21 18h0m-13 16h0m0 2h0m-3 0h0m-12 7h0m20 5h0m-11 1h0m-8 3h0m30 0h0m-5 13h0m-6 0h0m-9 11h0m-9 4h0m58-984h0m-13 3h0m19 156h0m-3 28h0m1 28h0m3 28h0m-1 28h0m-3 28h0m-1 28h0m-19 152h0m2 37h0m-11 42h0m13 48h0m-5 19h0m7 30h0m-3 4h0m-1 24h0m-2 14h0m8 4h0m-8 2h0m6 12h0m-5 5h0m-1 1h0m-7 2h0m7 18h0m0 3h0m2 5h0m4 0h0m1 7h0m-5 16h0m3 0h0m-8 3h0m3 1h0m0 3h0m-1 7h0m23 22h0m-20 7h0m-4 7h0m3 3h0m-2 0h0m6 5h0m-1 2h0m0 8h0m-1 26h0m-2 9h0m1 2h0m23 5h0m-6 26h0m-19 5h0m-7 15h0m3 11h0m23 20h0m0 1h0m-16 6h0m-1 4h0m-12 16h0m22 1h0m-12 3h0m65-680h0m-15 107h0m0 30h0m0 30h0m3 2h0m0 61h0m0 54h0m2 63h0m-6 60h0m6 16h0m-6 24h0m-10 1h0m16 13h0m-7 8h0m-11 7h0m5 18h0m-2 2h0m14 5h0m-23 0h0m12 33h0m12 4h0m0 45h0m0 7h0m-5 11h0m-5 19h0m23 1h0m-34 7h0m21 21h0m-1 12h0m-20 20h0m75-954h0m-26 65h0m12 106h0m1 11h0m3 60h0m3 93h0m-1 60h0m-20 72h0m19 12h0m1 3h0m-8 13h0m0 15h0m4 61h0m4 8h0m-8 39h0m2 25h0m3 28h0m-5 3h0m8 0h0m-4 5h0m4 0h0m-8 5h0m6 2h0m-4 3h0m6 2h0m-3 13h0m-3 1h0m0 5h0m-1 2h0m1 20h0m4 9h0m-5 4h0m3 1h0m-3 6h0m2 17h0m-21 8h0m4 2h0m16 12h0m-14 0h0m17 25h0m-11 4h0m-3 4h0m22 7h0m-15 0h0m14 1h0m-7 1h0m4 1h0m-2 13h0m-3 24h0m-11 3h0m22 4h0m-35 4h0m11 10h0m13 11h0m-26 2h0m28 1h0m-25 3h0m29 35h0m-1 3h0m-10 2h0m-22 2h0m50-1054h0m-6 75h0m13 115h0m-7 263h0m3 7h0m-10 0h0m10 147h0m-5 8h0m2 36h0m-3 17h0m5 40h0m2 8h0m-6 25h0m1 35h0m2 4h0m1 6h0m-2 36h0m1 2h0m1 8h0m2 22h0m1 1h0m0 5h0m-1 8h0m0 2h0m-5 4h0m27 13h0m-28 0h0m-4 14h0m15 1h0m-15 6h0m13 8h0m18 4h0m0 5h0m-21 14h0m19 4h0m-24 8h0m29 7h0m-30 8h0m12 19h0m13 5h0m-25 1h0m16 2h0m11 10h0m-26 23h0m-5 19h0m22 2h0m42-1546h0m7 455h0m-19 171h0m-2 80h0m4 63h0m4 70h0m-3 46h0m1 11h0m2 2h0m-3 26h0m-3 66h0m-3 5h0m17 25h0m-18 9h0m5 27h0m5 40h0m-6 5h0m-14 22h0m2 44h0m13 50h0m3 12h0m-4 1h0m4 6h0m-2 2h0m-4 1h0m-3 2h0m4 7h0m6 13h0m-4 13h0m2 5h0m3 6h0m-9 27h0m3 1h0m-4 0h0m8 4h0m-8 8h0m5 28h0m2 1h0m0 3h0m-5 6h0m2 21h0m-13 0h0m26 18h0m-14 4h0m3 6h0m11 5h0m-10 6h0m7 1h0m-15 4h0m17 1h0m-22 20h0m11 12h0m-5 8h0m9 2h0m-8 20h0m-5 7h0m11 0h0m5 11h0m-4 5h0m-5 1h0m22 14h0m-30 7h0m8 10h0m7 1h0m8 1h0m-22 6h0m14 1h0m42-837h0m-4 76h0m0 296h0m1 29h0m-21 110h0m10 9h0m16 101h0m7 30h0m-22 12h0m10 2h0m-4 2h0m8 36h0m-6 3h0m7 3h0m2 18h0m-8 3h0m-8 8h0m-5 34h0m17 14h0m7 4h0m-12 10h0m16 12h0m-1 23h0m-22 2h0m42-866h0m21 596h0m-12 16h0m9 34h0m-22 5h0m22 24h0m-12 35h0m-4 11h0m-12 18h0m4 19h0m-3 20h0m34 5h0m-21 8h0m20 3h0m-25 2h0m6 9h0m16 1h0m-26 6h0m26 6h0m-23 7h0m6 18h0m7 3h0m-18 3h0m9 8h0m22 3h0m30-787h0m-2 17h0m-9 56h0m13 157h0m-7 93h0m3 57h0m-16 34h0m18 25h0m-19 8h0m18 29h0m2 7h0m0 11h0m-13 26h0m8 5h0m-2 2h0m5 15h0m10 6h0m-13 40h0m4 2h0m-6 9h0m14 56h0m-11 0h0m-14 13h0m22 6h0m-29 8h0m24 6h0m-6 4h0m-8 5h0m-6 15h0m25 2h0m-30 4h0m21 4h0m-19 51h0m15 20h0m44-1652h0m0 250h0m0 215h0m-19 120h0m4 28h0m-5 28h0m6 28h0m1 535h0m0 99h0m-4 14h0m1 56h0m0 33h0m2 123h0m-10 34h0m11 30h0m-10 27h0m0 15h0m10 6h0m-9 2h0m429-583h0m0 90h0m3 97h0m-5 99h0m2 80h0m5 0h0m-7 120h0m0 18h0m6 43h0m-6 11h0m5 24h0m0 8h0m25-1171h0m-14 132h0m2 270h0m13 93h0m19 312h0m-12 50h0m-27 53h0m11 5h0m17 54h0m5 39h0m-15 12h0m3 0h0m18 28h0m-16 14h0m2 1h0m-19 16h0m15 4h0m-19 1h0m19 2h0m7 10h0m11 6h0m-20 1h0m0 10h0m3 4h0m-8 0h0m0 3h0m12 5h0m-3 3h0m-22 13h0m0 4h0m32 11h0m-19 6h0m9 1h0m16 2h0m-1 7h0m-22 1h0m32-1282h0m-3 659h0m15 50h0m-8 57h0m-7 7h0m-2 25h0m27 16h0m-23 89h0m-3 11h0m-4 49h0m3 13h0m1 40h0m-1 27h0m22 14h0m-6 7h0m1 6h0m-8 7h0m19 5h0m2 8h0m-21 4h0m22 0h0m-17 9h0m17 15h0m-29 29h0m2 3h0m26 2h0m-32 11h0m32 11h0m-20 24h0m-11 16h0m2 8h0m1 0h0m-4 3h0m2 3h0m5 5h0m1 9h0m24 4h0m-19 7h0m-8 3h0m27 1h0m-27 5h0m14 9h0m-19 9h0m7 1h0m52-677h0m0 119h0m-4 187h0m6 0h0m-9 38h0m7 6h0m1 17h0m-6 5h0m15 10h0m7 11h0m-24 10h0m-11 6h0m33 6h0m-19 3h0m0 1h0m21 21h0m-25 4h0m-4 17h0m18 4h0m-11 11h0m-12 1h0m23 12h0m-9 2h0m-17 6h0m12 1h0m3 5h0m9 3h0m15 1h0m-3 4h0m-30 4h0m6 20h0m22 18h0m-2 12h0m-29 27h0m13 8h0m6 9h0m-5 11h0m-4 10h0m0 4h0m0 24h0m26 8h0m-15 6h0m-22 3h0m61-2063h0m12 1108h0m-12 5h0m-5 515h0m1 12h0m-15 67h0m34 20h0m-17 4h0m-7 17h0m18 22h0m-16 13h0m-14 23h0m15 22h0m-8 0h0m30 11h0m-28 6h0m24 2h0m-15 3h0m11 35h0m-26 5h0m0 4h0m5 11h0m1 10h0m22 7h0m-13 6h0m-10 28h0m-6 1h0m35 3h0m-31 4h0m-7 2h0m36 1h0m-5 2h0m-18 47h0m6 4h0m15 9h0m-6 23h0m-26 1h0m11 3h0m14 5h0m-17 1h0m-5 1h0m46-1410h0m0 20h0m2 16h0m20 204h0m0 30h0m-25 30h0m16 130h0m-5 15h0m-15 102h0m0 29h0m3 75h0m-4 28h0m3 84h0m1 28h0m-4 28h0m2 28h0m2 28h0m-5 28h0m-1 28h0m15 24h0m-16 4h0m23 2h0m-5 47h0m-2 66h0m10 36h0m-10 23h0m4 3h0m2 5h0m12 67h0m-23 3h0m0 2h0m6 16h0m7 0h0m-3 6h0m-5 34h0m-11 6h0m19 2h0m7 7h0m-1 30h0m-31 14h0m24 5h0m1 5h0m-3 12h0m-4 14h0m-14 6h0m-3 1h0m35 8h0m-13 6h0m-4 4h0m-9 15h0m22 3h0m46-670h0m1 18h0m-2 28h0m-27 153h0m10 11h0m19 44h0m-28 5h0m27 22h0m-24 58h0m21 18h0m-6 20h0m-19 1h0m5 12h0m-3 16h0m0 6h0m15 19h0m11 2h0m-4 3h0m-11 9h0m1 0h0m2 47h0m4 2h0m5 13h0m-21 8h0m-10 6h0m9 8h0m6 0h0m4 8h0m10 12h0m-7 7h0m2 29h0m-20 9h0m14 13h0m-18 10h0m7 1h0m23 0h0m-21 25h0m-9 2h0m20 11h0m-6 2h0m18 7h0m-12 6h0m-10 0h0m21 1h0m2 1h0m4-683h0m23 112h0m7 80h0m-5 1h0m4 40h0m-3 3h0m4 30h0m-3 20h0m-24 37h0m21 15h0m-2 2h0m7 3h0m-2 1h0m-3 11h0m7 6h0m-23 16h0m20 9h0m-29 2h0m30 0h0m-25 1h0m26 0h0m-6 8h0m-22 1h0m1 5h0m27 2h0m-2 1h0m6 3h0m-33 5h0m23 1h0m-2 3h0m4 3h0m-9 22h0m11 7h0m-1 2h0m-21 5h0m7 8h0m-8 5h0m26 17h0m-2 2h0m0 5h0m-23 4h0m-2 23h0m27 3h0m-28 11h0m21 4h0m3 2h0m-25 0h0m2 4h0m-2 2h0m29 3h0m-6 6h0m-5 3h0m2 26h0m11 24h0m-7 10h0m4 4h0m-26 7h0m19 7h0m6 3h0m-8 0h0m-22 2h0m23 6h0m-1 4h0m8 3h0m-7 16h0m8 5h0m-29 2h0m-2 5h0m18 1h0m53-1087h0m-7 2h0m6 189h0m1 0h0m5 131h0m3 28h0m-3 28h0m-1 28h0m2 28h0m-1 28h0m-3 28h0m2 28h0m-3 28h0m-19 94h0m-8 132h0m0 25h0m14 33h0m18 15h0m-6 14h0m-17 41h0m4 9h0m-10 3h0m4 19h0m6 21h0m3 21h0m16 11h0m-15 27h0m-8 5h0m-10 3h0m27 5h0m4 6h0m-32 9h0m13 1h0m23 13h0m-26 13h0m13 10h0m-4 5h0m-22 0h0m75-1544h0m0 306h0m-28 875h0m-4 94h0m-1 12h0m9 9h0m-9 2h0m35 10h0m-34 12h0m30 6h0m-12 5h0m16 17h0m-35 1h0m18 24h0m16 8h0m-33 3h0m26 10h0m-19 2h0m27 11h0m-16 7h0m-3 4h0m17 18h0m-29 17h0m7 23h0m-10 4h0m9 22h0m18 22h0m-30 2h0m4 17h0m17 5h0m5 1h0m29-1265h0m-3 942h0m0 158h0m-6 16h0m-5 0h0m3 11h0m8 42h0m0 29h0m-11 23h0m7 40h0m385-1596h0m1 1315h0m2 62h0m3 42h0m-5 46h0m5 132h0m-2 1h0m21-1277h0m-1 111h0m3 28h0m9 349h0m-5 156h0m5 97h0m-3 4h0m0 19h0m-1 34h0m5 13h0m-22 142h0m16 17h0m3 46h0m5 14h0m-1 1h0m-8 15h0m9 13h0m-7 12h0m2 32h0m3 36h0m-2 5h0m-23 29h0m20 5h0m-15 0h0m19 15h0m-24 24h0m2 10h0m17 23h0m-1 0h0m1 2h0m-3 3h0m15 3h0m-8 14h0m-7 1h0m7 6h0m34-980h0m-8 49h0m24 265h0m-9 26h0m8 95h0m0 45h0m2 33h0m-3 6h0m-4 66h0m6 23h0m-19 25h0m4 36h0m11 42h0m-8 58h0m-12 41h0m12 32h0m-7 15h0m-17 15h0m19 8h0m3 2h0m12 7h0m-2 22h0m1 10h0m-13 3h0m-9 24h0m26 2h0m0 0h0m-33 2h0m11 3h0m-2 6h0m3 9h0m7 4h0m-22 0h0m24 2h0m21-441h0m25 136h0m-11 79h0m12 26h0m-6 44h0m-3 29h0m12 22h0m-24 3h0m26 14h0m-34 9h0m-1 6h0m-3 4h0m24 4h0m-3 9h0m-20 16h0m36 4h0m-27 4h0m11 5h0m14 5h0m-27 15h0m-2 7h0m-5 3h0m27 0h0m22-689h0m22 20h0m-2 8h0m5 2h0m-5 46h0m5 181h0m-4 32h0m-19 10h0m26 22h0m-6 8h0m-7 19h0m-8 24h0m15 20h0m-16 9h0m17 34h0m-24 5h0m5 14h0m17 2h0m5 1h0m-6 30h0m-19 23h0m19 5h0m6 2h0m-13 2h0m8 7h0m-11 6h0m6 3h0m-4 4h0m6 11h0m8 11h0m-19 8h0m-11 1h0m20 5h0m7 20h0m-11 2h0m-2 13h0m-1 10h0m-4 2h0m13 1h0m7 64h0m-3 5h0m-22 1h0m16 1h0m22-1324h0m10 158h0m-15 202h0m0 38h0m3 384h0m13 42h0m3 108h0m-23 44h0m28 115h0m-21 44h0m21 14h0m-28 6h0m10 21h0m17 3h0m-14 14h0m-1 11h0m1 55h0m-5 14h0m19 3h0m-10 19h0m-13 11h0m28 4h0m-30 1h0m13 5h0m22 0h0m-33 7h0m39-1556h0m2 28h0m1 28h0m-3 28h0m20 714h0m1 160h0m-2 2h0m6 26h0m-5 29h0m3 6h0m-4 89h0m8 33h0m-6 12h0m0 2h0m-2 18h0m6 6h0m-5 17h0m4 2h0m-5 58h0m2 11h0m6 1h0m7 0h0m-7 6h0m-8 1h0m1 15h0m-17 10h0m21 26h0m-4 2h0m3 2h0m0 2h0m2 12h0m-5 2h0m-22 13h0m24 11h0m-2 8h0m-21 17h0m29 36h0m2 4h0m-25 2h0m23 2h0m-28 1h0m28 2h0m-24 4h0m25 7h0m2 3h0m-32 6h0m23 6h0m-12 23h0m-10 8h0m17 2h0m3 14h0m1 7h0m-14 1h0m22 5h0m-20 1h0m7 20h0m6 1h0m22-1256h0m0 138h0m25 361h0m-20 181h0m18 29h0m-24 37h0m2 2h0m5 36h0m0 11h0m-13 27h0m8 9h0m28 33h0m-21 18h0m22 4h0m-4 5h0m-1 2h0m-18 15h0m21 5h0m-28 3h0m-3 2h0m28 18h0m-19 2h0m-9 8h0m26 7h0m9 15h0m-7 11h0m3 3h0m-2 3h0m1 11h0m-1 9h0m-21 4h0m-5 0h0m-1 2h0m2 0h0m23 3h0m1 12h0m-22 6h0m29 1h0m-26 3h0m0 6h0m18 4h0m7 7h0m-32 9h0m9 3h0m-7 3h0m6 5h0m25 1h0m-2 6h0m-4 8h0m5 4h0m0 5h0m-19 24h0m-5 5h0m-14 3h0m1 4h0m12 12h0m-2 6h0m23 4h0m-14 8h0m10 3h0m-19 16h0m0 0h0m23 2h0m5 16h0m-39 0h0m22 1h0m16 4h0m-9 12h0m8 4h0m0 16h0m-1 3h0m-13 13h0m-22 0h0m32 7h0m30-1073h0m-15 120h0m0 28h0m27 39h0m-10 109h0m2 42h0m5 29h0m-2 53h0m-4 17h0m2 42h0m3 37h0m-2 38h0m-6 12h0m5 61h0m4 28h0m-3 83h0m-6 25h0m3 0h0m-1 2h0m-8 16h0m12 4h0m-5 7h0m8 9h0m-8 4h0m8 9h0m-9 42h0m8 6h0m-31 3h0m24 4h0m-24 13h0m32 7h0m-3 5h0m-2 7h0m3 2h0m-21 13h0m10 3h0m8 14h0m8 19h0m-1 14h0m5 11h0m-14 5h0m0 0h0m7 14h0m-21 10h0m14 1h0m-10 2h0m-8 1h0m21 1h0m3 14h0m-9 20h0m3 4h0m2 9h0m0 7h0m10 2h0m-2 4h0m-30 2h0m52-217h0m-9 63h0m9 14h0m0 1h0m-16 61h0m14 26h0m-6 51h0m343-1646h0m0 241h0m0 284h0m6 801h0m-1 88h0m-3 31h0m0 56h0m3 11h0m-2 79h0m-1 2h0m1 0h0m2 39h0m2 11h0m14-743h0m5 6h0m4 94h0m0 15h0m2 120h0m1 5h0m-6 6h0m2 8h0m-4 1h0m7 5h0m-1 23h0m-5 22h0m2 29h0m1 7h0m1 4h0m1 1h0m2 1h0m-2 13h0m-7 11h0m-1 3h0m8 6h0m-18 29h0m18 2h0m-11 7h0m5 8h0m5 1h0m-3 7h0m-14 31h0m2 6h0m-7 23h0m18 2h0m-15 2h0m18 4h0m13 5h0m-34 2h0m37 9h0m2 5h0m-14 8h0m-8 1h0m-17 12h0m35 8h0m-16 6h0m7 2h0m-5 5h0m8 1h0m-13 2h0m-5 2h0m10 7h0m-1 34h0m3 7h0m-6 26h0m8 9h0m6 1h0m0 3h0m-13 3h0m-5 2h0m13 5h0m-6 21h0m-5 3h0m-2 2h0m-12 4h0m27 11h0m-8 6h0m-10 3h0m-7 17h0m18 3h0m10 7h0m0 1h0m27-1162h0m1 28h0m3 28h0m0 28h0m-6 56h0m2 28h0m1 28h0m13 213h0m-1 36h0m-1 53h0m4 2h0m0 30h0m-9 15h0m-1 0h0m5 45h0m2 34h0m-4 17h0m6 1h0m-4 11h0m4 1h0m-3 36h0m-5 4h0m8 11h0m-8 15h0m4 8h0m3 7h0m1 47h0m-3 2h0m-12 21h0m19 8h0m-12 4h0m10 4h0m-30 3h0m28 19h0m-11 38h0m6 11h0m10 21h0m-36 10h0m36 3h0m-6 12h0m-5 13h0m-8 15h0m15 5h0m-9 11h0m-9 4h0m-1 2h0m-10 24h0m15 3h0m3 3h0m8 8h0m-30 9h0m20 26h0m15 6h0m-3 5h0m-4 7h0m-4 8h0m-18 5h0m27 2h0m-16 5h0m14 19h0m-12 11h0m10 4h0m-27 21h0m22 10h0m41-687h0m9 24h0m-3 90h0m1 41h0m-6 45h0m-1 16h0m2 12h0m5 8h0m-4 34h0m3 30h0m-5 14h0m-1 7h0m5 4h0m-4 1h0m-21 43h0m11 10h0m18 6h0m-33 2h0m7 18h0m2 42h0m10 2h0m10 3h0m-31 14h0m29 0h0m-10 6h0m-6 1h0m21 2h0m-12 8h0m-4 46h0m-3 5h0m7 2h0m6 11h0m-14 10h0m-4 7h0m22 7h0m-11 16h0m13 2h0m-13 27h0m10 7h0m-23 17h0m2 0h0m15 14h0m4 24h0m-22 1h0m57-686h0m-5 148h0m5 142h0m-17 36h0m2 1h0m1 5h0m16 57h0m-23 7h0m0 9h0m-3 17h0m16 10h0m11 12h0m-24 0h0m26 5h0m-19 39h0m9 7h0m-6 3h0m18 0h0m-11 0h0m17 10h0m-27 7h0m-6 3h0m3 5h0m12 3h0m-6 6h0m10 6h0m-9 1h0m11 71h0m-24 3h0m32 11h0m-1 4h0m4 3h0m3 12h0m-15 19h0m-15 6h0m-9 13h0m33 3h0m-6 6h0m-16 3h0m62-931h0m-29 66h0m19 137h0m4 14h0m2 93h0m-6 52h0m-17 17h0m2 18h0m16 4h0m2 34h0m-1 2h0m6 17h0m-7 26h0m3 32h0m3 0h0m-9 44h0m5 0h0m-13 21h0m24 10h0m-21 21h0m11 0h0m-13 20h0m-5 11h0m17 15h0m4 13h0m1 14h0m-22 23h0m14 23h0m5 2h0m5 0h0m-30 3h0m12 22h0m0 4h0m22 6h0m-5 22h0m-2 8h0m-9 4h0m-19 20h0m10 9h0m22 5h0m-2 3h0m-7 5h0m-17 23h0m4 13h0m15 10h0m2 4h0m-4 2h0m9 9h0m-13 4h0m0 2h0m17 13h0m-1 2h0m-22 1h0m36-1339h0m25 113h0m3 28h0m0 28h0m-1 28h0m-30 102h0m6 308h0m0 14h0m-6 27h0m-2 2h0m0 19h0m32 35h0m-11 77h0m-16 20h0m-5 46h0m-4 32h0m29 9h0m-16 4h0m-9 55h0m20 9h0m4 16h0m-17 7h0m17 8h0m-13 11h0m-9 0h0m1 32h0m-8 13h0m12 6h0m2 15h0m-9 9h0m13 2h0m-3 4h0m17 0h0m-21 3h0m-3 5h0m5 6h0m23 17h0m-35 7h0m4 5h0m9 24h0m24 0h0m-26 4h0m19 8h0m-25 14h0m19 33h0m13 13h0m-19 0h0m17 4h0m-6 1h0m-10 1h0m17 0h0m-32 14h0m22 31h0m-17 2h0m-9 42h0m17 4h0m-15 6h0m2 9h0m10 10h0m3 2h0m7 0h0m14-953h0m0 108h0m2 28h0m1 28h0m20 67h0m-8 114h0m9 2h0m15 106h0m-20 30h0m-1 2h0m-1 7h0m5 58h0m0 1h0m-4 11h0m2 0h0m16 4h0m-19 12h0m7 8h0m-14 22h0m-4 11h0m23 17h0m-7 4h0m17 7h0m-8 11h0m-7 0h0m-15 39h0m9 27h0m1 0h0m-11 13h0m2 17h0m27 9h0m-34 3h0m12 7h0m4 1h0m-1 5h0m-9 5h0m22 5h0m-25 11h0m21 1h0m-27 21h0m7 2h0m23 19h0m-5 1h0m-21 24h0m6 5h0m-10 2h0m20 20h0m-3 6h0m9 8h0m11 5h0m-2 5h0m-32 18h0m16 9h0m20 6h0m-38 0h0m6 5h0m16 0h0m17-643h0m4 164h0m1 5h0m-5 17h0m5 18h0m0 13h0m-2 87h0m2 20h0m-4 64h0m-1 26h0m5 9h0m-4 37h0m-1 12h0m4 20h0m1 4h0m0 35h0m-1 38h0m1 18h0m-5 26h0m5 20h0m304-679h0m-1 56h0m10 99h0m-10 91h0m10 6h0m-5 50h0m-7 18h0m2 2h0m5 36h0m6 9h0m-13 62h0m11 19h0m-4 5h0m-7 5h0m11 33h0m2 5h0m-9 6h0m-4 31h0m0 12h0m5 3h0m8 56h0m-11 1h0m-2 15h0m5 3h0m7 18h0m-11 3h0m4 36h0m0 9h0m37-1479h0m-4 435h0m-1 231h0m-21 143h0m5 21h0m22 72h0m-26 50h0m3 41h0m7 4h0m-12 90h0m18 3h0m19 33h0m-30 2h0m5 10h0m9 1h0m-11 26h0m2 1h0m17 8h0m-6 7h0m-24 2h0m22 1h0m-18 5h0m24 1h0m-7 6h0m-21 11h0m16 14h0m-5 5h0m-6 1h0m4 6h0m1 6h0m16 10h0m-11 31h0m1 4h0m7 25h0m-16 18h0m7 3h0m-8 23h0m8 5h0m2 30h0m3 0h0m-8 6h0m-8 5h0m-1 11h0m20 7h0m-5 6h0m-7 0h0m17 5h0m-7 3h0m16 25h0m-18 10h0m-5 9h0m23 3h0m-1 2h0m-14 2h0m47-1136h0m4 121h0m-20 350h0m24 9h0m1 5h0m1 134h0m-2 2h0m1 14h0m-1 6h0m0 21h0m1 1h0m-27 5h0m26 10h0m1 0h0m1 9h0m-32 34h0m32 43h0m-22 1h0m12 26h0m11 34h0m-6 10h0m-25 10h0m16 13h0m-19 5h0m26 1h0m-10 4h0m-19 1h0m29 4h0m-4 5h0m-12 26h0m-5 6h0m9 5h0m20 8h0m-5 17h0m-29 22h0m22 40h0m-3 30h0m-23 3h0m34 14h0m-35 2h0m12 2h0m-2 25h0m26 4h0m1 22h0m-1 10h0m-26 5h0m23 1h0m6 6h0m-8 1h0m-14 8h0m25-1362h0m37 290h0m-35 253h0m17 16h0m3 28h0m2 28h0m2 28h0m-28 56h0m0 30h0m1 47h0m3 62h0m0 16h0m20 0h0m-20 5h0m-4 6h0m23 5h0m-23 7h0m1 0h0m25 25h0m-23 2h0m23 2h0m-8 19h0m-4 15h0m-11 2h0m6 3h0m14 2h0m3 12h0m2 3h0m9 2h0m-25 3h0m-8 8h0m-3 12h0m27 9h0m-10 2h0m-17 24h0m25 1h0m-4 23h0m16 8h0m-13 16h0m-23 14h0m34 10h0m-33 22h0m36 3h0m-12 14h0m2 2h0m-29 17h0m1 2h0m26 1h0m0 2h0m3 0h0m-3 3h0m-26 3h0m38 38h0m-39 0h0m33 1h0m-29 4h0m-2 0h0m25 3h0m-15 2h0m-8 23h0m20 0h0m3 2h0m-25 17h0m22 7h0m-17 4h0m-5 14h0m-2 0h0m34 14h0m5 0h0m-3 7h0m-19 8h0m4 1h0m3 1h0m15 2h0m0 2h0m-35 13h0m4 1h0m16 25h0m11 4h0m-23 1h0m9 6h0m48-2353h0m-1 396h0m-21 879h0m21 234h0m-7 51h0m-16 123h0m-1 1h0m-4 56h0m8 9h0m-6 13h0m1 3h0m-2 3h0m26 29h0m-20 38h0m0 3h0m0 21h0m-4 20h0m2 6h0m-4 31h0m0 0h0m4 6h0m-1 27h0m27 6h0m-4 5h0m9 8h0m-30 7h0m21 28h0m-7 15h0m-14 25h0m19 8h0m-15 24h0m18 0h0m-11 5h0m-8 8h0m18 3h0m6 0h0m-31 1h0m20 9h0m13 8h0m-33 7h0m35 2h0m-26 17h0m21 35h0m-19 4h0m-7 5h0m-3 6h0m0 18h0m34 7h0m-30 3h0m-5 5h0m1 17h0m6 6h0m-6 4h0m3 0h0m-3 3h0m3 22h0m30 7h0m-32 9h0m26 20h0m-12 11h0m16 2h0m1 2h0m-24 21h0m14 1h0m-22 3h0m53-752h0m-1 146h0m1 46h0m1 6h0m2 44h0m-1 7h0m-2 55h0m4 5h0m-8 2h0m21 0h0m-13 12h0m-10 1h0m4 14h0m20 2h0m-1 0h0m-20 4h0m19 21h0m-19 16h0m3 9h0m22 2h0m-16 2h0m-12 8h0m14 1h0m-5 0h0m-6 15h0m-2 6h0m27 34h0m-1 0h0m-3 34h0m-34 4h0m17 15h0m22 1h0m-4 4h0m-28 0h0m14 12h0m-12 0h0m30 8h0m-21 9h0m-6 1h0m15 15h0m-5 5h0m7 8h0m0 9h0m-23 5h0m14 1h0m-19 0h0m0 11h0m38 12h0m-32 3h0m-1 8h0m7 22h0m-4 1h0m18 26h0m-19 7h0m27 6h0m-31 8h0m3 3h0m-2 9h0m6 6h0m6 4h0m-3 5h0m-8 7h0m16 3h0m-7 2h0m-2 11h0m0 7h0m-6 2h0m12 2h0m10 0h0m33-995h0m-7 105h0m22 226h0m1 31h0m-26 149h0m2 15h0m-1 9h0m24 28h0m-13 20h0m-17 11h0m7 27h0m19 2h0m-30 3h0m1 8h0m-3 46h0m36 3h0m0 8h0m-25 9h0m18 7h0m-23 23h0m24 11h0m-2 22h0m5 24h0m-6 23h0m-12 7h0m8 37h0m6 3h0m-26 19h0m35 1h0m-39 10h0m25 9h0m-10 7h0m-8 12h0m9 18h0m-7 25h0m12 15h0m-9 1h0m6 5h0m7 3h0m13 11h0m-8 3h0m-19 2h0m22 0h0m-22 1h0m29-1142h0m11 299h0m-9 244h0m4 123h0m2 72h0m-8 8h0m15 38h0m-7 27h0m-4 3h0m-4 24h0m15 4h0m-14 7h0m12 6h0m1 6h0m-6 41h0m5 30h0m2 39h0m-5 67h0m-3 32h0m8 70h0m284-951h0m19 567h0m-10 41h0m9 29h0m0 9h0m-3 25h0m-3 55h0m1 12h0m-4 2h0m5 53h0m0 2h0m-10 11h0m0 24h0m7 17h0m3 24h0m-2 22h0m0 12h0m-6 0h0m13 1h0m-9 22h0m-6 14h0m5 5h0m-5 8h0m27-1509h0m-9 262h0m13 431h0m-2 28h0m4 28h0m-3 28h0m2 28h0m-3 28h0m5 28h0m-15 83h0m-2 31h0m4 150h0m-2 18h0m-1 71h0m14 35h0m-1 5h0m-6 7h0m22 3h0m-23 42h0m22 10h0m-10 1h0m11 4h0m2 3h0m-29 5h0m24 14h0m-27 3h0m25 21h0m-24 3h0m33 2h0m-29 2h0m18 14h0m5 1h0m11 25h0m0 28h0m-9 7h0m-25 17h0m12 3h0m20 27h0m-4 9h0m-1 0h0m-22 4h0m53-526h0m3 52h0m0 57h0m-5 37h0m-4 19h0m8 3h0m-7 0h0m13 24h0m-11 1h0m-1 10h0m-5 5h0m3 9h0m0 11h0m-16 34h0m1 6h0m19 4h0m13 24h0m-11 28h0m14 2h0m-6 9h0m-27 12h0m10 4h0m21 13h0m-23 4h0m6 23h0m21 18h0m-26 10h0m15 1h0m1 8h0m-23 11h0m15 24h0m-2 4h0m-1 7h0m-1 17h0m5 19h0m-14 2h0m6 12h0m22 0h0m-24 2h0m50-1529h0m3 56h0m-2 263h0m0 410h0m1 28h0m-7 28h0m6 56h0m14 27h0m-15 1h0m-6 28h0m0 28h0m-14 38h0m34 61h0m-35 39h0m36 70h0m-3 8h0m2 14h0m-30 15h0m0 5h0m1 8h0m32 7h0m-31 2h0m-3 6h0m29 5h0m2 1h0m2 17h0m-36 0h0m33 0h0m-35 16h0m14 17h0m-14 6h0m16 3h0m23 15h0m-4 31h0m-4 0h0m-1 12h0m-22 8h0m28 12h0m-31 6h0m16 5h0m-12 3h0m4 2h0m20 5h0m-11 3h0m12 8h0m-16 3h0m18 9h0m-31 2h0m11 1h0m15 4h0m-2 5h0m-10 1h0m-12 3h0m29 11h0m-27 13h0m7 2h0m2 6h0m14 17h0m-18 10h0m15 1h0m-23 2h0m12 4h0m-1 1h0m-6 11h0m24 0h0m-35 1h0m33 6h0m-17 10h0m-12 2h0m32 18h0m-36 3h0m18 10h0m36-816h0m-13 374h0m2 30h0m15 21h0m-15 38h0m0 40h0m0 15h0m0 10h0m5 11h0m20 36h0m-2 6h0m-24 18h0m17 1h0m-16 14h0m32 41h0m-24 7h0m26 1h0m-11 1h0m-1 17h0m-13 20h0m7 3h0m6 3h0m-8 6h0m-9 6h0m14 2h0m9 5h0m-28 21h0m31 44h0m-27 3h0m16 7h0m-1 6h0m-22 1h0m27 6h0m38-719h0m2 232h0m-27 15h0m27 43h0m7 8h0m-3 4h0m0 38h0m3 3h0m-16 21h0m0 32h0m10 37h0m-17 21h0m27 3h0m-35 1h0m14 20h0m7 1h0m-24 4h0m38 8h0m-19 11h0m-6 9h0m24 3h0m-23 12h0m13 6h0m-26 4h0m26 32h0m11 1h0m-29 23h0m30 10h0m-33 16h0m-5 2h0m23 9h0m-24 14h0m30 13h0m-27 8h0m3 9h0m27 3h0m-5 8h0m-28 1h0m28 4h0m-26 18h0m22 6h0m-20 0h0m22 7h0m50-859h0m-29 167h0m32 35h0m-8 65h0m3 50h0m4 49h0m-5 38h0m-8 14h0m14 12h0m-37 25h0m28 42h0m3 24h0m1 8h0m-1 11h0m-29 18h0m27 10h0m3 0h0m0 1h0m5 3h0m-1 8h0m-35 28h0m25 1h0m7 16h0m-26 1h0m28 40h0m-5 8h0m5 17h0m-25 0h0m4 19h0m8 1h0m5 9h0m-23 17h0m25 14h0m-8 4h0m8 11h0m4 10h0m-15 13h0m16 5h0m-36 3h0m8 7h0m22 35h0m-17 1h0m23 7h0m-28 3h0m22 0h0m10-268h0m9 73h0m-8 37h0m5 7h0m-4 23h0m-2 4h0m2 0h0m7 26h0m-9 4h0m5 35h0m4 62h0m247-537h0m1 15h0m-1 42h0m23 14h0m0 175h0m-17 24h0m2 47h0m13 3h0m-21 16h0m16 1h0m4 1h0m-20 11h0m0 18h0m0 7h0m7 8h0m-6 8h0m-1 6h0m23 5h0m-17 32h0m17 71h0m-1 26h0m-17 9h0m42-1539h0m3 215h0m0 28h0m-4 28h0m5 28h0m-7 28h0m6 28h0m-1 28h0m0 28h0m-4 28h0m3 28h0m-2 28h0m2 141h0m-4 28h0m3 28h0m-15 58h0m-7 297h0m31 48h0m-5 11h0m-25 2h0m1 5h0m0 6h0m5 11h0m26 6h0m-26 4h0m-7 17h0m2 8h0m3 19h0m-1 21h0m3 15h0m0 7h0m-6 3h0m2 13h0m1 8h0m-5 4h0m5 3h0m-3 1h0m-1 12h0m0 1h0m3 4h0m3 6h0m-5 12h0m35 0h0m-16 3h0m18 1h0m-9 10h0m5 1h0m-17 5h0m-13 2h0m2 12h0m23 2h0m-20 4h0m0 8h0m-9 2h0m9 12h0m-2 1h0m4 3h0m-4 9h0m-5 5h0m15 5h0m7 1h0m-18 9h0m-4 22h0m5 14h0m14 1h0m0 3h0m-22 6h0m2 5h0m-2 1h0m12 19h0m-4 3h0m24 2h0m-25 24h0m-6 14h0m15 1h0m19 3h0m-21 6h0m-14 22h0m3 0h0m-1 2h0m23 4h0m4 2h0m35-835h0m15 502h0m-23 7h0m14 4h0m-25 63h0m3 1h0m27 5h0m-28 46h0m-3 17h0m15 1h0m-4 3h0m-11 32h0m5 3h0m9 8h0m-6 3h0m23 13h0m-23 8h0m8 2h0m11 1h0m3 2h0m-25 8h0m16 12h0m9 17h0m3 9h0m-15 9h0m11 13h0m-26 40h0m22 1h0m23-1800h0m13 773h0m8 156h0m-16 148h0m20 42h0m-4 186h0m-15 57h0m-5 5h0m0 18h0m-5 17h0m2 46h0m-2 25h0m-6 15h0m3 1h0m7 17h0m1 13h0m-3 19h0m2 4h0m3 3h0m22 22h0m-13 0h0m4 19h0m-17 14h0m15 28h0m10 11h0m-5 10h0m-20 17h0m4 1h0m22 20h0m-20 3h0m7 16h0m2 25h0m-6 14h0m19 10h0m-39 12h0m21 5h0m-8 23h0m-6 2h0m1 4h0m25 3h0m-22 2h0m42-1629h0m-3 645h0m-7 293h0m4 129h0m-2 20h0m-3 5h0m6 52h0m-7 1h0m4 6h0m-3 25h0m1 4h0m-3 9h0m5 4h0m-1 3h0m29 10h0m-25 2h0m21 6h0m-27 11h0m1 29h0m0 10h0m31 5h0m-27 6h0m-1 3h0m32 15h0m-33 9h0m-4 9h0m0 4h0m5 21h0m1 3h0m-2 10h0m17 34h0m7 0h0m-23 22h0m7 11h0m-10 8h0m4 37h0m-1 2h0m29 14h0m-1 8h0m-1 5h0m-32 9h0m6 1h0m14 5h0m-21 3h0m25 1h0m3 14h0m-1 8h0m-6 14h0m-1 1h0m10 11h0m7 12h0m-24 2h0m-4 2h0m9 20h0m14 3h0m7 12h0m-17 10h0m-7 7h0m22 1h0m13-1103h0m0 212h0m-3 288h0m-4 115h0m0 1h0m8 229h0m4 14h0m6 15h0m-19 4h0m10 11h0m-7 20h0m6 7h0m16 8h0m-4 0h0m-13 3h0m17 7h0m0 4h0m-15 7h0m1 14h0m12 4h0m-8 45h0m-8 13h0m0 16h0m17 11h0m-11 22h0m4 27h0m242-2560h0m0 540h0m12 677h0m-9 226h0m-4 322h0m0 148h0m-1 75h0m2 252h0m2 32h0m10 1h0m-22 7h0m-3 6h0m0 17h0m24 2h0m6 1h0m-8 19h0m-4 5h0m-13 21h0m-4 1h0m15 1h0m-9 29h0m15 43h0m-15 5h0m-2 16h0m3 2h0m-7 20h0m27 1h0m-5 14h0m-23 5h0m11 12h0m-11 0h0m26 8h0m-26 11h0m31 6h0m-8 8h0m-23 16h0m0 5h0m27 10h0m-22 0h0m49-633h0m12 152h0m-21 63h0m3 8h0m14 1h0m6 5h0m-23 6h0m11 66h0m-11 45h0m17 4h0m0 21h0m-1 2h0m10 10h0m-10 6h0m8 6h0m-26 7h0m10 2h0m2 5h0m-3 35h0m2 28h0m-6 14h0m-2 6h0m-5 8h0m3 8h0m18 21h0m-26 3h0m0 3h0m20 24h0m14 11h0m-18 16h0m13 1h0m-33 4h0m6 3h0m25 1h0m-20 4h0m23 19h0m-33 2h0m16 7h0m22 7h0m11-865h0m17 92h0m3 28h0m-6 28h0m-1 2h0m1 28h0m0 43h0m-1 57h0m1 178h0m0 7h0m1 37h0m2 9h0m-4 31h0m4 3h0m-1 9h0m4 4h0m-7 1h0m-15 3h0m24 8h0m-8 4h0m-24 13h0m21 0h0m12 21h0m-4 16h0m-17 32h0m-8 29h0m3 7h0m23 2h0m-3 4h0m10 1h0m-21 18h0m-13 12h0m16 14h0m20 6h0m-14 12h0m4 26h0m-5 7h0m-11 2h0m12 17h0m5 16h0m-14 16h0m-6 22h0m11 1h0m35-1235h0m0 143h0m0 141h0m-5 134h0m2 59h0m-2 74h0m17 32h0m-4 28h0m-1 28h0m6 28h0m-16 8h0m5 9h0m2 14h0m-1 6h0m7 19h0m-11 5h0m15 23h0m-15 60h0m3 11h0m-2 15h0m-5 5h0m4 15h0m12 2h0m-14 3h0m4 6h0m-5 7h0m4 0h0m-4 3h0m26 3h0m-27 13h0m8 23h0m-8 2h0m2 3h0m5 14h0m-4 5h0m14 14h0m-4 30h0m-9 11h0m-3 5h0m27 12h0m-13 22h0m-7 6h0m-2 1h0m3 6h0m11 10h0m2 5h0m-11 13h0m-8 10h0m-5 8h0m1 3h0m2 9h0m-3 4h0m1 0h0m0 11h0m4 21h0m-2 10h0m-1 0h0m1 2h0m1 3h0m6 2h0m18 8h0m-17 7h0m19 9h0m-20 6h0m10 0h0m-6 5h0m-10 6h0m21 7h0m-10 5h0m-19 2h0m34 1h0m-15 4h0m-21 11h0m8 2h0m14 2h0m-5 2h0m38-385h0m5 18h0m-5 19h0m-6 62h0m2 18h0m-1 11h0m10 7h0m-1 27h0m-13 5h0m15 27h0m-15 46h0m-6 69h0m4 3h0m9 2h0m-8 9h0m16 9h0m-10 3h0m3 16h0m-14 1h0m21 7h0m0 1h0m-20 16h0m3 1h0m3 7h0m223-1062h0m-13 450h0m-4 55h0m4 57h0m-4 0h0m2 7h0m7 2h0m-6 21h0m5 2h0m1 19h0m-4 4h0m4 1h0m-5 7h0m-2 4h0m-1 22h0m1 12h0m4 8h0m-5 4h0m0 9h0m6 5h0m-2 4h0m-5 19h0m2 1h0m4 12h0m0 6h0m-5 1h0m5 2h0m-6 5h0m-1 33h0m5 15h0m-19 7h0m7 4h0m9 7h0m16 0h0m-17 5h0m-9 0h0m3 8h0m-9 17h0m0 2h0m6 6h0m32 9h0m-18 2h0m7 6h0m-3 3h0m-13 5h0m-11 13h0m1 2h0m16 17h0m-9 1h0m15 5h0m15 2h0m-32 14h0m-5 6h0m18 3h0m13 11h0m-13 5h0m2 1h0m-12 16h0m27 3h0m-15 24h0m-1 22h0m-18 17h0m-2 11h0m17 1h0m-12 19h0m22 3h0m32-1245h0m-2 3h0m-17 243h0m36 609h0m-28 11h0m7 52h0m3 10h0m8 10h0m0 0h0m0 7h0m-16 15h0m0 1h0m24 15h0m-6 3h0m3 1h0m-12 4h0m3 18h0m12 10h0m-29 29h0m18 21h0m-2 5h0m-2 6h0m-16 8h0m15 23h0m-14 12h0m3 3h0m13 13h0m5 3h0m13 23h0m-9 31h0m-13 9h0m11 27h0m4 9h0m-22 7h0m26 5h0m30-1072h0m0 28h0m-3 28h0m16 295h0m-6 88h0m4 145h0m-6 58h0m-21 7h0m1 28h0m19 72h0m-29 3h0m29 9h0m-10 20h0m-12 16h0m21 7h0m-10 3h0m4 3h0m3 4h0m-18 19h0m-4 4h0m32 25h0m-8 9h0m5 1h0m5 23h0m-27 32h0m-7 2h0m3 0h0m-3 1h0m17 4h0m-14 18h0m9 4h0m-12 2h0m6 1h0m-4 1h0m28 1h0m-14 6h0m3 6h0m14 1h0m-5 14h0m-25 4h0m11 2h0m-3 28h0m24 19h0m-21 3h0m8 3h0m8 4h0m1 10h0m1 1h0m-8 1h0m-6 0h0m-8 5h0m29-1688h0m0 69h0m5 107h0m0 131h0m-5 131h0m2 421h0m19 11h0m-18 17h0m21 11h0m-26 17h0m21 247h0m10 24h0m-14 7h0m13 56h0m1 23h0m-1 41h0m-17 9h0m18 5h0m0 15h0m0 2h0m0 18h0m0 7h0m-18 12h0m18 19h0m-13 4h0m8 12h0m5 10h0m-21 62h0m21 9h0m-8 3h0m8 7h0m0 8h0m-27 39h0m27 1h0m-9 10h0m9 2h0m0 2h0m0 4h0m-17 3h0m-8 1h0m25 21h0m-21 4h0m21 29h0m-25 4h0m6 16h0m-4 7h0m17 7h0m6 17h0m-14 1h0m135-2343h0m-5 1082h0m8 90h0m16 311h0m9 289h0m-16 31h0m22 11h0m-18 47h0m-1 3h0m9 29h0m-10 28h0m7 29h0m0 1h0m-4 41h0m3 2h0m17 15h0m-23 3h0m4 13h0m8 7h0m7 10h0m-12 0h0m-9 7h0m6 24h0m11 0h0m-16 3h0m2 5h0m3 12h0m19 15h0m-22 19h0m14 5h0m4 2h0m-22 16h0m5 46h0m29 4h0m-9 10h0m-15 5h0m18 1h0m0 7h0m-18 16h0m22 6h0m-29 0h0m8 6h0m6 5h0m-2 4h0m12 0h0m-25 0h0m1 11h0m8 26h0m-7 1h0m20 9h0m-16 3h0m14 2h0m-12 3h0m-10 16h0m22 1h0m-10 4h0m-8 3h0m-4 2h0m5 4h0m22 3h0m-8 1h0m9 1h0m16-2137h0m30 434h0m-21 1321h0m-13 4h0m9 11h0m11 20h0m-8 19h0m17 4h0m2 0h0m-28 4h0m25 34h0m-27 3h0m-3 17h0m27 19h0m-14 8h0m10 15h0m-18 12h0m9 6h0m9 4h0m-17 23h0m12 6h0m11 6h0m2 4h0m6 10h0m-36 14h0m30 14h0m-9 3h0m5 2h0m0 12h0m-11 4h0m20 4h0m-14 6h0m-14 3h0m5 0h0m1 62h0m15 6h0m-18 18h0m22 5h0m32-1083h0m-21 208h0m0 123h0m15 150h0m5 11h0m1 14h0m-4 26h0m3 1h0m-5 67h0m1 13h0m5 6h0m-6 9h0m-6 34h0m6 19h0m7 1h0m-3 34h0m1 3h0m1 0h0m2 3h0m0 1h0m-6 7h0m-14 1h0m4 1h0m12 7h0m2 2h0m-8 26h0m13 1h0m-4 11h0m-13 3h0m12 19h0m2 3h0m-8 0h0m6 1h0m-20 9h0m30 18h0m-12 5h0m-19 7h0m22 0h0m9 12h0m-28 3h0m10 3h0m-5 68h0m10 6h0m-5 1h0m16 6h0m-16 3h0m6 6h0m-5 22h0m16 39h0m-26 5h0m1 12h0m23 7h0m-1 2h0m-7 17h0m-21 7h0m34 12h0m-22 10h0m27-465h0m-1 108h0m-3 48h0m3 78h0m-3 49h0m4 95h0m0 77h0m109-361h0m0 20h0m1 31h0m0 10h0m-1 12h0m2 43h0m-2 1h0m3 16h0m0 55h0m-3 11h0m2 52h0m-2 48h0m5 45h0m-5 25h0m5 1h0m4-1007h0m7 504h0m10 26h0m7 21h0m-3 48h0m-23 20h0m17 2h0m13 32h0m-24 1h0m10 6h0m7 15h0m-9 5h0m19 5h0m-23 11h0m17 20h0m-13 2h0m18 5h0m-1 9h0m4 29h0m-15 39h0m-20 1h0m24 26h0m-9 1h0m-1 34h0m16 6h0m-19 40h0m10 11h0m-1 0h0m8 3h0m-4 5h0m-24 0h0m19 15h0m4 25h0m-2 1h0m-5 4h0m4 32h0m47-1160h0m2 96h0m-3 28h0m2 28h0m0 127h0m-6 315h0m2 20h0m4 6h0m-7 17h0m4 13h0m-1 15h0m3 3h0m-5 13h0m0 50h0m2 7h0m0 1h0m4 3h0m0 4h0m-7 1h0m4 1h0m1 7h0m6 4h0m-15 34h0m-17 6h0m3 4h0m17 1h0m-5 1h0m21 7h0m-10 1h0m-18 12h0m9 11h0m12 22h0m-28 16h0m8 0h0m9 3h0m6 11h0m-1 3h0m8 11h0m-8 6h0m-17 3h0m-1 3h0m14 6h0m11 20h0m-17 4h0m11 1h0m1 37h0m-24 16h0m14 9h0m23 4h0m-28 11h0m11 19h0m6 8h0m-4 26h0m-12 4h0m11 9h0m12 1h0m-8 5h0m-15 8h0m20 8h0m-1 7h0m-15 1h0m15 0h0m-23 2h0m3 33h0m14 4h0m-18 1h0m-4 1h0m29 0h0m-8 0h0m-23 2h0m8 1h0m20 0h0m20-344h0m-4 24h0m-4 0h0m8 24h0m-6 71h0m4 39h0m0 43h0m2 10h0m-1 79h0m-3 30h0m0 3h0m2 22h0" stroke="#FFA500" stroke-width="47" stroke-linecap="round" fill="none"/>
<path transform="scale(.1)" d="M2176 6360h0m0 29h0m0 26h0m0 29h0m0 29h0m0 27h0m0 29h0m0 29h0m0 36h0m0 29h0m0 29h0m0 29h0m0 29h0m0 44h0m0 29h0m0 110h0m0 95h0m0 29h0m0 111h0m0 29h0m0 29h0m0 29h0m0 29h0m0 43h0m0 29h0m0 29h0m0 131h0m0 29h0m0 29h0m0 117h0m0 139h0m0 60h0m0 55h0m0 29h0m0 106h0m0 29h0m0 29h0m0 29h0m0 37h0m0 29h0m0 29h0m0 29h0m0 29h0m0 29h0m0 29h0m0 160h0m0 29h0m0 29h0m0 82h0m0 29h0m0 29h0m0 29h0m0 29h0m0 29h0m0 29h0m0 29h0m0 29h0m0 29h0m0 29h0m0 29h0m0 29h0m0 29h0m0 42h0m0 29h0m0 29h0m0 29h0m0 29h0m0 29h0m0 89h0m0 244h0m0 139h0m0 226h0m0 29h0m0 29h0m0 112h0m0 29h0m0 181h0m0 29h0m0 91h0" stroke="#1E90FF" stroke-width="47" stroke-linecap="round" fill="none"/>
<text x="223" y="633" font-size="13.3" fill="#1E90FF">UGT2B</text>
<line x1="33.04" x2="681.0" y1="777.2" y2="777.2" stroke="#262626" stroke-width="1.4" stroke-dasharray="3.4 3.36"/>
<path d="M33.0 615.9V1065.5" fill="none" stroke="#2a2a2a" stroke-width="1.2"/>
<path d="M32.4 1065.5H681.0" fill="none" stroke="#1a1a1a" stroke-width="1.05"/>
<path d="M30.8 1045.4H33.0" stroke="#333" stroke-width="1.1"/>
<text x="28.8" y="1048.8" font-size="9.5" fill="#4d4d4d" text-anchor="end">3</text>
<path d="M30.8 937.7H33.0" stroke="#333" stroke-width="1.1"/>
<text x="28.8" y="941.1" font-size="9.5" fill="#4d4d4d" text-anchor="end">5</text>
<path d="M30.8 830.4H33.0" stroke="#333" stroke-width="1.1"/>
<text x="28.8" y="833.8" font-size="9.5" fill="#4d4d4d" text-anchor="end">7</text>
<path d="M30.8 723.2H33.0" stroke="#333" stroke-width="1.1"/>
<text x="28.8" y="726.6" font-size="9.5" fill="#4d4d4d" text-anchor="end">9</text>
<path d="M30.8 616.2H33.0" stroke="#333" stroke-width="1.1"/>
<text x="28.8" y="619.6" font-size="9.5" fill="#4d4d4d" text-anchor="end">11</text>
<path d="M87.4 1065.5v2.4" stroke="#333" stroke-width="1.1"/>
<text x="87.4" y="1076.3" font-size="9.5" fill="#4d4d4d" text-anchor="middle">1</text>
<path d="M137.4 1065.5v2.4" stroke="#333" stroke-width="1.1"/>
<text x="137.4" y="1076.3" font-size="9.5" fill="#4d4d4d" text-anchor="middle">2</text>
<path d="M182.4 1065.5v2.4" stroke="#333" stroke-width="1.1"/>
<text x="182.4" y="1076.3" font-size="9.5" fill="#4d4d4d" text-anchor="middle">3</text>
<path d="M222.3 1065.5v2.4" stroke="#333" stroke-width="1.1"/>
<text x="222.3" y="1076.3" font-size="9.5" fill="#4d4d4d" text-anchor="middle">4</text>
<path d="M260.5 1065.5v2.4" stroke="#333" stroke-width="1.1"/>
<text x="260.5" y="1076.3" font-size="9.5" fill="#4d4d4d" text-anchor="middle">5</text>
<path d="M296 1065.5v2.4" stroke="#333" stroke-width="1.1"/>
<text x="296" y="1076.3" font-size="9.5" fill="#4d4d4d" text-anchor="middle">6</text>
<path d="M329.3 1065.5v2.4" stroke="#333" stroke-width="1.1"/>
<text x="329.3" y="1076.3" font-size="9.5" fill="#4d4d4d" text-anchor="middle">7</text>
<path d="M360.6 1065.5v2.4" stroke="#333" stroke-width="1.1"/>
<text x="360.6" y="1076.3" font-size="9.5" fill="#4d4d4d" text-anchor="middle">8</text>
<path d="M391 1065.5v2.4" stroke="#333" stroke-width="1.1"/>
<text x="391" y="1076.3" font-size="9.5" fill="#4d4d4d" text-anchor="middle">9</text>
<path d="M419.7 1065.5v2.4" stroke="#333" stroke-width="1.1"/>
<text x="419.7" y="1076.3" font-size="9.5" fill="#4d4d4d" text-anchor="middle">10</text>
<path d="M447 1065.5v2.4" stroke="#333" stroke-width="1.1"/>
<text x="447" y="1076.3" font-size="9.5" fill="#4d4d4d" text-anchor="middle">11</text>
<path d="M475 1065.5v2.4" stroke="#333" stroke-width="1.1"/>
<text x="475" y="1076.3" font-size="9.5" fill="#4d4d4d" text-anchor="middle">12</text>
<path d="M502.5 1065.5v2.4" stroke="#333" stroke-width="1.1"/>
<text x="502.5" y="1076.3" font-size="9.5" fill="#4d4d4d" text-anchor="middle">13</text>
<path d="M525.3 1065.5v2.4" stroke="#333" stroke-width="1.1"/>
<text x="525.3" y="1076.3" font-size="9.5" fill="#4d4d4d" text-anchor="middle">14</text>
<path d="M547 1065.5v2.4" stroke="#333" stroke-width="1.1"/>
<text x="547" y="1076.3" font-size="9.5" fill="#4d4d4d" text-anchor="middle">15</text>
<path d="M564.8 1065.5v2.4" stroke="#333" stroke-width="1.1"/>
<text x="564.8" y="1076.3" font-size="9.5" fill="#4d4d4d" text-anchor="middle">16</text>
<path d="M581.8 1065.5v2.4" stroke="#333" stroke-width="1.1"/>
<text x="581.8" y="1076.3" font-size="9.5" fill="#4d4d4d" text-anchor="middle">17</text>
<path d="M598.4 1065.5v2.4" stroke="#333" stroke-width="1.1"/>
<text x="598.4" y="1076.3" font-size="9.5" fill="#4d4d4d" text-anchor="middle">18</text>
<path d="M612 1065.5v2.4" stroke="#333" stroke-width="1.1"/>
<text x="612" y="1076.3" font-size="9.5" fill="#4d4d4d" text-anchor="middle">19</text>
<path d="M624.7 1065.5v2.4" stroke="#333" stroke-width="1.1"/>
<text x="624.7" y="1076.3" font-size="9.5" fill="#4d4d4d" text-anchor="middle">20</text>
<path d="M637.5 1065.5v2.4" stroke="#333" stroke-width="1.1"/>
<text x="637.5" y="1076.3" font-size="9.5" fill="#4d4d4d" text-anchor="middle">21</text>
<path d="M648.3 1065.5v2.4" stroke="#333" stroke-width="1.1"/>
<text x="648.3" y="1076.3" font-size="9.5" fill="#4d4d4d" text-anchor="middle">22</text>
<text x="356.7" y="1090.1" font-size="12.5" fill="#000" text-anchor="middle">Position</text>
<text transform="translate(13.2 841.2) rotate(-90)" font-size="12.6" fill="#000" text-anchor="middle">−log10(P−value)</text>
<text x="25.3" y="1169.5" font-size="20.25" fill="#000"><tspan font-weight="bold">C</tspan>. Clozapine to norclozapine ratio</text>
<path transform="scale(.1)" d="M4487 15885h0m0 25h0m0 23h0m1790 122h0m166-270h0m0 281h0" stroke="#1E90FF" stroke-width="47" stroke-linecap="round" fill="none"/>
<path transform="scale(.1)" d="M620 15894h0m10 75h0m-10 19h0m18 18h0m-17 64h0m-2 1h0m12 21h0m-1 1h0m5 21h0m-27 0h0m31 32h0m-10 2h0m-19 17h0m-2 10h0m22 0h0m-17 10h0m22 1h0m-1 3h0m21-365h0m0 70h0m21 106h0m-7 28h0m-24 40h0m34 5h0m-37 8h0m25 0h0m-4 2h0m12 7h0m-13 36h0m-6 4h0m9 7h0m3 0h0m-5 17h0m0 29h0m2 2h0m-9 0h0m1 1h0m22 5h0m2-472h0m36 103h0m-4 28h0m2 50h0m-7 73h0m10 57h0m-33 26h0m23 3h0m-11 37h0m3 1h0m17 1h0m-16 34h0m-11 30h0m14 8h0m15 3h0m-18 17h0m22-284h0m-2 24h0m0 15h0m0 6h0m2 35h0m12 20h0m-12 16h0m-2 7h0m3 24h0m1 21h0m5 13h0m-8 3h0m4 6h0m-4 2h0m11 0h0m-11 20h0m32 3h0m-34 6h0m11 3h0m-11 14h0m4 18h0m18 8h0m-8 1h0m-11 10h0m22 8h0m-22 3h0m64-440h0m2 28h0m-26 109h0m30 44h0m-31 13h0m7 1h0m0 3h0m26 2h0m2 4h0m-35 15h0m2 20h0m0 0h0m26 3h0m5 7h0m-3 2h0m-30 17h0m4 6h0m-1 2h0m0 4h0m-1 2h0m28 5h0m-27 4h0m4 2h0m0 10h0m0 10h0m-8 2h0m37 13h0m-19 5h0m9 19h0m-5 2h0m1 5h0m-18 4h0m10 1h0m-5 15h0m-4 2h0m15 14h0m-21 5h0m11 14h0m7 0h0m11 7h0m9 4h0m-32 1h0m-5 4h0m27 2h0m-22 4h0m30 6h0m30-232h0m4 40h0m-3 7h0m-3 5h0m-25 56h0m26 7h0m2 7h0m-1 2h0m1 27h0m-23 1h0m20 8h0m7 0h0m3 15h0m-35 2h0m26 22h0m-10 7h0m-5 20h0m22 3h0m24-271h0m0 53h0m-3 67h0m2 1h0m2 38h0m-5 31h0m-3 11h0m8 18h0m-7 37h0m4 10h0m80-271h0m0 120h0m-7 24h0m30 20h0m-28 9h0m3 11h0m-2 4h0m-3 22h0m5 12h0m22 1h0m-27 4h0m19 31h0m-18 10h0m22 10h0m15-84h0m18 2h0m6 39h0m-23 32h0m23 2h0m5 0h0m-22 5h0m0 1h0m42-116h0m3 9h0m-3 5h0m3 5h0m1 5h0m-6 19h0m19 15h0m-15 2h0m-12 7h0m-5 19h0m26 15h0m10 3h0m-19 6h0m-7 0h0m29 2h0m-36 5h0m29 2h0m-21 1h0m58-185h0m-29 3h0m35 44h0m0 16h0m0 32h0m-3 29h0m-2 0h0m-13 13h0m16 1h0m-19 14h0m6 2h0m-18 5h0m22 12h0m-7 0h0m4 5h0m14 6h0m36-323h0m-1 102h0m-1 2h0m-5 6h0m7 29h0m-2 7h0m-2 39h0m-18 2h0m22 16h0m0 31h0m0 9h0m-13 3h0m-12 20h0m21 3h0m-2 5h0m-19 10h0m25 18h0m-26 1h0m24 8h0m-19 6h0m2 3h0m535-416h0m9 120h0m-1 100h0m-5 5h0m6 4h0m-3 4h0m0 4h0m2 14h0m-2 3h0m4 13h0m-10 22h0m5 3h0m-10 19h0m2 7h0m7 5h0m-9 47h0m17 27h0m-6 7h0m-11 2h0m4 6h0m-3 1h0m22-335h0m17 105h0m-3 71h0m-10 46h0m1 47h0m21 27h0m-19 6h0m9 7h0m8 8h0m-16 9h0m17 10h0m-25 1h0m3 7h0m13 1h0m50-248h0m-29 13h0m30 12h0m-25 18h0m-2 15h0m13 30h0m-16 0h0m37 21h0m-37 7h0m35 1h0m-34 15h0m9 6h0m-7 12h0m23 1h0m11 7h0m-11 37h0m5 12h0m-30 1h0m22 9h0m-13 18h0m0 5h0m22 5h0m27-438h0m-6 193h0m-15 54h0m11 0h0m4 28h0m12 6h0m-24 0h0m33 8h0m-8 6h0m6 20h0m-33 23h0m32 36h0m5 66h0m-22 0h0m25-440h0m36 200h0m-34 46h0m15 30h0m8 23h0m-1 17h0m-23 4h0m25 13h0m10 0h0m-1 2h0m-10 1h0m-24 0h0m4 9h0m22 13h0m-18 2h0m-10 1h0m8 2h0m13 15h0m7 12h0m11 13h0m-37 1h0m9 16h0m-10 3h0m3 12h0m16 2h0m25-411h0m18 140h0m-10 90h0m22 49h0m-16 1h0m-4 21h0m8 3h0m-22 1h0m22 7h0m4 19h0m-23 3h0m14 4h0m0 33h0m9 5h0m-6 6h0m-18 10h0m28 10h0m-29 10h0m25 0h0m-3 2h0m50-271h0m-34 5h0m7 57h0m27 5h0m-4 34h0m5 3h0m-15 2h0m-10 35h0m24 7h0m-25 1h0m16 6h0m4 6h0m-22 3h0m30 2h0m-31 19h0m-2 6h0m27 8h0m8 0h0m-24 3h0m-1 12h0m-1 20h0m6 1h0m12 5h0m-25 6h0m-4 14h0m26 3h0m-14 0h0m-12 3h0m4 2h0m21 0h0m34-253h0m8 12h0m-4 24h0m-15 62h0m18 12h0m-19 1h0m23 11h0m5 7h0m-35 13h0m2 6h0m16 5h0m5 3h0m8 12h0m-7 6h0m-16 13h0m21 2h0m-1 9h0m-4 10h0m8 2h0m-8 8h0m-24 11h0m19 2h0m7 10h0m-7 4h0m11 2h0m-15 5h0m-7 0h0m32-188h0m19 36h0m-18 0h0m2 1h0m6 11h0m0 8h0m-8 2h0m16 29h0m1 29h0m17 6h0m-10 5h0m12 10h0m-13 2h0m-3 12h0m-18 3h0m33 5h0m-21 9h0m5 19h0m-8 0h0m22 2h0m24-404h0m18 28h0m-22 0h0m5 28h0m17 25h0m-16 3h0m7 14h0m-7 7h0m-4 7h0m10 2h0m-6 4h0m3 16h0m4 27h0m-9 7h0m3 25h0m5 8h0m-4 11h0m0 2h0m6 2h0m-9 21h0m2 0h0m6 0h0m-5 4h0m0 1h0m0 1h0m11 9h0m-12 10h0m2 8h0m2 1h0m-17 2h0m14 0h0m-4 1h0m-20 11h0m14 11h0m-1 25h0m14 0h0m3 18h0m-21 5h0m-5 0h0m16 2h0m-15 4h0m24 10h0m-19 4h0m14 0h0m2 17h0m-2 0h0m-1 21h0m-5 5h0m22-424h0m0 50h0m0 55h0m19 171h0m-14 17h0m0 11h0m12 7h0m-17 45h0m9 14h0m-9 50h0m17 1h0m413-190h0m4 62h0m4 16h0m-16 17h0m2 35h0m-2 11h0m13 27h0m-5 5h0m-3 12h0m31-297h0m6 28h0m1 28h0m0 28h0m-17 34h0m-2 33h0m-3 2h0m7 26h0m-3 2h0m-3 4h0m7 15h0m-10 5h0m35 28h0m-30 9h0m14 18h0m-8 17h0m1 6h0m0 3h0m24 2h0m-33 0h0m27 7h0m-20 0h0m-2 9h0m3 1h0m50-185h0m-2 19h0m-4 13h0m1 6h0m1 6h0m0 3h0m0 18h0m-4 5h0m1 22h0m-15 23h0m36 25h0m-23 0h0m22 23h0m-22 11h0m11 2h0m11 1h0m9-187h0m4 42h0m4 2h0m23 15h0m4 1h0m-9 5h0m-23 4h0m12 7h0m-15 2h0m7 1h0m-1 2h0m18 7h0m9 5h0m-35 9h0m-1 11h0m26 2h0m7 1h0m-34 5h0m35 0h0m-22 3h0m18 0h0m-6 4h0m5 12h0m-22 3h0m5 1h0m-8 2h0m23 8h0m-23 13h0m14 10h0m20 12h0m-22 2h0m12 3h0m-16 1h0m41-389h0m0 28h0m1 103h0m8 81h0m-4 7h0m5 8h0m-3 16h0m-4 0h0m7 6h0m-8 1h0m4 1h0m-5 34h0m15 34h0m6 13h0m-18 2h0m2 5h0m-15 0h0m17 3h0m-3 21h0m2 21h0m30-213h0m-4 17h0m16 42h0m3 31h0m-23 9h0m18 32h0m-1 17h0m-3 10h0m2 33h0m-10 12h0m24 3h0m-8 5h0m9 0h0m-31 2h0m44-342h0m-3 28h0m-2 28h0m10 78h0m16 33h0m5 37h0m0 5h0m-4 5h0m4 2h0m-32 4h0m9 4h0m18 2h0m-13 12h0m11 38h0m-11 9h0m-12 9h0m4 15h0m22 3h0m-3 13h0m13 1h0m-20 0h0m-11 11h0m-6 2h0m5 4h0m22 5h0m41-288h0m-29 24h0m22 15h0m5 28h0m1 56h0m3 2h0m-3 1h0m-5 43h0m13 5h0m0 4h0m-17 2h0m-15 25h0m-1 3h0m19 1h0m-20 0h0m32 20h0m0 2h0m-27 2h0m-3 6h0m14 3h0m8 29h0m-16 14h0m22 0h0m38-403h0m-26 26h0m14 202h0m16 4h0m-13 47h0m-3 7h0m-16 2h0m-3 4h0m3 14h0m-2 1h0m29 15h0m4 1h0m-3 0h0m-18 7h0m-1 14h0m27 31h0m-4 12h0m-20 12h0m22 3h0m29-577h0m-25 362h0m2 68h0m-3 2h0m10 35h0m6 3h0m-15 2h0m22 38h0m-23 29h0m4 2h0m-3 9h0m3 22h0m15 2h0m372-460h0m5 189h0m1 28h0m-3 28h0m-7 120h0m11 6h0m-11 5h0m7 4h0m-7 2h0m0 15h0m0 13h0m0 8h0m6 20h0m-1 26h0m22-324h0m22 122h0m-15 12h0m17 23h0m-34 21h0m31 5h0m-3 19h0m5 2h0m-4 16h0m-20 3h0m3 2h0m17 10h0m3 5h0m-27 5h0m20 4h0m-23 4h0m29 9h0m-9 28h0m7 17h0m-11 8h0m-8 2h0m22 1h0m-30 6h0m11 0h0m44-359h0m-1 97h0m7 25h0m-2 9h0m1 75h0m-2 24h0m-1 14h0m0 10h0m-8 2h0m-13 10h0m27 1h0m-18 13h0m21 10h0m-23 46h0m-3 9h0m-6 3h0m20 3h0m-2 5h0m35-216h0m25 73h0m-3 22h0m-20 3h0m18 24h0m-7 22h0m-22 6h0m0 0h0m21 15h0m-7 25h0m-17 18h0m-1 7h0m36 3h0m-14 3h0m18-212h0m6 40h0m-4 17h0m5 18h0m3 8h0m10 8h0m6 4h0m13 1h0m-4 10h0m0 18h0m-16 5h0m-15 16h0m-2 4h0m15 3h0m-12 13h0m-1 10h0m8 11h0m-6 3h0m18 1h0m-8 2h0m-16 11h0m4 1h0m22 6h0m26-280h0m-6 120h0m19 9h0m2 29h0m-20 13h0m3 3h0m-7 9h0m9 14h0m-11 7h0m4 21h0m30 2h0m-16 11h0m20 2h0m-8 28h0m4 1h0m-5 2h0m6 5h0m-28 5h0m39-308h0m13 29h0m-3 6h0m7 55h0m1 26h0m-5 2h0m4 4h0m-7 5h0m6 8h0m-18 7h0m12 0h0m6 0h0m-4 3h0m6 10h0m-6 12h0m-1 6h0m-6 4h0m6 2h0m3 10h0m-15 10h0m9 27h0m-2 0h0m11 36h0m-10 3h0m5 35h0m15 2h0m-16 6h0m-6 1h0m35-230h0m28 60h0m-31 3h0m-1 37h0m31 1h0m-18 5h0m10 2h0m-7 11h0m19 21h0m-29 20h0m26 1h0m-14 8h0m-8 3h0m17 19h0m-14 31h0m22 2h0m-1 5h0m-31 0h0m36-378h0m21 123h0m-15 34h0m9 11h0m4 2h0m-4 8h0m-11 7h0m10 26h0m0 25h0m8 25h0m0 7h0m-3 40h0m-9 7h0m12 29h0m-17 1h0m-2 4h0m15 3h0m0 16h0m331-127h0m-16 3h0m13 12h0m1 18h0m-13 32h0m1 4h0m7 8h0m-5 13h0m10 5h0m-14 2h0m0 11h0m0 5h0m14 1h0m1 3h0m-10 12h0m56-285h0m2 31h0m-24 42h0m2 1h0m19 6h0m-4 17h0m1 15h0m6 4h0m0 8h0m-35 10h0m24 10h0m5 5h0m-26 23h0m-1 6h0m25 15h0m8 17h0m-5 2h0m-20 16h0m-1 16h0m13 13h0m2 14h0m-23 1h0m2 12h0m18 0h0m14 1h0m-36 4h0m47-207h0m70 83h0m0 4h0m0 77h0m26-450h0m0 163h0m3 41h0m-9 10h0m-1 5h0m-2 23h0m-3 58h0m0 26h0m5 2h0m-4 4h0m-2 2h0m3 17h0m3 5h0m-2 13h0m5 11h0m-21 8h0m31 8h0m-24 4h0m13 6h0m-4 10h0m-14 1h0m12 3h0m-1 1h0m25 1h0m-19 0h0m-10 7h0m30 8h0m-25 0h0m-1 33h0m15 14h0m-2 6h0m-22 2h0m16 0h0m-5 6h0m59-236h0m0 15h0m-4 2h0m6 15h0m-6 4h0m8 9h0m-3 8h0m-19 23h0m15 5h0m2 11h0m-18 7h0m-14 30h0m27 19h0m-12 1h0m-2 8h0m-11 3h0m24 4h0m-7 8h0m6 7h0m11 10h0m-8 19h0m9 16h0m-15 6h0m-18 2h0m25 1h0m-22 1h0m67-272h0m-29 70h0m16 46h0m-2 16h0m-19 16h0m22 23h0m16 5h0m-20 12h0m0 19h0m0 3h0m-19 11h0m18 7h0m15 21h0m6 11h0m-5 5h0m-22 5h0m48-403h0m288 284h0m0 10h0m2 16h0m-2 21h0m6 1h0m0 13h0m0 40h0m-4 18h0m-5 2h0m36-256h0m5 45h0m1 5h0m-16 17h0m16 2h0m2 3h0m10 6h0m-15 11h0m-12 8h0m10 9h0m5 32h0m-15 5h0m3 9h0m-8 11h0m14 2h0m-16 2h0m20 16h0m-7 5h0m9 7h0m12 5h0m-18 0h0m-5 17h0m3 2h0m11 10h0m6 14h0m-24 4h0m22 4h0m31-305h0m0 65h0m-11 56h0m17 6h0m-26 27h0m0 11h0m17 9h0m-5 45h0m13 6h0m3 7h0m-31 8h0m19 3h0m18 3h0m-3 20h0m2 6h0m-28 15h0m8 4h0m19 10h0m-35 10h0m14 1h0m22 0h0m40-267h0m-38 27h0m5 24h0m17 39h0m-21 2h0m24 1h0m-21 2h0m6 13h0m12 5h0m-17 24h0m33 8h0m-31 7h0m14 1h0m4 7h0m-19 7h0m27 3h0m-18 18h0m18 33h0m-23 12h0m18 13h0m2 4h0m-10 15h0m-16 1h0m65-353h0m1 28h0m0 28h0m2 28h0m-20 1h0m-6 23h0m26 4h0m5 23h0m-8 5h0m-22 24h0m-2 15h0m28 8h0m-21 2h0m3 5h0m-10 11h0m13 5h0m9 11h0m-15 3h0m26 7h0m-13 11h0m-1 1h0m9 2h0m1 3h0m-5 4h0m2 19h0m-17 8h0m17 0h0m3 5h0m1 6h0m-22 8h0m20 8h0m-18 1h0m15 4h0m-6 36h0m-22 5h0m72-352h0m-28 25h0m25 3h0m2 28h0m-7 28h0m6 28h0m-5 28h0m-11 45h0m-5 7h0m-6 1h0m6 16h0m-5 9h0m23 3h0m-18 3h0m10 10h0m-17 8h0m-2 2h0m17 2h0m7 4h0m-22 1h0m2 0h0m6 51h0m17 19h0m-12 2h0m11 23h0m-22 7h0m66-297h0m4 4h0m-3 52h0m-32 18h0m32 10h0m-28 16h0m3 17h0m-7 11h0m2 4h0m-3 1h0m4 17h0m18 12h0m2 15h0m-5 12h0m-14 4h0m9 2h0m4 2h0m-10 1h0m12 16h0m-10 18h0m7 8h0m6 7h0m-15 7h0m15 1h0m-2 25h0m-9 6h0m26 0h0m-6 2h0m-22 1h0m1 1h0m-8 8h0m46-210h0m1 30h0m3 15h0m-6 17h0m6 46h0m0 53h0m290-123h0m10 11h0m-3 68h0m3 31h0m-12 1h0m3 17h0m-4 22h0m-1 8h0m5 4h0m33-360h0m-14 210h0m10 6h0m25 12h0m1 9h0m-37 8h0m16 1h0m-1 27h0m-7 2h0m1 6h0m8 15h0m20 7h0m-34 4h0m-3 22h0m34 16h0m3 2h0m-33 14h0m1 1h0m21 3h0m-19 1h0m30 3h0m40-290h0m-30 210h0m25 4h0m-21 13h0m-4 2h0m-4 11h0m16 21h0m8 10h0m-21 9h0m27 5h0m-3 4h0m-22 0h0m64-237h0m5 68h0m-21 61h0m-7 7h0m20 14h0m-14 9h0m20 1h0m-1 23h0m-20 1h0m8 2h0m7 9h0m0 6h0m-19 12h0m23 9h0m-21 9h0m22 6h0m18-152h0m18 44h0m-11 13h0m-6 15h0m-7 19h0m10 17h0m5 1h0m-14 2h0m17 2h0m8 25h0m-3 1h0m-13 11h0m28-264h0m11 13h0m7 34h0m-13 7h0m5 3h0m-2 35h0m-2 5h0m0 6h0m-1 9h0m2 1h0m0 4h0m2 2h0m-5 14h0m26 5h0m-27 22h0m28 3h0m-7 2h0m-14 17h0m6 3h0m-12 1h0m7 2h0m13 6h0m3 2h0m-20 16h0m2 9h0m9 3h0m-14 12h0m-1 12h0m15 2h0m-20 1h0m-4 11h0m22 1h0m24-228h0m-5 4h0m5 15h0m0 10h0m-4 27h0m1 5h0m3 5h0m0 9h0m0 38h0m0 1h0m0 3h0m0 14h0m0 3h0m0 45h0m0 1h0m0 17h0m0 4h0m0 25h0m-2 4h0m265-271h0m-16 6h0m2 46h0m-2 9h0m-4 6h0m3 9h0m6 28h0m-1 14h0m1 0h0m0 4h0m-6 0h0m13 25h0m10 3h0m-3 0h0m-21 28h0m1 14h0m12 4h0m8 3h0m3 0h0m-2 1h0m-25 18h0m26 0h0m-22 10h0m11 4h0m-14 11h0m17 15h0m-11 2h0m20 5h0m-22 2h0m40-638h0m-2 28h0m-3 28h0m16 289h0m15 177h0m-10 7h0m-1 16h0m-11 8h0m20 16h0m-10 13h0m1 39h0m-1 3h0m4 3h0m8 7h0m-22 8h0m47-212h0m-19 23h0m17 17h0m6 24h0m9 15h0m-11 4h0m8 6h0m-5 8h0m2 8h0m2 22h0m-26 17h0m8 2h0m4 1h0m7 11h0m5 2h0m-23 6h0m20 9h0m-9 5h0m9 10h0m9 0h0m-26 9h0m10 5h0m-17 1h0m58-257h0m-6 6h0m-11 40h0m20 6h0m-1 39h0m-3 18h0m4 1h0m-1 26h0m4 24h0m-26 1h0m18 12h0m-12 7h0m8 24h0m8 24h0m-7 9h0m-14 23h0m32 0h0m-10 5h0m25-405h0m2 20h0m-12 122h0m10 76h0m4 91h0m6 8h0m-15 1h0m1 23h0m13 28h0m-3 2h0m2 11h0m3 1h0m-13 8h0m-1 11h0m10 3h0m222-167h0m-1 13h0m-3 11h0m2 0h0m-8 45h0m8 35h0m2 23h0m-7 8h0m7 7h0m-14 14h0m5 8h0m14-278h0m2 44h0m12 30h0m16 12h0m-29 28h0m12 8h0m6 38h0m-3 2h0m2 4h0m-5 51h0m-12 0h0m14 1h0m-7 9h0m13 5h0m-11 13h0m20 1h0m-18 7h0m-12 8h0m25 8h0m5 4h0m-30 1h0m8 8h0m51-311h0m3 28h0m-8 28h0m-15 26h0m11 26h0m0 18h0m-10 2h0m26 4h0m-12 6h0m-4 12h0m4 24h0m-14 21h0m14 13h0m-5 7h0m-4 16h0m30 12h0m-9 16h0m-23 6h0m18 15h0m5 9h0m-14 12h0m13 4h0m9 1h0m17-347h0m5 63h0m-4 11h0m-3 29h0m7 15h0m0 27h0m-7 4h0m0 11h0m-3 9h0m11 7h0m-8 11h0m17 9h0m-15 1h0m2 14h0m-2 7h0m6 2h0m-12 12h0m2 7h0m7 8h0m2 14h0m-20 8h0m24 20h0m4 3h0m-13 11h0m-6 0h0m-4 4h0m23 3h0m-8 6h0m4 8h0m-4 2h0m-6 18h0m6 3h0m2 7h0m48-332h0m0 56h0m0 29h0m0 3h0m0 11h0m0 25h0m0 7h0m0 2h0m0 4h0m-15 4h0m15 14h0m0 2h0m-16 4h0m13 1h0m3 6h0m-1 30h0m-10 7h0m7 19h0m-25 6h0m28 2h0m-18 26h0m4 3h0m7 35h0m8 14h0m-10 7h0m4 3h0m-22 1h0m28 2h0m-20 7h0m170-416h0m1 196h0m9 90h0m0 8h0m-19 18h0m19 6h0m-2 1h0m9 1h0m-25 8h0m11 15h0m0 5h0m-3 13h0m11 10h0m-14 16h0m-1 23h0m22 7h0m30-247h0m10 27h0m-11 8h0m-3 25h0m4 19h0m2 6h0m-12 20h0m6 6h0m-7 4h0m9 5h0m-4 3h0m17 0h0m-23 7h0m-16 20h0m31 13h0m1 25h0m-19 14h0m9 4h0m6 3h0m-11 6h0m-1 11h0m-9 12h0m8 6h0m5 2h0m56-203h0m-14 38h0m9 52h0m-29 24h0m21 2h0m10 2h0m-22 28h0m-7 4h0m23 4h0m2 6h0m6 16h0m-33 24h0m22 1h0m17-313h0m-1 28h0m1 28h0m1 28h0m13 62h0m-5 2h0m5 12h0m-5 2h0m4 16h0m1 2h0m0 5h0m0 21h0m-8 11h0m-4 12h0m12 8h0m-4 33h0m-11 3h0m11 22h0m-5 19h0m175-459h0m0 70h0m18 57h0m-15 7h0m15 21h0m-34 5h0m21 46h0m12 33h0m-12 4h0m7 2h0m-1 4h0m-26 13h0m30 19h0m-11 17h0m9 13h0m-29 20h0m1 10h0m21 20h0m4 1h0m-17 5h0m5 8h0m-14 19h0m23 1h0m0 0h0m-10 15h0m-11 7h0m26 4h0m-20 12h0m14 12h0m5 8h0m-22 1h0m68-338h0m-4 29h0m4 20h0m-36 46h0m31 2h0m5 15h0m-32 22h0m22 6h0m-4 6h0m5 4h0m-26 1h0m34 24h0m-9 0h0m-23 10h0m30 4h0m-26 18h0m27 10h0m-3 19h0m4 2h0m-11 9h0m0 3h0m-24 4h0m26 20h0m-21 1h0m29 20h0m-23 6h0m5 28h0m-4 1h0m-12 2h0m11 5h0m1 1h0m22 2h0m1 1h0m3-259h0m0 42h0m1 1h0m15 17h0m-9 25h0m14 17h0m-18 26h0m13 2h0m-1 2h0m-3 5h0m-2 34h0m-10 4h0m13 9h0m1 34h0m-1 31h0m-6 4h0m11 10h0" stroke="#FF0000" stroke-width="47" stroke-linecap="round" fill="none"/>
<path transform="scale(.1)" d="M1137 15758h0m-14 66h0m-2 93h0m0 32h0m4 56h0m0 5h0m-2 9h0m2 9h0m-3 7h0m5 20h0m-4 10h0m-2 5h0m1 13h0m0 3h0m4 1h0m1 0h0m-6 15h0m0 1h0m34 5h0m-34 0h0m34 4h0m-5 5h0m-29 7h0m5 41h0m28 16h0m-21 0h0m-3 0h0m-4 8h0m23 2h0m-1 1h0m-19 1h0m43-404h0m2 25h0m17 193h0m4 34h0m-19 1h0m0 1h0m-7 3h0m2 12h0m26 0h0m-32 3h0m4 16h0m1 27h0m15 11h0m0 4h0m-21 2h0m11 7h0m-7 0h0m13 1h0m-14 6h0m4 0h0m27 14h0m-38 21h0m33 6h0m-23 9h0m22 5h0m-22 5h0m63-345h0m-21 61h0m24 59h0m2 29h0m-20 44h0m-13 6h0m25 2h0m-2 6h0m-8 6h0m-2 8h0m18 12h0m0 4h0m-16 22h0m10 1h0m-20 10h0m11 3h0m-4 4h0m-7 13h0m2 9h0m-4 2h0m-2 3h0m16 9h0m1 28h0m13 1h0m-22 1h0m63-444h0m-34 208h0m31 144h0m-1 19h0m5 45h0m1 20h0m-21 2h0m50-190h0m-24 24h0m3 91h0m19 0h0m-18 3h0m-3 1h0m4 5h0m17 8h0m13 22h0m-8 30h0m-6 1h0m-3 2h0m14 5h0m-9 1h0m-27 4h0m66-358h0m0 16h0m-24 162h0m20 16h0m1 24h0m6 13h0m-5 9h0m2 9h0m5 21h0m-3 0h0m-2 9h0m1 9h0m-5 17h0m-12 17h0m15 11h0m3 4h0m-2 16h0m-22 2h0m20 1h0m39-286h0m9 122h0m-29 3h0m18 12h0m4 6h0m-7 25h0m-15 15h0m8 25h0m12 13h0m-13 18h0m8 7h0m2 15h0m7 8h0m8 6h0m-27 5h0m-5 4h0m27 2h0m10-280h0m21 79h0m-8 76h0m1 69h0m3 1h0m-2 13h0m19 4h0m-3 6h0m-3 6h0m-21 6h0m8 0h0m17 15h0m-22 2h0m18 4h0m-14 0h0m43-544h0m2 112h0m20 19h0m-24 9h0m-7 174h0m5 71h0m21 63h0m-18 33h0m23 19h0m-5 28h0m2 9h0m-22 7h0m56-448h0m-3 111h0m-2 28h0m-2 28h0m-13 211h0m5 2h0m2 37h0m8 8h0m-7 13h0m21 9h0m-9 2h0m21-357h0m2 34h0m-6 29h0m4 33h0m3 4h0m-1 27h0m15 12h0m-13 27h0m-2 7h0m-7 19h0m3 0h0m6 9h0m-9 6h0m10 4h0m-5 0h0m-3 9h0m-2 13h0m1 2h0m5 11h0m4 2h0m-8 5h0m1 6h0m4 2h0m-3 8h0m5 0h0m1 18h0m-5 3h0m-11 23h0m24 8h0m-1 6h0m-19 2h0m10 11h0m8 11h0m-21 0h0m-1 1h0m43-398h0m0 73h0m6 29h0m-4 76h0m-2 33h0m5 5h0m3 1h0m-3 62h0m-2 9h0m5 9h0m-8 11h0m5 12h0m1 3h0m-2 6h0m17 3h0m-18 7h0m-2 12h0m4 4h0m-4 16h0m28 3h0m-11 1h0m17 5h0m-27 16h0m-7 3h0m22 2h0m25-40h0m-3 32h0m425-246h0m-4 94h0m3 124h0m2 28h0m6-244h0m31 160h0m-31 26h0m2 23h0m26 6h0m-27 2h0m34 13h0m-19 19h0m22 4h0m7-343h0m1 5h0m5 195h0m-6 3h0m6 2h0m2 4h0m-5 3h0m29 2h0m-29 2h0m-7 12h0m1 17h0m2 22h0m14 2h0m11 4h0m-20 0h0m16 21h0m-12 27h0m19 18h0m-12 1h0m45-330h0m0 28h0m2 6h0m-5 130h0m-14 7h0m-1 5h0m7 19h0m-4 17h0m18 20h0m0 2h0m-10 10h0m10 0h0m-19 18h0m23 13h0m-30 1h0m18 1h0m-5 38h0m-13 9h0m22 2h0m9 1h0m-5 4h0m30-402h0m-6 224h0m-12 12h0m33 12h0m4 10h0m2 11h0m-1 0h0m1 1h0m-2 2h0m-5 4h0m-6 0h0m6 13h0m4 1h0m-9 7h0m10 4h0m1 1h0m-1 0h0m-11 11h0m12 5h0m-4 7h0m3 0h0m-24 20h0m10 2h0m-17 13h0m8 0h0m-14 0h0m36 2h0m-33 10h0m2 10h0m28 7h0m6 6h0m-11 2h0m-22 5h0m0 0h0m-1 0h0m35-222h0m31 11h0m2 3h0m-33 32h0m20 20h0m-20 1h0m2 23h0m-2 9h0m0 7h0m21 4h0m1 2h0m17 7h0m-4 1h0m-35 12h0m5 1h0m2 13h0m5 1h0m-1 31h0m10 0h0m-21 36h0m10 5h0m22 3h0m2 2h0m-17 0h0m29-512h0m1 28h0m0 28h0m0 28h0m-6 28h0m6 28h0m-2 28h0m-3 28h0m2 42h0m5 55h0m-6 15h0m7 37h0m-5 18h0m32 8h0m-30 0h0m-2 9h0m14 5h0m14 0h0m-1 5h0m-23 13h0m28 2h0m-36 13h0m13 2h0m-13 2h0m29 1h0m-8 0h0m17 7h0m-25 4h0m-1 3h0m-5 12h0m16 15h0m-13 0h0m19 13h0m-21 10h0m23 9h0m-18 6h0m22 10h0m5-204h0m36 18h0m-6 45h0m-3 15h0m-3 10h0m-17 58h0m3 8h0m-8 1h0m15 16h0m-6 12h0m10 7h0m-5 1h0m-12 8h0m13 1h0m12 2h0m13-193h0m0 4h0m1 31h0m34 8h0m-36 1h0m0 10h0m3 22h0m-5 1h0m9 4h0m-8 16h0m17 9h0m-10 30h0m20 8h0m0 4h0m-24 6h0m21 12h0m-22 3h0m19 22h0m-15 1h0m-7 2h0m40-218h0m38 28h0m-34 12h0m8 13h0m-7 9h0m5 2h0m-4 19h0m27 52h0m-2 6h0m-21 12h0m8 9h0m11 6h0m6 8h0m-16 4h0m-15 36h0m22 1h0m10 2h0m16-149h0m-8 21h0m8 13h0m0 33h0m-5 6h0m5 12h0m-9 1h0m6 12h0m3 14h0m0 6h0m-10 19h0m6 13h0m387-135h0m-1 7h0m0 8h0m1 93h0m4 21h0m13-276h0m11 57h0m-8 85h0m7 9h0m2 65h0m-22 17h0m2 27h0m17 17h0m27-269h0m18 2h0m8 124h0m4 45h0m-27 5h0m6 19h0m-5 5h0m7 1h0m-18 15h0m1 0h0m26 12h0m-12 3h0m14 10h0m6 21h0m-11 2h0m-22 9h0m72-170h0m-2 5h0m4 15h0m-4 7h0m3 16h0m0 4h0m-10 0h0m8 11h0m4 1h0m-7 16h0m8 10h0m-9 17h0m-4 6h0m11 9h0m-20 12h0m21 9h0m-25 12h0m-12 8h0m28 5h0m-16 2h0m-6 5h0m34-294h0m36 43h0m-34 13h0m32 22h0m-34 14h0m37 58h0m-31 4h0m-6 33h0m26 6h0m-25 3h0m35 9h0m1 24h0m-38 9h0m1 5h0m35 10h0m1 4h0m-16 9h0m-10 23h0m22 1h0m6 4h0m5-157h0m-2 4h0m1 0h0m1 19h0m31 3h0m-31 8h0m27 2h0m-5 7h0m11 16h0m-27 0h0m6 15h0m-11 9h0m31 24h0m3 4h0m-3 0h0m-22 1h0m-13 31h0m36 7h0m-22 0h0m31-420h0m-1 28h0m4 28h0m1 28h0m0 252h0m29 1h0m-39 2h0m14 4h0m4 9h0m0 15h0m20 1h0m-10 2h0m-4 1h0m-7 3h0m-8 2h0m0 2h0m22 8h0m-14 1h0m-12 6h0m31 18h0m-17 10h0m-11 3h0m-6 3h0m67-334h0m0 72h0m0 16h0m4 88h0m-5 3h0m3 3h0m0 4h0m2 4h0m0 15h0m1 5h0m-5 2h0m-3 1h0m0 2h0m7 0h0m-17 37h0m-13 9h0m26 3h0m5 8h0m-7 18h0m-9 2h0m-14 0h0m10 3h0m20 27h0m-33 9h0m28 1h0m-6 1h0m36-192h0m-11 93h0m16 0h0m-19 3h0m31 0h0m-4 4h0m-3 11h0m-14 10h0m11 15h0m-24 1h0m21 9h0m-3 12h0m7 3h0m-1 9h0m9 1h0m-7 2h0m-1 12h0m-27 1h0m5 8h0m44-83h0m-3 22h0m6 1h0m0 12h0m-5 16h0m2 17h0m0 4h0m-5 0h0m9 4h0m4 2h0m338-332h0m-5 28h0m4 131h0m4 9h0m0 96h0m-4 30h0m4 24h0m1 11h0m17-188h0m21 12h0m-20 2h0m-1 16h0m0 2h0m-2 1h0m16 1h0m-19 8h0m27 2h0m-37 6h0m19 8h0m19 9h0m-24 4h0m20 0h0m-13 4h0m-8 13h0m1 24h0m19 15h0m-30 44h0m-1 8h0m7 9h0m11 4h0m46-313h0m-1 59h0m-19 40h0m22 14h0m-4 18h0m-9 10h0m10 0h0m-2 11h0m-12 17h0m14 1h0m-6 8h0m8 2h0m-25 12h0m23 4h0m5 2h0m4 7h0m0 0h0m3 8h0m1 1h0m-15 0h0m-1 6h0m-4 1h0m3 18h0m-16 4h0m22 5h0m-20 2h0m20 34h0m9 9h0m-12 14h0m-22 3h0m69-585h0m0 28h0m5 28h0m-28 282h0m2 16h0m-6 16h0m4 5h0m-6 30h0m7 3h0m-2 9h0m4 6h0m-6 2h0m0 1h0m5 2h0m-1 0h0m-1 7h0m-2 8h0m0 10h0m-3 19h0m12 16h0m-7 3h0m29 3h0m-29 6h0m-2 5h0m6 0h0m6 11h0m-9 9h0m0 8h0m-5 3h0m31 4h0m-22 1h0m21 17h0m-2 3h0m-27 0h0m11 8h0m-11 1h0m7 6h0m21 1h0m-29 9h0m24 5h0m-22 1h0m39-253h0m25 85h0m-20 10h0m14 26h0m-24 16h0m6 3h0m11 0h0m0 6h0m-1 11h0m12 2h0m0 34h0m-20 13h0m25 8h0m-5 19h0m6 1h0m-24 8h0m22 8h0m32-376h0m3 113h0m4 53h0m-6 25h0m1 17h0m1 21h0m7 12h0m-23 4h0m21 8h0m-4 4h0m-20 12h0m-3 1h0m31 34h0m-29 3h0m-4 0h0m22 1h0m-3 27h0m4 2h0m10 34h0m-35 3h0m13 4h0m61-346h0m3 28h0m-3 28h0m-23 87h0m6 26h0m6 52h0m-1 18h0m-8 2h0m-15 2h0m31 1h0m-25 11h0m22 11h0m8 1h0m-20 37h0m6 2h0m8 5h0m5 3h0m-31 21h0m9 3h0m5 5h0m28-205h0m29 56h0m-2 0h0m-16 33h0m-15 0h0m12 0h0m-6 36h0m24 6h0m4 18h0m-13 21h0m7 8h0m-6 5h0m4 17h0m-28 2h0m22 6h0m-5 1h0m27-156h0m0 31h0m-1 43h0m-4 15h0m5 1h0m-1 22h0m1 40h0m276-445h0m22 14h0m-22 21h0m0 27h0m22 8h0m-11 163h0m-2 4h0m25 87h0m-17 14h0m10 12h0m10 0h0m-2 3h0m-13 6h0m-4 7h0m-4 12h0m4 1h0m-9 4h0m0 16h0m2 20h0m13 6h0m-16 11h0m27 2h0m-22 10h0m31-572h0m-4 28h0m33 298h0m-28 51h0m4 23h0m12 10h0m-12 11h0m18 1h0m-20 30h0m-8 10h0m30 3h0m-20 11h0m16 6h0m0 8h0m-1 7h0m6 1h0m-9 3h0m5 1h0m-17 35h0m-1 12h0m-3 7h0m12 8h0m57-152h0m-17 15h0m2 17h0m16 1h0m-10 14h0m-2 0h0m-13 18h0m-1 5h0m-2 25h0m24 21h0m-19 7h0m-3 16h0m7 2h0m5 12h0m-22 7h0m55-371h0m3 28h0m-3 88h0m-12 8h0m23 94h0m4 25h0m-30 17h0m16 3h0m-12 9h0m33 22h0m-4 11h0m-14 13h0m14 4h0m-18 1h0m3 20h0m11 11h0m-3 9h0m-22 0h0m13 5h0m59-362h0m1 56h0m-11 22h0m12 6h0m-1 146h0m-36 1h0m15 9h0m20 1h0m3 2h0m-26 6h0m16 3h0m-12 1h0m-9 7h0m31 1h0m-27 4h0m-3 2h0m-5 5h0m11 14h0m17 25h0m-28 11h0m23 0h0m-19 36h0m22 1h0m-21 6h0m44-204h0m6 12h0m2 23h0m-7 2h0m4 3h0m-5 19h0m0 6h0m23 9h0m-2 9h0m-32 15h0m11 9h0m9 5h0m-8 50h0m4 3h0m-13 17h0m29 5h0m-12 4h0m15 2h0m-3 3h0m-13 2h0m-9 0h0m27 5h0m21-276h0m-5 8h0m0 32h0m6 36h0m-2 9h0m3 21h0m0 0h0m0 3h0m-1 9h0m3 6h0m-6 4h0m0 4h0m0 4h0m10 20h0m4 8h0m-18 5h0m8 3h0m-4 3h0m-15 26h0m10 11h0m16 17h0m-14 11h0m-2 9h0m8 4h0m12 15h0m5 7h0m-22 0h0m9 1h0m0 1h0m21-254h0m12 8h0m-9 131h0m6 7h0m-2 32h0m1 12h0m-1 12h0m300-51h0m-3 10h0m8 25h0m1 23h0m-11 20h0m6 1h0m-9 9h0m1 5h0m-3 3h0m3 3h0m2 1h0m33-175h0m-1 65h0m1 1h0m13 10h0m-26 9h0m27 7h0m-10 2h0m-17 12h0m8 22h0m-6 0h0m21 2h0m-15 20h0m16 21h0m-22 2h0m22 4h0m18-223h0m11 52h0m-16 26h0m-2 11h0m7 5h0m15 12h0m4 9h0m5 6h0m-31 4h0m26 9h0m-27 33h0m15 8h0m19 8h0m-12 4h0m-18 12h0m8 16h0m22 4h0m29-120h0m-5 2h0m5 9h0m-3 2h0m8 1h0m-1 7h0m-20 16h0m-5 1h0m3 4h0m27 29h0m-16 16h0m2 7h0m3 0h0m-17 2h0m31 2h0m-34 3h0m27 18h0m3 3h0m-15 0h0m58-222h0m1 85h0m1 0h0m1 23h0m-5 29h0m5 15h0m-14 1h0m6 6h0m3 17h0m5 2h0m-24 2h0m17 2h0m-16 25h0m19 3h0m-35 10h0m22 1h0m-20 5h0m38-272h0m0 89h0m31 2h0m-29 12h0m2 15h0m-3 8h0m36 9h0m-36 5h0m1 1h0m1 4h0m-1 3h0m26 6h0m-17 4h0m-8 6h0m-2 2h0m-1 31h0m10 15h0m21 6h0m2 17h0m-30 13h0m23 15h0m-22 2h0m63-345h0m-18 249h0m5 11h0m22 18h0m-10 5h0m-15 20h0m-1 11h0m26 0h0m-9 4h0m-4 0h0m-4 1h0m-16 9h0m13 7h0m13 4h0m-12 6h0m13 1h0m-22 3h0m41-186h0m0 58h0m0 1h0m0 53h0m-1 1h0m-8 33h0m276-245h0m-2 4h0m-3 46h0m7 26h0m-2 1h0m-20 19h0m0 15h0m0 1h0m10 10h0m9 33h0m-2 1h0m3 7h0m-2 26h0m-13 28h0m5 12h0m-10 2h0m15 9h0m-15 6h0m0 0h0m23 14h0m-15 6h0m-5 2h0m10 10h0m-8 2h0m3 1h0m5 5h0m30-601h0m-9 303h0m-5 9h0m31 26h0m-35 29h0m7 43h0m8 5h0m2 3h0m1 9h0m11 8h0m-15 29h0m4 55h0m-4 4h0m0 10h0m-3 2h0m14 3h0m13 6h0m-5 2h0m-14 4h0m10 21h0m8 2h0m-34 4h0m14 16h0m-15 1h0m22 5h0m35-525h0m-1 28h0m-10 112h0m-4 28h0m0 95h0m3 36h0m-5 1h0m-2 4h0m6 5h0m-5 15h0m9 10h0m6 32h0m6 14h0m-8 5h0m7 3h0m-20 3h0m7 9h0m27 12h0m-7 12h0m-6 4h0m0 14h0m-18 12h0m20 9h0m13 45h0m-20 1h0m-11 10h0m22 8h0m20-354h0m3 63h0m-2 3h0m-4 25h0m0 2h0m6 53h0m8 16h0m1 8h0m13 14h0m-33 5h0m18 4h0m12 9h0m0 11h0m-10 20h0m3 15h0m2 3h0m-8 4h0m0 8h0m19 0h0m-16 9h0m-4 4h0m-3 3h0m7 14h0m-8 14h0m23 20h0m3 10h0m-6 10h0m-22 3h0m0 5h0m52-256h0m2 5h0m-12 5h0m23 13h0m-15 2h0m-1 7h0m2 3h0m0 1h0m6 3h0m-7 10h0m4 5h0m-1 1h0m4 3h0m-9 2h0m13 9h0m-1 11h0m-24 11h0m26 2h0m-18 22h0m-11 19h0m35 5h0m-12 2h0m-7 3h0m-5 14h0m-8 27h0m13 0h0m-20 2h0m19 5h0m-5 0h0m-12 2h0m29 4h0m1 10h0m-15 2h0m11 5h0m-13 26h0m5 2h0m17 6h0m-37 5h0m15 1h0m53-338h0m-20 28h0m0 28h0m3 28h0m26 45h0m-37 26h0m3 4h0m24 17h0m1 0h0m-16 16h0m23 8h0m-5 14h0m8 20h0m-11 4h0m-23 27h0m22 6h0m-7 17h0m13 15h0m-28 8h0m9 7h0m19 12h0m-10 5h0m-3 4h0m213-539h0m5 258h0m-2 81h0m4 22h0m-5 10h0m-2 10h0m6 5h0m1 5h0m-1 5h0m0 13h0m-6 19h0m2 27h0m3 1h0m-3 4h0m2 76h0m-2 0h0m3 5h0m38-238h0m-34 50h0m-1 31h0m0 8h0m30 8h0m-14 5h0m12 0h0m0 3h0m4 2h0m-32 16h0m26 10h0m-3 5h0m4 0h0m-24 16h0m7 2h0m8 11h0m-12 4h0m18 5h0m-22 4h0m-2 12h0m16 0h0m3 32h0m0 7h0m29-320h0m-3 68h0m5 28h0m5 24h0m-4 9h0m3 7h0m16 33h0m-20 12h0m17 18h0m-23 22h0m4 1h0m25 12h0m-2 1h0m-3 24h0m-28 17h0m36 11h0m-34 10h0m9 9h0m1 3h0m11 13h0m-22 2h0m77-219h0m-19 28h0m17 72h0m-9 3h0m1 45h0m-17 13h0m-10 3h0m8 0h0m13 15h0m-9 18h0m10 5h0m4 12h0m-22 7h0m20 0h0m48-265h0m-16 66h0m11 20h0m-3 31h0m7 2h0m-1 3h0m-10 13h0m-9 5h0m8 11h0m16 5h0m-1 18h0m-11 5h0m11 13h0m-4 1h0m-18 2h0m21 3h0m-25 6h0m-2 2h0m8 1h0m17 1h0m-12 8h0m-5 22h0m10 4h0m12 17h0m-6 4h0m-22 1h0m45-78h0m-9 13h0m9 6h0m-11 33h0m12 20h0m-2 4h0m173-148h0m20-89h0m4 18h0m20 54h0m-27 11h0m-2 31h0m5 21h0m-6 11h0m27 4h0m-25 5h0m35 9h0m1 14h0m-38 3h0m1 27h0m15 9h0m-16 5h0m5 7h0m-5 4h0m27 5h0m24-252h0m-2 48h0m-5 65h0m1 9h0m6 9h0m16 3h0m-18 1h0m-2 4h0m-1 1h0m-1 0h0m10 3h0m-5 0h0m3 6h0m-6 4h0m0 36h0m27 11h0m-3 20h0m2 3h0m-9 2h0m-10 5h0m17 13h0m8 2h0m-30 2h0m46-498h0m0 181h0m1 28h0m-3 28h0m4 28h0m3 28h0m-7 81h0m-11 20h0m12 1h0m20 5h0m4 17h0m-37 21h0m8 11h0m-8 1h0m33 14h0m-12 5h0m-1 9h0m-6 1h0m0 6h0m8 7h0m-10 6h0m26 4h0m-4 1h0m26-297h0m1 56h0m2 28h0m-3 28h0m-20 79h0m142-218h0m0 70h0m2 57h0m6 21h0m-6 5h0m0 8h0m14 5h0m-12 3h0m-2 12h0m0 58h0m4 49h0m1 28h0m4 5h0m20-307h0m5 69h0m-7 24h0m2 9h0m4 1h0m-2 2h0m-5 2h0m1 5h0m12 16h0m-10 15h0m-11 4h0m23 25h0m-13 18h0m-11 14h0m17 2h0m4 2h0m-8 3h0m12 9h0m8 9h0m-9 0h0m-20 11h0m28 3h0m-17 13h0m9 3h0m-6 11h0m-13 15h0m5 4h0m1 10h0m-1 7h0m22 6h0m11-455h0m32 163h0m-5 7h0m0 49h0m6 5h0m-7 10h0m2 17h0m2 7h0m-7 5h0m-19 13h0m2 11h0m0 6h0m0 6h0m-3 3h0m29 10h0m-8 11h0m0 9h0m1 4h0m-12 28h0m7 10h0m9 25h0m-2 2h0m-2 7h0m6 5h0m-5 5h0m2 3h0m-2 4h0m-1 6h0m5 4h0m-5 10h0m4 0h0m-18 4h0m22 2h0m3-177h0m16 14h0m16 1h0m-10 4h0m-12 7h0m6 11h0m12 8h0m-23 10h0m-4 4h0m7 7h0m8 10h0m17 22h0m-17 15h0m8 58h0m-2 3h0m-3 4h0m131-252h0m0 18h0m0 4h0m1 61h0m-1 2h0m2 35h0m-2 0h0m0 10h0m8 0h0m-4 1h0m-2 10h0m1 38h0m-2 3h0m4 66h0m3 8h0m10-462h0m22 47h0m-22 23h0m24 5h0m-1 28h0m5 20h0m-4 8h0m2 18h0m-3 10h0m0 9h0m6 3h0m-4 5h0m-1 10h0m0 0h0m-1 1h0m-18 12h0m9 35h0m8 3h0m-26 2h0m6 7h0m-2 6h0m15 4h0m10 3h0m-6 7h0m-8 9h0m18 1h0m-20 10h0m17 1h0m1 4h0m-20 1h0m-3 20h0m25 4h0m-24 38h0m23 0h0m2 2h0m-1 28h0m-7 8h0m-14 3h0m1 59h0m-10 3h0m36-550h0m6 93h0m6 41h0m-9 71h0m25 25h0m-32 48h0m39 15h0m-35 31h0m2 43h0m25 5h0m-31 4h0m1 9h0m-1 13h0m4 3h0m20 21h0m-13 1h0m9 14h0m1 2h0m16 7h0m-14 0h0m6 1h0m-15 2h0m18 9h0m-31 6h0m30 10h0m-11 32h0m-11 1h0m-6 24h0m29 5h0m-10 10h0m-22 2h0m48-286h0m-2 34h0m2 29h0m-3 1h0m-3 14h0m5 41h0m-7 9h0m0 105h0m8 4h0m0 3h0m-4 47h0" stroke="#FFA500" stroke-width="47" stroke-linecap="round" fill="none"/>
<path transform="scale(.1)" d="M2173 12101h0m0 29h0m0 29h0m0 29h0m0 29h0m0 29h0m0 29h0m0 29h0m0 29h0m0 29h0m0 29h0m0 29h0m0 29h0m0 29h0m0 29h0m0 147h0m0 202h0m0 29h0m0 29h0m0 29h0m0 29h0m0 29h0m0 125h0m0 29h0m0 29h0m0 29h0m0 196h0m0 29h0m0 499h0m0 29h0m0 29h0m0 29h0m0 194h0m0 29h0m0 29h0m0 29h0m0 29h0m0 29h0m0 29h0m0 29h0m0 87h0m0 145h0m0 86h0m0 106h0m0 455h0m0 86h0m0 29h0m0 29h0m0 29h0m0 29h0m0 29h0m0 29h0m0 29h0m0 114h0m0 29h0m0 29h0m0 29h0m0 29h0m0 95h0m0 29h0m0 29h0m0 29h0m0 29h0m0 29h0m0 29h0m0 29h0m0 29h0m0 29h0m438-713h0m1884 19h0m0 23h0m1 233h0m724-300h0m99 48h0m582-25h0m378-75h0m168 67h0" stroke="#1E90FF" stroke-width="47" stroke-linecap="round" fill="none"/>
<text x="222.6" y="1207.6" font-size="13.3" fill="#1E90FF">UGT2B</text>
<text x="265.1" y="1545.3" font-size="5.6" fill="#1E90FF">LOC105379080</text>
<text x="451.8" y="1547" font-size="5.6" fill="#1E90FF">TENM4</text>
<text x="524.9" y="1542.2" font-size="5.6" fill="#1E90FF">chr14q21.3</text>
<text x="534" y="1546.6" font-size="5.6" fill="#1E90FF">ATG2B</text>
<text x="593" y="1544.7" font-size="5.6" fill="#1E90FF">chr18p11.32</text>
<text x="630" y="1537.3" font-size="5.6" fill="#1E90FF">PREX1</text>
<text x="647.2" y="1543.5" font-size="5.6" fill="#1E90FF">PRODH</text>
<line x1="33.04" x2="681.0" y1="1549.9" y2="1549.9" stroke="#262626" stroke-width="1.4" stroke-dasharray="3.4 3.36"/>
<path d="M33.0 1190.1V1639.5" fill="none" stroke="#2a2a2a" stroke-width="1.2"/>
<path d="M32.4 1639.5H681.0" fill="none" stroke="#1a1a1a" stroke-width="1.05"/>
<path d="M30.8 1522.1H33.0" stroke="#333" stroke-width="1.1"/>
<text x="28.8" y="1525.5" font-size="9.5" fill="#4d4d4d" text-anchor="end">10</text>
<path d="M30.8 1383.0H33.0" stroke="#333" stroke-width="1.1"/>
<text x="28.8" y="1386.4" font-size="9.5" fill="#4d4d4d" text-anchor="end">20</text>
<path d="M30.8 1243.9H33.0" stroke="#333" stroke-width="1.1"/>
<text x="28.8" y="1247.3" font-size="9.5" fill="#4d4d4d" text-anchor="end">30</text>
<path d="M87.4 1639.5v2.4" stroke="#333" stroke-width="1.1"/>
<text x="87.4" y="1650.5" font-size="9.5" fill="#4d4d4d" text-anchor="middle">1</text>
<path d="M137.4 1639.5v2.4" stroke="#333" stroke-width="1.1"/>
<text x="137.4" y="1650.5" font-size="9.5" fill="#4d4d4d" text-anchor="middle">2</text>
<path d="M182.4 1639.5v2.4" stroke="#333" stroke-width="1.1"/>
<text x="182.4" y="1650.5" font-size="9.5" fill="#4d4d4d" text-anchor="middle">3</text>
<path d="M222.3 1639.5v2.4" stroke="#333" stroke-width="1.1"/>
<text x="222.3" y="1650.5" font-size="9.5" fill="#4d4d4d" text-anchor="middle">4</text>
<path d="M260.5 1639.5v2.4" stroke="#333" stroke-width="1.1"/>
<text x="260.5" y="1650.5" font-size="9.5" fill="#4d4d4d" text-anchor="middle">5</text>
<path d="M296 1639.5v2.4" stroke="#333" stroke-width="1.1"/>
<text x="296" y="1650.5" font-size="9.5" fill="#4d4d4d" text-anchor="middle">6</text>
<path d="M329.3 1639.5v2.4" stroke="#333" stroke-width="1.1"/>
<text x="329.3" y="1650.5" font-size="9.5" fill="#4d4d4d" text-anchor="middle">7</text>
<path d="M360.6 1639.5v2.4" stroke="#333" stroke-width="1.1"/>
<text x="360.6" y="1650.5" font-size="9.5" fill="#4d4d4d" text-anchor="middle">8</text>
<path d="M391 1639.5v2.4" stroke="#333" stroke-width="1.1"/>
<text x="391" y="1650.5" font-size="9.5" fill="#4d4d4d" text-anchor="middle">9</text>
<path d="M419.7 1639.5v2.4" stroke="#333" stroke-width="1.1"/>
<text x="419.7" y="1650.5" font-size="9.5" fill="#4d4d4d" text-anchor="middle">10</text>
<path d="M447 1639.5v2.4" stroke="#333" stroke-width="1.1"/>
<text x="447" y="1650.5" font-size="9.5" fill="#4d4d4d" text-anchor="middle">11</text>
<path d="M475 1639.5v2.4" stroke="#333" stroke-width="1.1"/>
<text x="475" y="1650.5" font-size="9.5" fill="#4d4d4d" text-anchor="middle">12</text>
<path d="M502.5 1639.5v2.4" stroke="#333" stroke-width="1.1"/>
<text x="502.5" y="1650.5" font-size="9.5" fill="#4d4d4d" text-anchor="middle">13</text>
<path d="M525.3 1639.5v2.4" stroke="#333" stroke-width="1.1"/>
<text x="525.3" y="1650.5" font-size="9.5" fill="#4d4d4d" text-anchor="middle">14</text>
<path d="M547 1639.5v2.4" stroke="#333" stroke-width="1.1"/>
<text x="547" y="1650.5" font-size="9.5" fill="#4d4d4d" text-anchor="middle">15</text>
<path d="M564.8 1639.5v2.4" stroke="#333" stroke-width="1.1"/>
<text x="564.8" y="1650.5" font-size="9.5" fill="#4d4d4d" text-anchor="middle">16</text>
<path d="M581.8 1639.5v2.4" stroke="#333" stroke-width="1.1"/>
<text x="581.8" y="1650.5" font-size="9.5" fill="#4d4d4d" text-anchor="middle">17</text>
<path d="M598.4 1639.5v2.4" stroke="#333" stroke-width="1.1"/>
<text x="598.4" y="1650.5" font-size="9.5" fill="#4d4d4d" text-anchor="middle">18</text>
<path d="M612 1639.5v2.4" stroke="#333" stroke-width="1.1"/>
<text x="612" y="1650.5" font-size="9.5" fill="#4d4d4d" text-anchor="middle">19</text>
<path d="M624.7 1639.5v2.4" stroke="#333" stroke-width="1.1"/>
<text x="624.7" y="1650.5" font-size="9.5" fill="#4d4d4d" text-anchor="middle">20</text>
<path d="M637.5 1639.5v2.4" stroke="#333" stroke-width="1.1"/>
<text x="637.5" y="1650.5" font-size="9.5" fill="#4d4d4d" text-anchor="middle">21</text>
<path d="M648.3 1639.5v2.4" stroke="#333" stroke-width="1.1"/>
<text x="648.3" y="1650.5" font-size="9.5" fill="#4d4d4d" text-anchor="middle">22</text>
<text x="356.7" y="1664.3" font-size="12.5" fill="#000" text-anchor="middle">Position</text>
<text transform="translate(13.2 1415.4) rotate(-90)" font-size="12.6" fill="#000" text-anchor="middle">−log10(P−value)</text>
<text x="37.4" y="1688.5" font-size="13.3" font-style="italic" fill="#000">Base pairs corresponding to labeled genes or regions are highlighted in blue. Chromosomes are</text>
<text x="37.4" y="1703.5" font-size="13.3" font-style="italic" fill="#000">alternately colored red and yellow.</text>
</svg></body></html>
